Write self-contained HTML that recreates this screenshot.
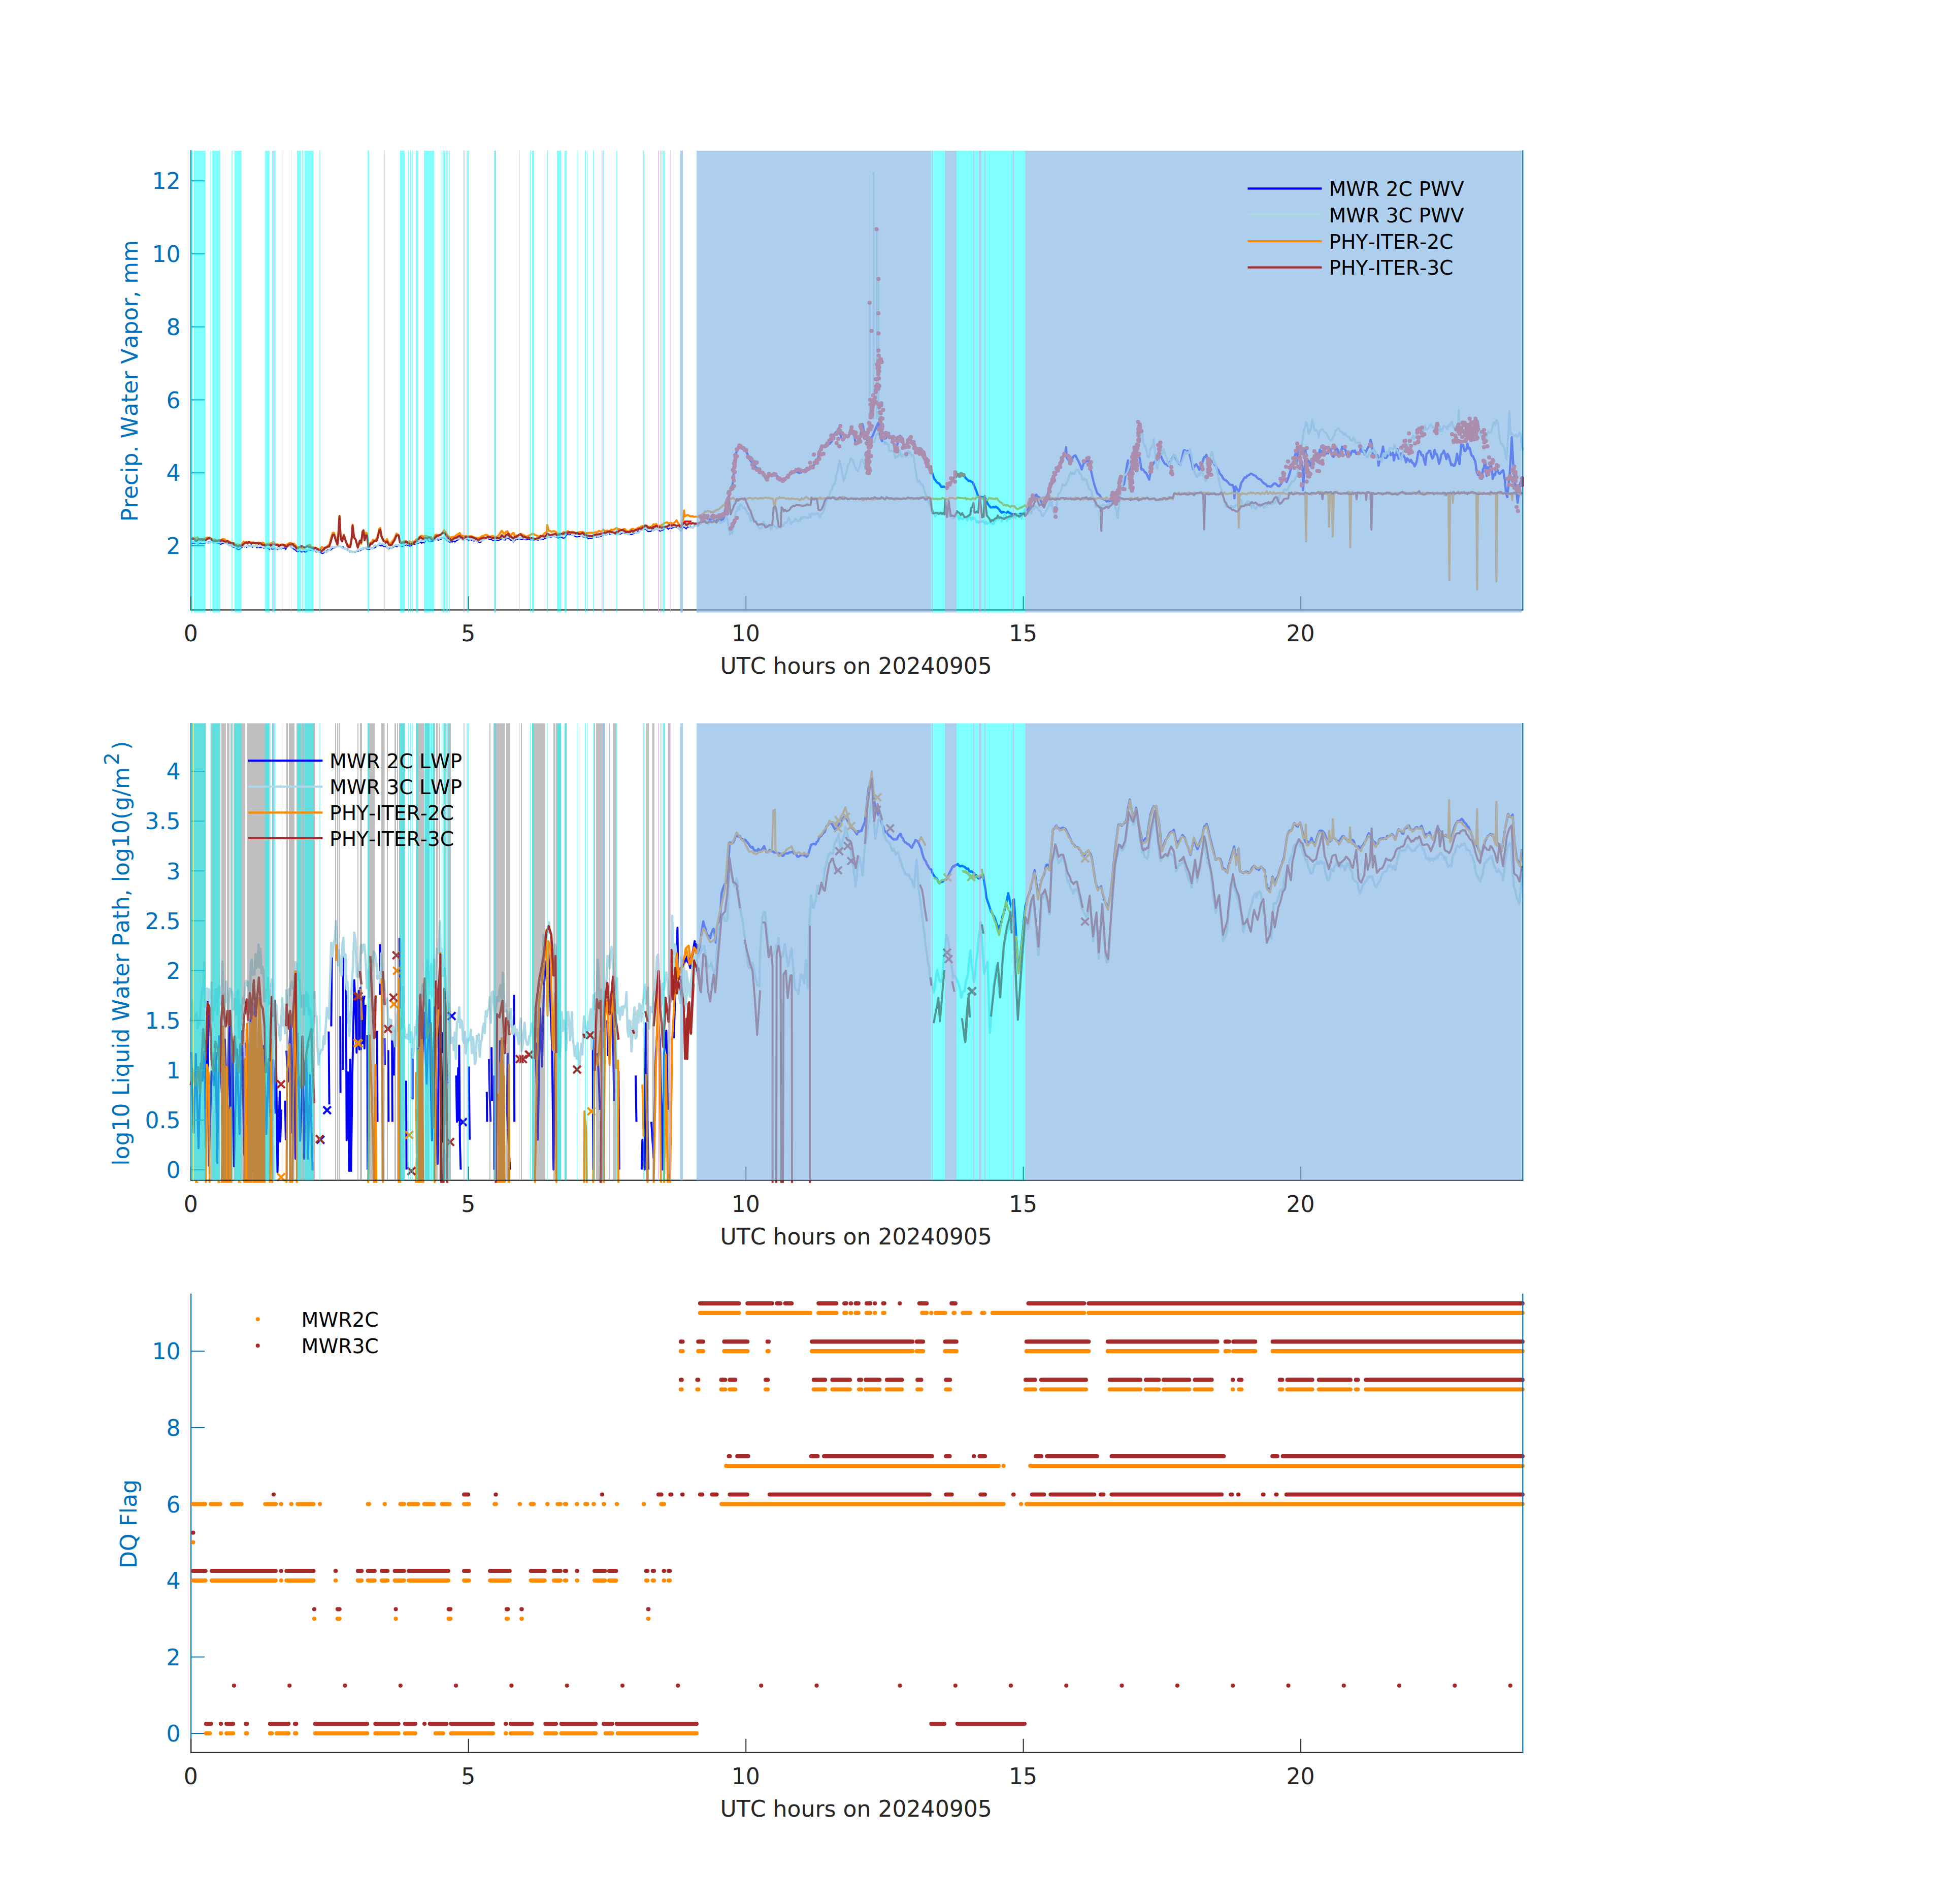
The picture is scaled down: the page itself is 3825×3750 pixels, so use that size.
<!DOCTYPE html>
<html><head><meta charset="utf-8"><title>MWR retrievals 20240905</title>
<style>html,body{margin:0;padding:0;background:#fff}svg{display:block}</style></head>
<body>
<svg width="3825" height="3750" viewBox="0 0 3825 3750" font-family="'DejaVu Sans','Liberation Sans',sans-serif" style="font-kerning:none">
<rect width="3825" height="3750" fill="#fff"/>
<g id="ax1">
<clipPath id="cl0"><rect x="373.2" y="296.7" width="2631.1" height="909.6"/></clipPath>
<g clip-path="url(#cl0)"><path d="M376.7 1069.4L378.9 1071.0L381.2 1068.8L383.4 1070.4L385.6 1069.5L387.9 1069.0L390.1 1071.7L392.3 1070.6L394.5 1069.8L396.8 1070.5L399.0 1071.2L401.2 1070.0L403.5 1070.2L405.7 1068.2L407.9 1068.0L410.2 1067.8L412.4 1066.9L414.6 1066.4L416.9 1066.2L419.1 1068.1L421.3 1069.3L423.6 1069.7L425.8 1070.4L428.1 1069.0L430.4 1070.0L432.7 1071.0L435.0 1072.2L437.3 1070.6L439.6 1070.6L442.3 1069.1L445.0 1070.8L447.7 1069.6L450.3 1070.5L452.6 1074.8L454.9 1072.8L457.2 1076.4L459.5 1077.8L461.8 1078.1L464.1 1079.7L466.4 1080.9L469.1 1082.5L471.8 1081.9L474.4 1079.5L477.1 1077.6L479.3 1076.6L481.6 1077.2L483.8 1076.3L486.0 1078.2L488.3 1075.0L490.5 1074.4L492.7 1074.6L495.0 1073.2L497.2 1077.9L499.4 1074.3L501.7 1075.6L503.9 1075.9L506.2 1079.2L508.5 1076.0L510.8 1078.8L513.1 1077.8L515.4 1078.3L517.7 1078.1L519.9 1079.8L522.6 1078.3L525.3 1079.0L528.0 1080.0L530.7 1082.5L533.0 1078.0L535.3 1081.3L537.5 1082.0L539.8 1080.5L542.1 1080.9L544.4 1080.1L546.7 1082.5L549.0 1081.6L551.3 1080.6L553.6 1080.1L555.9 1079.9L558.2 1079.8L560.5 1078.8L562.8 1082.1L565.5 1076.4L568.1 1070.5L570.8 1074.7L573.5 1077.3L576.2 1079.9L578.9 1081.5L581.5 1083.2L584.2 1085.7L586.5 1086.7L588.8 1085.3L591.1 1084.7L593.4 1087.4L595.7 1086.7L598.0 1084.4L600.3 1087.7L603.0 1086.9L605.6 1084.7L608.3 1082.8L611.0 1083.8L613.3 1083.3L615.6 1083.1L617.9 1082.9L620.2 1084.2L622.5 1087.2L624.8 1086.7L627.1 1085.5L629.3 1087.8L631.5 1088.3L633.7 1089.7L636.0 1090.1L638.2 1088.1L640.4 1086.8L643.1 1085.4L645.8 1082.5L648.5 1082.9L651.2 1083.3L653.8 1081.1L656.5 1079.7L659.2 1078.9L661.9 1077.5L664.5 1075.8L667.2 1074.8L669.9 1075.7L672.6 1077.3L675.3 1076.7L677.9 1079.3L680.2 1081.5L682.4 1081.9L684.6 1081.6L686.9 1084.1L689.1 1087.0L691.3 1086.1L694.0 1086.0L696.7 1086.1L699.4 1087.9L702.0 1085.3L704.7 1086.0L707.4 1084.0L710.1 1084.3L712.7 1082.8L715.4 1081.3L718.1 1079.8L720.8 1080.5L723.5 1081.5L726.1 1082.2L728.8 1081.4L731.5 1079.3L734.2 1079.3L736.8 1079.6L739.5 1077.8L742.2 1075.6L744.9 1074.0L747.6 1074.1L750.2 1075.3L752.9 1074.4L755.6 1076.2L758.3 1076.6L760.9 1077.1L763.6 1080.6L766.3 1080.8L769.0 1078.7L771.6 1078.7L774.3 1078.4L777.0 1076.3L779.7 1075.6L782.4 1076.7L785.0 1074.0L787.7 1075.5L790.4 1076.3L793.1 1076.1L795.7 1073.3L798.4 1074.0L801.1 1073.0L803.8 1074.6L806.5 1075.4L809.1 1075.3L811.8 1073.0L814.5 1071.6L817.2 1072.3L819.8 1069.7L822.5 1069.9L825.2 1069.4L827.9 1067.6L830.6 1069.8L833.2 1067.8L835.9 1069.5L838.6 1064.5L841.3 1061.8L843.9 1065.4L846.6 1066.7L849.3 1066.2L852.0 1066.5L854.2 1063.4L856.4 1063.3L858.7 1062.4L860.9 1062.6L863.1 1063.9L865.4 1062.9L867.7 1062.6L870.1 1060.6L872.4 1059.7L874.7 1059.7L877.4 1061.2L880.1 1065.0L882.8 1064.8L885.4 1068.4L888.0 1066.6L890.7 1067.7L893.4 1065.6L896.1 1067.5L898.4 1065.3L900.8 1063.9L903.1 1063.0L905.4 1060.0L907.7 1060.1L909.9 1059.5L912.1 1064.3L914.8 1062.6L917.5 1061.6L920.2 1061.5L922.8 1065.1L925.5 1062.2L928.2 1063.9L930.9 1064.1L933.6 1065.7L936.2 1063.6L938.9 1064.9L941.6 1067.3L944.3 1068.1L946.9 1068.0L949.6 1064.2L952.3 1063.1L955.0 1062.6L957.7 1060.6L960.3 1059.5L963.0 1061.8L965.7 1062.7L968.4 1062.8L971.0 1064.8L973.7 1063.1L976.4 1064.3L979.1 1064.2L981.8 1064.2L984.0 1063.5L986.2 1062.1L988.4 1060.8L992.5 1063.5L994.7 1063.9L996.9 1060.2L999.2 1059.3L1001.4 1060.9L1003.6 1061.3L1005.9 1064.0L1008.5 1064.0L1011.2 1067.6L1013.9 1064.3L1016.6 1062.3L1019.2 1061.6L1021.9 1062.2L1024.6 1062.3L1027.3 1062.1L1029.9 1061.7L1032.6 1061.0L1035.3 1063.2L1038.0 1063.1L1040.7 1061.3L1043.3 1062.9L1046.0 1063.4L1048.7 1062.5L1051.4 1064.4L1054.0 1062.7L1056.7 1062.6L1059.4 1064.3L1062.1 1062.5L1064.8 1063.2L1067.4 1061.3L1070.1 1062.9L1072.8 1060.4L1075.5 1059.7L1078.1 1056.3L1080.8 1056.7L1083.5 1058.4L1086.2 1058.4L1088.9 1055.1L1091.5 1056.9L1094.2 1057.5L1096.9 1057.2L1099.6 1059.9L1102.2 1058.3L1104.9 1058.1L1107.6 1059.3L1110.3 1059.8L1113.0 1058.9L1115.6 1054.6L1118.3 1051.1L1121.0 1053.4L1123.7 1052.2L1126.3 1053.7L1129.0 1053.0L1131.7 1055.9L1134.4 1057.1L1137.1 1057.5L1139.7 1056.9L1142.4 1056.8L1145.1 1056.3L1147.8 1057.1L1150.4 1057.8L1153.1 1058.6L1155.8 1058.1L1158.5 1061.3L1161.2 1059.8L1163.8 1060.3L1166.5 1060.1L1169.2 1056.9L1171.9 1054.8L1174.5 1057.8L1177.2 1057.1L1179.9 1057.5L1182.6 1056.3L1185.3 1055.8L1187.9 1053.3L1190.6 1053.5L1193.3 1052.9L1196.0 1053.0L1198.6 1049.7L1201.3 1052.4L1204.0 1052.8L1206.7 1050.2L1209.4 1050.2L1212.0 1051.0L1214.7 1052.0L1217.4 1051.4L1220.1 1052.7L1222.7 1051.5L1225.4 1049.6L1228.1 1049.0L1230.8 1051.0L1233.5 1050.2L1236.1 1051.9L1238.8 1053.1L1241.5 1052.6L1244.2 1052.9L1246.8 1051.3L1249.5 1050.6L1252.2 1049.0L1254.9 1047.9L1257.6 1045.7L1260.2 1045.7L1262.9 1044.2L1265.6 1042.3L1268.3 1042.9L1270.9 1042.9L1273.6 1043.7L1276.3 1047.1L1279.0 1047.0L1281.6 1046.8L1284.3 1044.4L1287.0 1041.4L1289.7 1042.2L1292.4 1041.8L1295.0 1043.5L1297.7 1044.3L1300.4 1046.3L1303.1 1044.3L1305.7 1044.4L1308.4 1042.1L1311.1 1039.0L1313.8 1039.8L1316.5 1042.5L1319.1 1039.3L1321.8 1041.1L1324.5 1039.5L1327.2 1038.9L1329.8 1038.9L1332.5 1038.9L1335.2 1039.6L1337.9 1042.4L1340.6 1045.9L1342.8 1043.6L1345.0 1038.8L1347.3 1038.0L1349.5 1039.9L1351.7 1041.7L1353.9 1037.8L1356.6 1038.3L1359.3 1036.1L1362.0 1038.3L1364.5 1038.4L1367.1 1035.7L1369.6 1033.5L1372.2 1034.3" stroke="#0000FF" stroke-width="2.2" fill="none" stroke-linejoin="round" />
<path d="M1372.2 1034.3L1374.4 1034.5L1376.7 1032.0L1379.0 1030.9L1381.3 1026.8L1383.6 1026.7L1385.8 1027.1L1388.1 1026.6L1390.4 1027.6L1392.7 1023.8L1394.9 1021.0L1397.1 1023.3L1399.3 1022.9L1401.5 1023.8L1403.7 1024.7L1405.9 1024.9L1408.1 1026.1L1410.3 1026.4L1412.5 1022.5L1414.8 1022.8L1417.0 1025.6L1419.2 1023.6L1421.4 1024.5L1423.6 1023.5L1425.9 1019.1L1428.2 1017.9L1430.5 1014.7L1432.9 1009.7L1435.9 973.4L1439.0 966.2L1442.1 961.2L1445.2 932.3L1448.3 898.0L1450.6 890.3L1452.9 885.4L1456.0 881.2L1459.1 878.0L1461.7 881.3L1464.3 882.9L1466.8 885.0L1469.2 888.9L1471.5 892.6L1473.8 898.7L1476.1 903.7L1478.4 907.8L1480.7 910.4L1483.1 912.9L1485.4 917.7L1487.8 919.2L1490.3 922.2L1492.8 922.6L1495.3 925.9L1497.7 931.4L1500.2 931.8L1502.7 932.8L1505.1 936.3L1507.6 941.7L1510.1 945.2L1513.2 939.4L1516.3 934.5L1518.7 935.1L1521.2 934.7L1523.7 936.1L1526.2 936.6L1528.6 935.7L1531.1 938.0L1533.6 940.5L1536.0 941.8L1538.5 943.1L1541.0 947.4L1543.3 948.2L1545.6 944.9L1547.9 942.3L1550.3 941.6L1552.6 938.2L1554.9 934.5L1557.2 934.2L1559.5 929.4L1562.0 928.9L1564.5 928.7L1566.9 928.3L1569.4 929.0L1571.9 930.4L1574.4 931.6L1576.8 930.7L1579.3 929.2L1581.8 926.4L1584.2 926.4L1586.7 924.6L1589.2 924.4L1591.7 925.2L1594.1 924.1L1596.6 922.5L1599.1 919.0L1601.5 917.0L1604.0 915.0L1606.5 911.3L1609.0 908.9L1612.0 899.9L1615.1 886.5L1617.6 883.9L1620.1 880.1L1622.6 880.2L1625.0 877.4L1627.5 874.3L1629.8 874.1L1632.1 873.9L1634.4 873.8L1636.8 871.3L1639.1 867.2L1641.4 862.8L1643.7 855.2L1646.0 851.7L1649.1 849.3L1652.2 843.7L1655.3 854.7L1658.4 865.8L1660.9 863.8L1663.3 863.1L1665.8 859.6L1668.3 858.4L1670.7 857.4L1673.1 856.1L1675.4 853.4L1677.7 850.5L1680.0 849.2L1682.3 856.9L1684.7 870.2L1687.2 870.7L1689.8 870.2L1692.4 871.6L1695.5 853.0L1698.6 835.0L1701.6 847.6L1704.7 858.6L1707.8 866.9L1710.9 871.9L1713.2 866.2L1715.5 861.5L1717.9 860.4L1720.2 855.1L1722.9 848.5L1725.6 842.1L1728.3 836.1L1731.0 831.7L1732.5 854.5L1734.9 862.2L1737.2 869.0L1739.7 867.2L1742.3 864.5L1744.9 862.5L1747.6 859.4L1750.3 859.2L1753.0 860.6L1755.7 859.9L1758.3 869.0L1760.9 875.4L1763.4 885.8L1765.8 879.8L1768.1 873.3L1770.4 867.5L1772.7 858.0L1775.0 864.1L1777.3 869.4L1779.7 878.3L1782.0 882.7L1784.3 876.4L1786.6 872.4L1788.9 865.1L1791.2 862.1L1794.3 866.6L1797.4 872.8L1799.7 877.9L1802.1 885.9L1804.4 885.8L1806.7 891.3L1809.3 888.3L1811.8 887.0L1814.4 883.6L1817.0 891.1L1819.6 897.8L1822.1 904.7L1824.5 909.3L1826.8 914.4L1829.1 919.7L1831.4 922.8L1834.3 928.1L1837.2 934.3L1840.2 943.6L1842.5 945.5L1844.8 949.5L1847.1 951.3L1849.4 951.9L1851.8 955.3L1854.1 959.0L1856.4 958.7L1858.7 958.4L1861.8 959.3L1864.9 962.8L1867.2 958.3L1869.5 954.6L1871.8 952.4L1874.1 948.6L1876.5 945.2L1878.8 940.8L1881.1 936.8L1883.4 934.2L1885.7 934.6L1888.1 935.3L1890.4 934.2L1892.7 934.8L1895.0 935.3L1897.3 934.9L1900.0 938.5L1902.7 942.4L1905.4 944.8L1908.1 947.4L1910.7 946.8L1913.3 948.9L1915.9 949.8L1918.2 955.6L1920.5 961.0L1923.6 968.6L1926.7 978.1L1929.8 978.3L1932.9 978.8L1935.4 979.8L1938.0 979.5L1940.6 980.8L1942.9 986.1L1945.2 991.9L1948.3 996.0L1951.4 999.5L1953.9 999.3L1956.3 998.3L1958.8 999.2L1961.3 997.9L1963.7 999.7L1966.1 1001.4L1968.4 1003.9L1970.7 1007.3L1973.0 1009.8L1975.5 1008.1L1978.0 1009.0L1980.4 1010.6L1982.9 1009.7L1985.4 1007.9L1987.8 1010.0L1990.3 1011.1L1992.8 1012.3L1995.3 1012.4L1997.7 1012.6L2000.2 1012.6L2002.7 1014.1L2005.1 1013.5L2007.6 1013.3L2010.1 1011.8L2012.3 1012.9L2014.6 1011.4L2016.8 1011.7L2019.1 1007.9L2022.4 1007.9L2025.5 1000.5L2028.6 992.4L2031.7 988.3L2034.8 982.0L2037.9 978.1L2041.0 974.1L2044.1 978.4L2047.2 979.7L2050.3 987.2L2053.3 993.0L2056.4 997.9L2058.8 990.8L2061.1 982.7L2063.4 975.4L2065.7 966.3L2068.8 959.1L2071.9 948.4L2075.0 942.6L2078.1 934.1L2080.4 928.9L2082.7 925.3L2085.0 920.9L2087.3 914.6L2090.4 907.5L2093.5 901.0L2095.8 898.1L2098.1 894.0L2099.7 880.8L2101.2 901.8L2103.8 905.1L2106.4 909.1L2109.0 912.5L2112.0 903.1L2115.1 898.1L2118.2 896.8L2121.3 903.0L2124.4 909.0L2127.5 915.8L2130.6 924.6L2132.9 916.9L2135.2 910.5L2137.5 910.9L2139.9 907.9L2142.2 908.3L2144.5 904.4L2147.6 921.1L2150.2 933.1L2152.7 944.2L2155.3 954.3L2158.4 963.4L2161.5 971.9L2163.8 973.5L2166.1 975.7L2168.4 980.0L2170.7 982.4L2173.1 982.7L2175.4 983.9L2177.7 985.7L2180.0 987.7L2182.6 986.8L2185.2 986.7L2187.7 987.6L2190.3 987.6L2192.9 982.8L2195.5 980.3L2197.8 973.8L2200.1 972.3L2202.4 966.9L2204.7 963.3L2207.1 960.5L2209.4 958.2L2211.7 955.9L2214.0 953.4L2216.6 937.0L2219.2 919.7L2221.7 906.8L2224.8 936.5L2227.9 920.8L2231.0 907.0L2233.3 895.6L2235.6 884.0L2237.9 888.7L2240.3 895.8L2242.6 898.1L2244.9 902.3L2248.0 924.8L2250.3 923.9L2252.6 926.0L2254.9 930.3L2257.3 931.0L2260.3 937.6L2263.4 944.7L2265.8 930.3L2268.1 918.9L2270.5 915.1L2273.0 911.0L2275.5 908.6L2278.0 906.1L2280.4 902.8L2283.5 880.7L2286.6 898.1L2289.2 904.4L2291.8 909.3L2294.3 913.4L2297.4 914.8L2300.5 917.5L2303.6 910.7L2306.7 906.0L2309.8 901.4L2312.9 895.9L2316.0 902.7L2319.0 909.6L2322.1 913.0L2325.2 916.2L2328.3 901.4L2331.4 887.4L2333.7 886.7L2336.0 890.9L2338.4 888.2L2340.7 888.2L2343.0 895.6L2345.3 903.8L2347.6 912.8L2349.9 924.1L2353.0 917.5L2356.1 914.3L2359.2 919.2L2362.3 925.5L2364.6 917.8L2366.9 915.3L2369.3 907.7L2371.6 900.2L2373.9 900.2L2376.2 895.8L2378.5 903.3L2380.8 910.1L2383.1 908.8L2385.3 907.5L2387.5 908.5L2389.7 911.3L2392.2 915.1L2394.6 918.2L2397.0 923.5L2399.5 925.5L2401.9 931.6L2404.3 934.8L2406.8 937.4L2409.2 942.7L2411.8 945.1L2414.4 946.1L2417.0 948.3L2419.6 951.4L2422.2 954.4L2424.9 955.2L2427.6 955.0L2430.3 962.8L2431.3 981.3L2433.5 958.0L2436.8 963.6L2440.0 967.8L2442.4 961.2L2444.9 950.8L2448.1 946.3L2451.4 940.2L2453.8 940.9L2456.2 937.5L2458.7 936.4L2461.1 935.0L2463.5 932.8L2466.0 933.6L2468.4 935.6L2470.8 936.1L2473.4 937.7L2476.0 940.7L2478.6 943.2L2481.2 943.5L2483.8 945.3L2486.2 948.6L2488.7 950.9L2491.1 953.2L2493.5 953.9L2496.0 957.7L2498.4 957.3L2500.8 958.2L2503.3 958.6L2506.5 955.4L2509.8 952.2L2512.2 952.2L2514.6 954.4L2517.1 957.2L2519.5 958.0L2521.9 954.7L2524.4 950.8L2526.8 946.5L2529.2 944.9L2531.7 945.8L2534.1 949.3L2536.8 942.8L2539.5 934.7L2542.2 925.1L2544.6 916.1L2547.1 911.0L2549.5 901.0L2551.9 893.2L2555.2 881.1L2556.8 916.6L2559.2 910.9L2561.7 904.5L2564.1 916.4L2566.5 930.0L2566.5 965.2L2569.8 918.4L2571.4 885.8L2573.0 918.5L2575.1 914.5L2577.1 907.1L2579.1 909.7L2581.1 917.5L2583.6 912.0L2586.0 905.2L2588.4 897.1L2590.9 898.3L2593.0 895.9L2595.2 898.4L2597.4 901.0L2599.5 885.7L2601.7 894.4L2603.8 888.1L2606.3 887.4L2608.7 883.6L2611.1 894.0L2613.6 891.7L2615.7 892.9L2617.9 888.0L2620.1 884.9L2622.2 891.9L2624.4 898.2L2626.6 899.7L2628.7 895.1L2630.9 881.5L2633.0 883.8L2635.2 886.2L2637.4 899.3L2639.5 897.4L2641.6 888.6L2643.6 879.8L2645.6 883.7L2647.6 882.2L2650.1 886.8L2652.5 896.3L2654.9 894.2L2657.4 894.3L2659.8 896.3L2662.2 889.1L2664.4 887.9L2666.6 890.0L2668.7 887.5L2671.2 894.0L2673.6 893.4L2676.0 892.8L2678.5 891.2L2680.9 878.7L2683.3 889.7L2685.8 887.3L2688.2 895.2L2690.5 889.0L2692.7 884.9L2695.0 880.4L2697.3 878.2L2699.5 865.9L2702.0 875.9L2704.4 901.3L2706.6 900.6L2708.7 896.0L2710.9 896.1L2713.1 896.4L2715.2 917.1L2717.4 906.4L2719.6 899.1L2721.7 892.2L2723.9 879.6L2726.0 891.9L2728.2 901.9L2730.4 901.8L2732.5 898.5L2734.7 893.4L2736.9 889.6L2739.0 896.3L2741.2 895.3L2743.3 891.5L2745.5 906.7L2747.7 895.7L2749.8 896.2L2752.3 884.3L2754.7 903.4L2757.1 895.5L2759.6 893.1L2762.0 899.0L2764.4 897.2L2766.9 901.3L2769.3 910.4L2771.7 902.8L2774.2 905.7L2776.6 909.3L2779.0 905.6L2781.5 911.4L2783.9 912.6L2786.3 918.5L2788.8 913.5L2790.9 906.4L2793.1 891.3L2795.2 888.1L2797.7 889.8L2800.1 897.0L2802.5 896.3L2805.0 907.0L2807.4 915.3L2809.8 893.7L2812.3 892.3L2814.7 887.8L2816.9 888.0L2819.0 896.6L2821.2 903.1L2823.4 899.6L2825.5 885.9L2827.7 894.4L2829.9 894.6L2832.0 901.4L2834.2 913.6L2836.6 907.1L2839.0 894.9L2841.5 892.6L2843.9 887.7L2846.3 894.3L2848.8 904.1L2851.2 894.1L2853.6 898.4L2856.1 908.0L2858.5 916.2L2860.9 914.6L2863.4 917.8L2865.5 916.6L2867.7 907.0L2869.9 893.8L2872.3 906.3L2874.7 914.0L2878.0 875.0L2880.0 878.8L2882.0 876.8L2884.1 887.8L2886.1 888.4L2888.2 884.6L2890.4 873.9L2892.6 883.4L2894.7 882.1L2896.9 892.0L2899.1 897.9L2901.2 897.9L2903.4 904.2L2905.5 907.9L2908.8 930.4L2911.2 935.2L2913.7 933.5L2916.1 942.5L2918.5 943.0L2920.7 924.7L2922.8 921.2L2925.0 907.2L2928.3 937.4L2930.7 920.2L2933.1 929.8L2935.6 915.2L2938.0 920.4L2940.2 943.3L2942.3 934.6L2944.5 935.9L2946.6 927.1L2948.8 923.9L2951.0 929.9L2953.4 933.7L2955.8 931.6L2958.3 927.9L2960.7 926.1L2963.9 944.6L2966.4 971.0L2968.8 979.0L2971.2 954.4L2973.7 933.3L2977.6 861.3L2980.2 910.3L2982.3 932.2L2984.5 954.5L2986.7 965.5L2989.2 990.1L2993.1 955.5L2995.6 948.0L2998.0 953.1" stroke="#0000FF" stroke-width="4.5" fill="none" stroke-linejoin="round" />
<path d="M1720.7 338.8L1720.7 825.8" stroke="#ADD8E6" stroke-width="3.5" fill="none" stroke-linejoin="round" />
<path d="M1726.7 453.9L1726.7 825.8" stroke="#ADD8E6" stroke-width="3.5" fill="none" stroke-linejoin="round" />
<path d="M1730.2 551.6L1730.2 825.8" stroke="#ADD8E6" stroke-width="3.5" fill="none" stroke-linejoin="round" />
<path d="M1712.8 598.9L1712.8 825.8" stroke="#ADD8E6" stroke-width="3.5" fill="none" stroke-linejoin="round" />
<path d="M376.7 1067.2L378.9 1067.7L381.2 1066.8L383.4 1067.4L385.6 1068.5L387.9 1068.3L390.1 1069.7L392.3 1067.1L394.5 1067.2L396.8 1066.2L399.0 1065.6L401.2 1066.0L403.5 1066.7L405.7 1067.3L407.9 1067.6L410.2 1069.9L412.4 1069.5L414.6 1066.3L416.9 1067.4L419.1 1066.9L421.3 1067.1L423.6 1069.7L425.8 1068.8L428.1 1066.2L430.4 1068.1L432.7 1068.2L435.0 1067.2L437.3 1067.1L439.6 1067.5L442.3 1069.1L445.0 1069.7L447.7 1070.9L450.3 1074.2L452.6 1072.7L454.9 1072.5L457.2 1073.6L459.5 1076.4L461.8 1075.7L464.1 1078.7L466.4 1076.9L469.1 1076.7L471.8 1078.3L474.4 1076.3L477.1 1075.0L479.3 1076.1L481.6 1076.8L483.8 1076.1L486.0 1075.1L488.3 1076.6L490.5 1075.9L492.7 1075.0L495.0 1076.5L497.2 1074.5L499.4 1075.0L501.7 1075.9L503.9 1075.5L506.2 1074.9L508.5 1076.0L510.8 1075.4L513.1 1075.3L515.4 1074.8L517.7 1077.9L519.9 1077.0L522.6 1078.8L525.3 1078.7L528.0 1077.8L530.7 1078.8L533.0 1078.7L535.3 1078.5L537.5 1076.5L539.8 1077.5L542.1 1079.1L544.4 1079.3L546.7 1080.1L549.0 1081.0L551.3 1080.0L553.6 1081.5L555.9 1077.6L558.2 1077.4L560.5 1074.3L562.8 1077.3L565.5 1075.7L568.1 1076.0L570.8 1075.6L573.5 1074.0L576.2 1078.4L578.9 1078.1L581.5 1079.0L584.2 1081.9L586.5 1083.3L588.8 1082.5L591.1 1082.9L593.4 1080.4L595.7 1084.0L598.0 1083.1L600.3 1083.0L603.0 1083.4L605.6 1082.9L608.3 1082.6L611.0 1080.9L613.3 1081.7L615.6 1083.1L617.9 1084.8L620.2 1084.3L622.5 1084.7L624.8 1085.4L627.1 1086.3L629.3 1086.4L631.5 1086.0L633.7 1085.7L636.0 1086.9L638.2 1086.1L640.4 1085.0L643.1 1088.0L645.8 1085.2L648.5 1083.1L651.2 1080.5L653.8 1077.1L656.5 1078.5L659.2 1077.3L661.9 1076.7L664.5 1076.6L667.2 1075.8L669.9 1076.4L672.6 1077.1L675.3 1080.2L677.9 1079.9L680.2 1079.2L682.4 1082.2L684.6 1083.7L686.9 1083.9L689.1 1085.1L691.3 1085.3L694.0 1087.8L696.7 1086.7L699.4 1086.4L702.0 1086.2L704.7 1083.2L707.4 1083.2L710.1 1081.5L712.7 1081.9L715.4 1078.9L718.1 1080.0L720.8 1078.1L723.5 1079.0L726.1 1079.0L728.8 1079.1L731.5 1080.6L734.2 1080.6L736.8 1075.9L739.5 1074.1L742.2 1075.0L744.9 1073.6L747.6 1069.8L750.2 1072.1L752.9 1071.4L755.6 1072.0L758.3 1072.5L760.9 1074.7L763.6 1079.6L766.3 1078.6L769.0 1077.3L771.6 1080.0L774.3 1076.6L777.0 1074.9L779.7 1073.6L782.4 1074.3L785.0 1073.6L787.7 1075.6L790.4 1073.8L793.1 1073.8L795.7 1073.1L798.4 1071.1L801.1 1070.4L803.8 1071.4L806.5 1068.9L809.1 1071.0L811.8 1070.9L814.5 1070.4L817.2 1069.3L819.8 1068.9L822.5 1067.2L825.2 1067.2L827.9 1063.6L830.6 1064.8L833.2 1063.1L835.9 1064.0L838.6 1062.9L841.3 1062.3L843.9 1062.0L846.6 1064.9L849.3 1063.2L852.0 1062.4L854.2 1063.1L856.4 1063.2L858.7 1062.5L860.9 1060.5L863.1 1059.7L865.4 1061.0L867.7 1058.6L870.1 1059.4L872.4 1059.5L874.7 1058.4L877.4 1058.2L880.1 1063.2L882.8 1064.1L885.4 1064.6L888.0 1064.5L890.7 1062.9L893.4 1062.9L896.1 1063.2L898.4 1060.8L900.8 1060.3L903.1 1060.7L905.4 1059.2L907.7 1059.7L909.9 1062.2L912.1 1063.9L914.8 1063.4L917.5 1060.5L920.2 1057.4L922.8 1060.5L925.5 1061.3L928.2 1061.4L930.9 1063.0L933.6 1062.7L936.2 1062.6L938.9 1066.1L941.6 1063.5L944.3 1064.3L946.9 1064.3L949.6 1064.7L952.3 1062.4L955.0 1061.9L957.7 1059.7L960.3 1059.9L963.0 1057.0L965.7 1058.3L968.4 1059.7L971.0 1060.5L973.7 1060.6L976.4 1062.8L979.1 1060.3L981.8 1061.5L984.0 1059.9L986.2 1059.1L988.4 1057.9L992.5 1063.2L994.7 1058.6L996.9 1058.8L999.2 1057.9L1001.4 1058.1L1003.6 1058.5L1005.9 1058.9L1008.5 1060.5L1011.2 1066.0L1013.9 1060.5L1016.6 1060.6L1019.2 1058.3L1021.9 1060.9L1024.6 1059.8L1027.3 1056.8L1029.9 1057.7L1032.6 1059.5L1035.3 1060.7L1038.0 1059.2L1040.7 1059.2L1043.3 1058.9L1046.0 1060.8L1048.7 1061.8L1051.4 1062.5L1054.0 1061.6L1056.7 1063.1L1059.4 1062.0L1062.1 1061.3L1064.8 1060.8L1067.4 1060.4L1070.1 1059.9L1072.8 1056.3L1075.5 1058.1L1078.1 1057.2L1080.8 1058.1L1083.5 1056.1L1086.2 1056.5L1088.9 1055.7L1091.5 1054.8L1094.2 1056.5L1096.9 1055.2L1099.6 1056.7L1102.2 1054.8L1104.9 1056.1L1107.6 1055.5L1110.3 1053.9L1113.0 1052.6L1115.6 1049.2L1118.3 1048.4L1121.0 1050.7L1123.7 1048.2L1126.3 1052.3L1129.0 1054.1L1131.7 1052.8L1134.4 1051.5L1137.1 1051.2L1139.7 1051.2L1142.4 1051.9L1145.1 1056.2L1147.8 1053.9L1150.4 1055.8L1153.1 1057.5L1155.8 1055.8L1158.5 1056.2L1161.2 1056.8L1163.8 1055.0L1166.5 1056.4L1169.2 1058.0L1171.9 1056.2L1174.5 1054.5L1177.2 1055.7L1179.9 1056.0L1182.6 1053.8L1185.3 1053.1L1187.9 1052.5L1190.6 1052.8L1193.3 1053.5L1196.0 1051.4L1198.6 1049.1L1201.3 1047.7L1204.0 1051.5L1206.7 1050.1L1209.4 1049.4L1212.0 1052.6L1214.7 1052.1L1217.4 1053.2L1220.1 1050.3L1222.7 1048.3L1225.4 1047.5L1228.1 1048.6L1230.8 1049.1L1233.5 1049.5L1236.1 1052.3L1238.8 1052.5L1241.5 1049.0L1244.2 1049.2L1246.8 1049.4L1249.5 1047.6L1252.2 1050.3L1254.9 1049.2L1257.6 1049.2L1260.2 1046.1L1262.9 1043.0L1265.6 1043.5L1268.3 1041.7L1270.9 1039.8L1273.6 1041.5L1276.3 1043.3L1279.0 1043.0L1281.6 1042.2L1284.3 1042.5L1287.0 1045.1L1289.7 1043.5L1292.4 1040.1L1295.0 1043.2L1297.7 1041.8L1300.4 1040.2L1303.1 1038.9L1305.7 1037.2L1308.4 1040.4L1311.1 1038.6L1313.8 1037.1L1316.5 1037.3L1319.1 1037.7L1321.8 1036.2L1324.5 1036.2L1327.2 1036.7L1329.8 1037.5L1332.5 1035.5L1335.2 1038.9L1337.9 1041.0L1340.6 1044.2L1342.8 1039.8L1345.0 1035.3L1347.3 1034.4L1349.5 1035.3L1351.7 1034.3L1353.9 1034.0L1356.6 1036.0L1359.3 1038.9L1362.0 1038.3L1364.5 1039.8L1367.1 1037.1L1369.6 1035.4L1372.2 1034.4L1392.7 1024.2L1394.7 1032.2L1396.8 1029.7L1398.9 1029.1L1400.9 1027.3L1403.0 1025.9L1405.0 1026.6L1407.1 1024.5L1409.2 1021.5L1411.2 1020.1L1413.3 1018.9L1415.3 1023.7L1417.4 1026.3L1419.5 1031.0L1421.5 1028.5L1423.6 1027.0L1425.9 1027.2L1428.2 1024.3L1430.5 1016.2L1432.9 1023.7L1435.2 1036.2L1437.5 1053.2L1439.8 1045.8L1442.1 1050.6L1444.4 1038.3L1446.8 1025.5L1449.1 1009.6L1451.4 1005.6L1453.7 998.9L1456.0 1002.9L1458.3 993.1L1460.7 994.0L1463.0 1000.8L1465.3 998.0L1467.6 1002.3L1469.9 1005.4L1472.1 1011.8L1474.3 1010.8L1476.5 1017.1L1478.8 1026.4L1481.0 1018.5L1483.2 1020.8L1485.4 1028.6L1487.4 1027.2L1489.5 1025.1L1491.6 1035.5L1493.6 1037.8L1495.7 1039.9L1497.7 1041.4L1499.8 1040.3L1501.9 1034.5L1503.9 1027.2L1506.0 1035.7L1508.0 1032.6L1510.1 1035.8L1512.2 1038.2L1514.2 1033.0L1516.3 1034.9L1518.3 1043.0L1520.4 1041.9L1522.4 1032.9L1524.5 1035.3L1526.6 1036.8L1528.6 1039.4L1530.7 1040.7L1532.7 1038.2L1534.8 1036.8L1536.9 1039.4L1538.9 1031.1L1541.0 1037.2L1543.0 1035.4L1545.1 1031.1L1547.2 1028.7L1549.4 1030.6L1551.6 1024.5L1553.8 1019.1L1556.0 1026.9L1558.2 1032.6L1560.4 1028.0L1562.6 1026.9L1564.8 1025.9L1567.0 1021.6L1569.2 1024.9L1571.4 1026.9L1573.6 1024.1L1575.9 1026.0L1578.1 1019.1L1580.1 1021.2L1582.2 1017.7L1584.2 1017.0L1586.3 1019.1L1588.4 1018.9L1590.4 1020.8L1592.5 1020.2L1594.5 1012.9L1596.6 1019.1L1598.7 1010.1L1600.7 1012.1L1602.8 1013.6L1604.8 1012.1L1606.9 1013.2L1609.0 1011.3L1611.0 1009.9L1613.1 1017.7L1615.1 1018.7L1617.2 1012.0L1619.3 1011.4L1621.3 1008.7L1623.6 1002.4L1625.9 991.8L1628.3 985.9L1630.6 977.5L1632.9 978.2L1635.2 967.6L1637.5 966.6L1639.9 957.6L1642.2 953.9L1644.5 952.2L1646.8 937.1L1649.1 929.6L1651.4 916.4L1653.8 906.7L1656.3 918.4L1658.9 932.2L1661.5 947.2L1663.5 943.1L1665.6 933.3L1667.7 929.0L1670.2 915.3L1672.8 912.7L1675.4 903.2L1678.0 904.0L1680.5 908.3L1683.1 917.2L1685.2 921.0L1687.2 927.0L1689.3 927.8L1691.6 923.5L1693.9 917.1L1696.2 906.8L1698.6 904.7L1700.6 911.0L1702.7 914.5L1704.7 924.4L1706.8 922.4L1708.9 913.5L1710.9 900.1L1713.0 886.1L1715.0 879.6L1717.1 870.3L1719.4 869.7L1721.7 871.0L1724.0 864.8L1726.4 855.9L1728.4 855.8L1730.5 845.4L1732.5 841.2L1734.6 841.6L1736.7 858.8L1738.7 855.7L1740.8 864.7L1742.8 874.9L1744.9 870.9L1747.2 875.4L1749.5 875.0L1751.8 887.8L1754.2 889.0L1756.5 887.7L1758.8 887.7L1761.1 891.0L1763.4 902.0L1765.8 898.2L1768.1 899.6L1770.4 895.1L1772.7 888.1L1775.0 899.9L1777.3 899.3L1779.7 895.4L1782.0 896.1L1784.3 899.6L1786.6 897.3L1788.9 887.6L1791.2 892.7L1793.4 891.3L1795.6 897.8L1797.8 896.0L1800.0 900.1L1802.1 919.8L1804.1 928.7L1806.2 946.0L1808.5 948.8L1810.8 946.4L1813.1 953.7L1815.4 953.7L1817.5 954.7L1819.6 962.0L1821.6 968.3L1823.7 975.7L1825.7 978.1L1827.8 987.2L1829.9 992.5L1831.9 993.1L1834.0 1000.2L1836.0 1011.6L1838.1 1006.7L1840.2 1011.7L1842.2 1017.0L1844.3 1011.5L1846.3 1011.3L1848.4 1008.9L1850.5 1012.9L1852.5 1008.2L1854.6 1013.0L1856.6 1010.1L1858.7 1013.6L1860.9 1007.6L1863.0 1008.2L1865.2 1015.8L1867.4 1017.1L1869.5 1004.7L1871.7 1017.5L1873.8 1013.2L1876.0 1018.2L1878.2 1020.4L1880.3 1017.1L1882.4 1015.5L1884.4 1009.7L1886.5 1016.6L1888.6 1023.8L1890.6 1015.1L1892.7 1021.1L1894.7 1021.8L1896.8 1022.9L1898.9 1016.2L1900.9 1017.8L1903.0 1019.7L1905.0 1025.7L1907.1 1018.8L1909.2 1018.8L1911.2 1018.6L1913.3 1024.9L1915.3 1018.7L1917.4 1022.3L1919.5 1020.1L1921.5 1023.5L1923.6 1029.0L1925.6 1026.0L1927.7 1029.7L1929.8 1026.8L1931.8 1027.6L1933.9 1027.7L1935.9 1025.3L1938.0 1029.4L1940.1 1031.6L1942.1 1027.3L1944.2 1031.5L1946.2 1030.8L1948.3 1028.9L1950.4 1029.3L1952.4 1031.1L1954.5 1030.6L1956.5 1032.4L1958.6 1027.9L1960.7 1025.6L1962.7 1018.8L1964.8 1019.9L1966.8 1023.9L1968.9 1018.8L1971.0 1017.7L1973.0 1026.8L1975.1 1022.5L1977.1 1017.4L1979.2 1011.9L1981.3 1014.5L1983.3 1026.2L1985.4 1021.2L1987.4 1021.8L1989.5 1021.9L1991.6 1017.7L1993.6 1019.1L1995.7 1018.3L1997.7 1016.5L1999.8 1020.5L2001.9 1014.9L2003.9 1013.3L2006.0 1013.0L2008.0 1019.3L2010.1 1014.9L2012.2 1021.5L2014.2 1012.1L2016.3 1010.4L2018.3 1003.1L2020.4 1006.2L2022.4 1010.0L2024.5 1012.6L2026.6 1006.7L2028.6 1005.8L2030.7 1010.7L2032.7 1003.9L2034.8 1002.5L2036.9 1002.6L2038.9 995.5L2041.0 999.7L2043.3 999.6L2045.6 1005.2L2047.9 1005.2L2050.3 1009.4L2052.3 1016.1L2054.4 1016.8L2056.4 1012.0L2058.8 1009.6L2061.1 1004.8L2063.4 1000.3L2065.7 996.4L2067.8 988.4L2069.8 996.5L2071.9 988.3L2073.9 1004.3L2076.0 1010.5L2078.1 1019.6L2080.1 1003.5L2082.2 986.4L2084.2 972.9L2086.3 971.0L2088.4 968.9L2090.4 964.9L2092.7 953.6L2095.1 956.3L2097.4 955.9L2099.7 953.3L2102.0 949.5L2104.3 944.1L2106.6 935.1L2109.0 930.2L2111.3 934.9L2113.6 931.7L2115.9 934.7L2118.2 928.1L2120.3 925.1L2122.3 925.9L2124.4 925.4L2126.7 933.2L2129.0 933.6L2131.4 941.6L2133.7 945.7L2135.7 942.2L2137.8 944.4L2139.9 945.7L2142.2 954.6L2144.5 961.3L2146.8 964.6L2149.1 964.6L2151.4 975.4L2153.8 982.0L2156.1 986.8L2158.4 998.3L2160.7 995.7L2163.0 997.6L2165.3 996.7L2167.7 996.3L2169.7 1000.8L2171.8 994.6L2173.8 995.3L2175.9 995.7L2178.0 998.1L2180.0 994.1L2182.1 997.5L2184.1 992.8L2186.2 991.2L2188.3 990.2L2190.3 990.7L2192.4 989.6L2194.4 992.2L2196.5 998.9L2198.6 1004.2L2201.6 1020.2L2203.7 997.3L2205.8 983.0L2207.8 962.1L2209.9 958.1L2211.9 946.9L2214.0 935.5L2216.3 935.5L2218.6 932.9L2221.0 928.5L2223.3 921.4L2225.6 910.8L2227.9 900.1L2230.2 892.8L2232.5 885.4L2234.9 883.6L2237.2 876.0L2239.5 872.2L2241.8 867.2L2244.4 861.1L2247.0 853.8L2249.5 846.5L2251.8 870.9L2254.2 877.5L2256.2 879.9L2258.3 888.3L2260.3 899.5L2262.7 901.0L2265.0 890.1L2267.6 879.3L2270.1 881.0L2272.7 864.6L2274.8 888.5L2276.8 913.1L2278.9 922.2L2280.9 916.2L2283.0 908.3L2285.1 888.3L2287.4 895.1L2289.7 893.3L2292.0 884.6L2294.3 894.2L2296.6 898.4L2299.0 907.2L2301.3 914.6L2303.6 917.4L2305.9 905.6L2308.2 905.5L2310.6 901.1L2312.9 895.1L2314.9 898.0L2317.0 903.1L2319.0 911.6L2321.1 910.5L2323.2 912.1L2325.2 917.0L2327.5 911.0L2329.9 903.6L2332.2 896.6L2334.5 889.3L2336.8 894.1L2339.1 890.6L2341.4 892.8L2343.8 885.0L2346.1 894.4L2348.4 908.0L2350.7 923.2L2353.0 929.2L2356.1 938.8L2358.4 939.6L2360.8 931.6L2363.1 936.5L2365.4 927.7L2367.7 927.8L2370.0 935.8L2372.3 938.1L2374.7 947.7L2377.0 937.7L2379.4 926.5L2381.8 907.2L2384.1 901.4L2386.5 889.8L2388.7 893.0L2390.8 912.6L2393.0 910.6L2395.1 919.6L2397.3 928.7L2399.5 938.3L2401.6 950.2L2403.8 960.7L2406.0 963.9L2408.1 974.7L2410.3 983.4L2412.4 989.3L2414.9 997.7L2417.3 995.6L2419.7 998.4L2422.2 1001.7L2424.6 996.6L2427.0 997.1L2429.5 999.8L2431.9 997.0L2434.1 994.4L2436.2 993.7L2438.4 997.4L2440.6 997.6L2442.7 986.4L2444.9 984.6L2446.9 992.7L2448.9 994.3L2451.0 994.7L2453.0 995.9L2455.0 989.1L2457.0 986.8L2459.1 992.3L2461.1 988.1L2463.1 992.1L2465.2 1000.5L2467.2 990.0L2469.2 995.4L2471.2 1001.3L2473.3 1002.4L2475.3 997.0L2477.3 994.0L2479.4 996.4L2481.4 992.5L2483.4 996.4L2485.4 995.7L2487.5 995.8L2489.5 999.7L2491.5 998.0L2493.5 995.3L2495.6 994.8L2497.6 993.6L2499.6 992.3L2501.7 990.3L2503.7 993.6L2505.7 989.2L2507.7 992.3L2509.8 990.9L2511.9 989.8L2514.1 986.0L2516.3 977.2L2518.4 986.2L2520.6 977.4L2522.7 970.9L2524.9 973.0L2527.1 972.9L2529.2 964.3L2531.4 963.2L2533.6 965.8L2535.7 965.6L2537.9 959.1L2540.0 954.6L2542.2 953.5L2544.6 947.7L2547.1 948.7L2549.5 946.1L2551.9 940.5L2554.1 936.7L2556.3 927.5L2558.4 906.5L2560.9 892.2L2563.3 881.9L2565.7 864.4L2568.2 846.3L2570.6 839.7L2573.0 832.3L2575.5 841.7L2577.9 854.3L2580.1 849.4L2582.2 843.0L2584.4 827.1L2586.5 834.3L2588.7 846.3L2590.9 848.3L2593.0 846.6L2595.2 850.3L2597.4 861.4L2599.5 849.2L2601.7 847.6L2603.8 845.9L2606.0 846.1L2608.2 850.5L2610.3 851.9L2612.8 853.0L2615.2 859.5L2617.6 863.8L2620.1 867.8L2622.2 866.3L2624.4 863.6L2626.6 859.9L2628.6 856.8L2630.6 847.5L2632.6 847.4L2634.7 843.6L2637.1 843.3L2639.5 848.6L2642.0 850.6L2644.4 852.4L2646.8 856.9L2649.3 853.6L2651.4 858.3L2653.6 858.4L2655.8 861.3L2657.8 861.5L2659.8 866.1L2661.8 867.2L2663.9 867.2L2665.9 861.5L2667.9 864.8L2669.9 871.0L2672.0 871.5L2674.1 872.1L2676.3 872.7L2678.5 871.5L2680.6 879.7L2682.8 879.7L2684.9 888.1L2687.1 890.0L2689.3 895.9L2691.4 899.8L2693.5 900.6L2695.5 894.9L2697.5 892.3L2699.5 889.1L2701.6 889.5L2703.6 886.5L2705.6 889.8L2707.7 885.6L2709.8 892.4L2712.0 901.9L2714.1 905.8L2716.6 904.8L2719.0 903.2L2721.4 909.4L2723.9 895.9L2726.0 892.5L2728.2 898.8L2730.4 890.0L2732.5 890.2L2734.7 894.1L2736.9 882.0L2739.3 882.3L2741.7 883.8L2744.2 884.3L2746.6 876.3L2748.7 883.4L2750.9 885.1L2753.1 891.2L2755.2 893.2L2757.4 900.3L2759.6 906.0L2761.7 898.5L2763.9 885.6L2766.1 874.5L2768.5 875.9L2770.9 877.5L2773.3 875.2L2775.8 868.5L2778.2 867.0L2780.6 863.8L2783.1 857.9L2785.5 864.5L2787.9 858.1L2790.4 855.1L2792.8 854.3L2795.2 849.7L2797.4 850.6L2799.6 849.9L2801.7 848.3L2803.9 848.3L2806.1 838.0L2808.2 845.7L2810.7 846.3L2813.1 843.3L2815.5 841.4L2818.0 835.5L2820.4 838.9L2822.8 842.3L2825.3 842.4L2827.7 841.3L2829.9 840.5L2832.0 846.4L2834.2 849.3L2836.3 840.9L2838.5 849.0L2840.7 847.9L2843.1 839.3L2845.5 839.5L2848.0 840.5L2850.4 845.5L2852.8 837.9L2855.3 839.1L2857.7 832.6L2860.1 830.7L2862.3 841.8L2864.5 842.1L2866.6 849.0L2869.4 849.5L2872.1 848.1L2873.1 806.9L2874.7 847.9L2877.0 855.2L2879.3 849.0L2881.5 852.4L2883.8 848.4L2886.1 851.0L2888.2 849.7L2890.4 844.9L2892.6 844.2L2894.7 853.5L2896.9 844.1L2899.1 849.6L2901.2 851.5L2903.4 857.4L2905.5 857.1L2907.7 859.1L2909.9 854.2L2912.0 852.4L2914.2 852.4L2916.4 856.6L2918.5 860.6L2920.7 864.0L2922.8 858.7L2925.0 865.9L2927.2 861.3L2929.3 856.4L2931.5 848.7L2933.7 852.6L2935.8 852.4L2938.0 847.9L2940.3 837.7L2942.5 830.9L2944.8 838.1L2947.1 826.7L2949.3 828.9L2951.8 846.2L2954.2 865.4L2956.4 873.2L2958.5 873.7L2960.7 878.2L2962.9 881.1L2965.0 893.8L2967.2 905.1L2970.1 862.5L2973.0 810.4L2975.3 856.0L2977.3 852.8L2979.4 857.4L2981.4 857.1L2983.4 859.4L2985.8 856.4L2988.3 860.6L2990.7 857.2L2993.1 851.7L2995.3 855.3L2997.5 878.0L2999.6 886.4" stroke="#ADD8E6" stroke-width="4" fill="none" stroke-linejoin="round" />
<path d="M376.7 1059.0L379.0 1058.8L381.4 1061.1L383.7 1058.8L386.1 1060.6L388.7 1058.4L391.4 1061.4L394.1 1061.6L396.8 1062.9L399.5 1060.9L402.1 1060.9L404.8 1059.8L407.5 1058.7L410.2 1059.1L412.8 1058.6L415.5 1060.0L418.2 1062.3L420.9 1062.6L423.6 1062.3L426.2 1065.6L428.9 1064.5L431.6 1063.4L434.3 1064.0L436.9 1062.4L439.6 1061.3L442.3 1062.1L445.0 1065.7L447.7 1065.4L450.3 1065.9L453.0 1067.4L455.7 1070.3L458.4 1069.5L461.0 1069.6L463.7 1074.2L466.4 1072.3L469.1 1072.3L471.8 1073.8L474.4 1074.7L477.1 1070.2L479.8 1066.7L482.5 1068.5L485.1 1067.6L487.8 1067.4L490.5 1068.3L493.2 1068.3L495.9 1068.6L498.5 1067.9L501.2 1069.7L503.9 1070.9L506.6 1069.6L509.2 1068.4L511.9 1069.3L514.6 1069.4L517.3 1068.8L519.9 1069.8L522.6 1072.8L525.3 1071.7L528.0 1070.8L530.7 1070.7L533.3 1070.2L536.0 1069.7L538.7 1066.9L541.4 1071.5L544.0 1072.3L546.7 1072.0L549.4 1073.3L552.1 1073.0L554.8 1072.3L557.4 1073.1L560.1 1074.8L562.8 1073.3L565.5 1072.2L568.1 1071.3L570.8 1069.0L573.5 1069.1L576.2 1071.3L578.9 1070.6L581.5 1073.1L584.2 1077.0L586.9 1078.1L589.6 1078.3L592.2 1075.7L594.9 1079.1L597.6 1078.4L600.3 1078.1L603.0 1077.7L605.6 1074.7L608.3 1073.7L611.0 1073.4L613.7 1078.2L616.3 1077.6L619.0 1078.6L621.7 1079.2L624.4 1080.7L627.1 1081.6L629.3 1081.8L631.5 1080.3L633.7 1077.5L636.0 1079.0L638.2 1079.2L640.4 1079.9L643.1 1077.3L645.8 1074.5L648.5 1073.5L652.5 1058.1L655.2 1049.8L657.8 1049.2L661.9 1061.9L664.5 1072.8L665.9 1061.8L668.6 1016.1L671.2 1061.2L673.9 1064.8L677.4 1053.1L680.6 1064.8L684.6 1074.2L687.3 1073.8L690.0 1073.1L692.7 1059.6L694.5 1033.2L697.2 1058.9L700.7 1063.9L704.7 1076.8L708.7 1066.9L711.4 1071.0L714.1 1046.0L716.0 1043.9L718.1 1063.2L720.8 1048.9L722.9 1051.2L725.6 1072.0L727.9 1070.8L730.1 1068.5L732.4 1067.5L734.6 1063.1L736.8 1065.3L739.1 1064.4L741.3 1060.9L743.5 1057.7L747.0 1041.6L748.9 1039.9L751.6 1058.0L755.6 1066.1L759.6 1065.9L762.3 1061.6L766.3 1071.2L769.0 1070.5L771.6 1067.7L774.3 1064.1L777.0 1060.0L781.0 1050.8L785.0 1053.5L787.7 1065.1L790.4 1067.9L793.1 1068.7L795.7 1066.0L798.4 1065.6L801.1 1068.7L803.8 1067.0L806.5 1066.2L809.1 1068.9L811.8 1067.6L814.5 1066.4L817.2 1067.1L819.8 1062.1L822.5 1061.6L825.2 1058.5L827.9 1056.2L830.6 1055.1L833.2 1057.0L835.9 1055.9L838.6 1055.0L841.3 1056.2L843.9 1058.7L846.6 1058.8L849.3 1057.9L852.0 1062.6L854.7 1058.0L857.3 1053.4L860.0 1053.0L862.7 1053.6L865.4 1054.2L868.0 1052.8L870.7 1049.7L874.7 1044.2L878.8 1049.8L882.8 1056.7L885.4 1057.5L888.0 1059.4L890.7 1057.5L893.4 1057.3L896.1 1056.6L898.4 1054.5L900.8 1052.8L903.1 1051.5L905.4 1049.8L907.7 1053.5L909.9 1055.3L912.1 1055.3L914.8 1056.1L917.5 1055.8L920.2 1056.7L922.8 1056.1L925.5 1056.2L928.2 1056.0L930.9 1057.2L933.6 1058.5L936.2 1059.0L938.9 1059.0L941.6 1060.3L944.3 1059.0L946.9 1058.1L949.6 1055.7L952.3 1055.4L955.0 1053.9L957.7 1053.3L960.3 1054.1L963.0 1056.6L965.7 1057.0L968.4 1056.1L971.0 1055.7L973.7 1057.2L976.4 1057.5L979.1 1057.0L981.8 1054.6L984.0 1051.7L986.2 1048.2L988.4 1045.3L992.5 1051.1L994.7 1050.4L996.9 1047.2L999.2 1046.3L1001.4 1050.5L1003.6 1052.0L1005.9 1055.6L1008.1 1051.7L1010.4 1049.9L1011.7 1049.7L1013.9 1056.4L1016.6 1054.5L1019.2 1056.7L1021.9 1054.0L1024.6 1052.6L1027.3 1051.9L1029.9 1053.4L1032.6 1054.5L1035.3 1056.7L1038.0 1056.8L1040.7 1055.2L1043.3 1054.4L1046.0 1052.5L1048.7 1051.4L1051.4 1051.6L1054.0 1054.0L1056.7 1054.5L1059.4 1055.8L1062.1 1056.7L1064.8 1054.7L1067.4 1056.1L1070.1 1053.0L1072.3 1050.6L1074.6 1048.9L1076.8 1049.4L1078.1 1033.9L1080.3 1044.9L1083.2 1045.9L1086.2 1047.2L1088.9 1046.4L1091.5 1046.0L1094.2 1047.5L1096.9 1049.6L1099.6 1051.4L1102.2 1051.0L1104.9 1050.9L1107.6 1050.7L1110.3 1047.7L1113.0 1049.1L1115.6 1047.8L1118.3 1046.0L1121.0 1049.4L1123.7 1048.5L1126.3 1047.3L1129.0 1047.7L1131.7 1048.8L1134.4 1049.8L1137.1 1049.4L1139.7 1048.2L1142.4 1047.9L1145.1 1047.7L1147.8 1047.4L1150.4 1048.9L1153.1 1049.2L1155.8 1050.2L1158.5 1049.8L1161.2 1049.0L1163.8 1049.3L1166.5 1049.0L1169.2 1050.5L1171.9 1048.2L1174.5 1048.2L1177.2 1047.6L1179.9 1045.4L1182.6 1046.7L1185.3 1046.4L1187.9 1043.2L1190.6 1045.2L1193.3 1046.4L1196.0 1044.7L1198.6 1047.0L1201.3 1045.6L1204.0 1043.1L1206.7 1043.8L1209.4 1042.7L1212.0 1041.3L1214.7 1039.8L1217.4 1042.2L1220.1 1042.1L1222.7 1043.3L1225.4 1043.4L1228.1 1042.1L1230.8 1042.0L1233.5 1045.1L1236.1 1046.6L1238.8 1046.3L1241.5 1044.0L1244.2 1041.9L1246.8 1041.4L1249.5 1043.3L1252.2 1042.5L1254.9 1041.0L1257.6 1038.9L1260.2 1039.4L1262.9 1037.0L1265.6 1036.2L1268.3 1035.8L1270.9 1035.3L1273.6 1036.8L1276.3 1038.2L1279.0 1037.4L1281.6 1038.4L1284.3 1036.5L1287.0 1032.6L1289.7 1033.7L1292.4 1031.9L1295.0 1037.2L1297.7 1035.5L1300.4 1036.1L1303.1 1033.9L1305.7 1032.9L1308.4 1030.4L1311.1 1029.4L1313.8 1028.6L1316.5 1030.7L1319.1 1030.2L1321.8 1029.5L1324.5 1032.2L1327.2 1030.1L1329.8 1028.4L1332.5 1024.6L1335.2 1029.5L1337.9 1033.6L1341.9 1037.4L1345.4 1022.4L1347.3 1005.3L1349.1 1017.1L1351.3 1015.5L1353.9 1014.3L1356.6 1015.2L1359.3 1016.9L1362.0 1017.0L1364.5 1016.7L1367.1 1018.1L1369.6 1017.4L1372.2 1017.6L1374.5 1017.7L1376.9 1015.4L1379.3 1015.6L1381.7 1013.7L1384.1 1012.2L1386.5 1011.1L1388.8 1007.1L1391.1 1007.7L1393.5 1006.4L1395.8 1006.7L1398.1 1007.2L1400.4 1009.0L1402.7 1008.1L1405.0 1009.6L1407.5 1006.5L1410.0 1005.0L1412.5 1003.9L1414.9 1003.7L1417.4 1001.7L1419.7 999.2L1422.0 997.5L1424.4 994.6L1426.7 995.7L1429.0 989.6L1431.3 982.8L1433.5 982.6L1435.8 981.4L1438.0 981.1L1440.2 982.5L1442.4 981.1L1444.6 980.5L1446.9 983.1L1449.1 984.3L1451.3 983.3L1453.5 983.1L1455.8 982.6L1458.0 983.9L1460.2 982.2L1462.4 982.1L1464.7 982.5L1466.9 983.9L1469.1 982.4L1471.3 982.3L1473.5 981.4L1475.8 980.8L1478.0 980.5L1480.2 981.3L1482.4 982.7L1484.7 981.3L1486.9 980.8L1489.1 980.9L1491.3 981.8L1493.6 982.6L1495.8 980.6L1498.0 981.7L1500.2 980.5L1502.4 982.1L1504.7 980.7L1506.9 980.0L1509.1 980.1L1511.3 980.9L1513.6 980.2L1515.8 981.3L1518.0 981.7L1520.2 981.9L1522.4 982.1L1525.5 997.8L1528.6 981.4L1530.8 981.6L1533.1 981.7L1535.3 979.2L1537.5 981.1L1539.7 980.5L1541.9 980.3L1544.1 980.6L1546.3 981.4L1548.6 982.0L1550.8 982.5L1553.0 981.2L1555.2 982.4L1557.4 982.5L1559.6 981.6L1561.8 981.7L1564.0 982.7L1566.3 982.7L1568.5 983.0L1570.7 982.5L1572.9 983.5L1575.1 985.2L1577.3 983.9L1579.5 980.8L1581.8 983.4L1584.0 981.8L1586.2 980.1L1588.4 978.2L1590.6 980.7L1592.8 982.6L1595.0 983.4L1597.3 982.0L1599.5 983.6L1601.7 982.5L1603.9 981.4L1606.1 981.7L1608.3 982.0L1610.5 981.9L1612.8 982.3L1615.0 979.4L1617.2 982.6L1619.4 981.4L1621.6 982.4L1623.8 981.1L1626.0 981.7L1628.2 981.5L1630.5 979.7L1632.7 981.3L1634.9 982.3L1637.1 980.7L1639.3 978.7L1641.5 979.6L1643.7 979.8L1646.0 981.0L1648.2 981.4L1650.4 983.6L1652.6 983.4L1654.8 982.2L1657.0 982.1L1659.2 978.5L1661.5 979.2L1663.7 979.5L1665.9 980.6L1668.1 981.6L1670.3 982.0L1672.5 983.0L1674.7 981.5L1677.0 982.0L1679.2 981.7L1681.4 981.8L1683.6 982.2L1685.8 981.6L1688.0 981.9L1690.2 981.8L1692.4 983.0L1694.7 982.2L1696.9 982.3L1699.1 985.2L1701.3 984.1L1703.5 983.4L1705.7 983.8L1707.9 981.5L1710.2 982.5L1712.4 983.0L1714.6 982.9L1716.8 983.4L1719.0 983.5L1721.2 984.0L1723.4 982.0L1725.7 982.4L1727.9 981.4L1730.1 983.1L1732.3 982.5L1734.5 980.5L1736.7 981.3L1738.9 980.4L1741.2 982.3L1743.4 981.6L1745.6 979.1L1747.8 980.1L1750.0 982.2L1752.2 982.4L1754.4 981.3L1756.6 982.3L1758.9 982.7L1761.1 984.0L1763.3 983.8L1765.5 983.1L1767.7 981.4L1769.9 982.0L1772.1 982.2L1774.4 982.0L1776.6 982.4L1778.8 980.6L1781.0 981.9L1783.2 981.9L1785.4 982.2L1787.6 981.9L1789.9 981.4L1792.1 981.9L1794.3 982.8L1796.5 981.8L1798.7 982.2L1800.9 981.0L1803.1 981.9L1805.4 981.9L1807.6 980.3L1809.8 982.5L1812.0 981.0L1814.2 981.5L1816.5 980.1L1818.7 979.0L1820.9 981.3L1823.2 979.9L1825.4 978.5L1827.6 980.1L1829.9 979.2L1832.1 980.4L1834.3 983.4L1836.6 982.1L1838.8 982.4L1841.0 982.8L1843.2 982.6L1845.5 982.1L1847.7 983.8L1849.9 982.7L1852.2 982.7L1854.4 982.4L1856.6 980.6L1858.9 981.7L1861.1 981.9L1863.3 982.7L1865.6 983.2L1867.8 984.4L1870.0 980.8L1872.3 980.8L1874.5 980.9L1876.7 980.5L1879.0 981.8L1881.2 981.9L1883.4 982.1L1885.6 980.1L1887.9 980.1L1890.1 981.1L1892.3 981.1L1894.6 980.9L1896.8 981.4L1899.0 981.5L1901.3 980.6L1903.5 983.4L1905.7 981.9L1908.0 982.8L1910.2 983.2L1912.4 983.8L1914.7 982.2L1916.9 981.0L1919.1 982.2L1921.3 982.5L1923.6 979.5L1925.8 977.9L1928.0 979.6L1930.3 980.6L1932.5 981.2L1934.7 982.3L1937.0 981.1L1939.2 984.9L1941.4 984.5L1943.7 984.9L1945.9 983.8L1948.1 980.5L1950.4 981.8L1952.6 981.4L1954.8 982.5L1957.1 982.3L1959.3 983.1L1961.5 981.7L1963.7 981.6L1966.8 985.9L1969.9 989.0L1972.2 989.8L1974.6 991.9L1976.9 994.8L1979.2 994.0L1981.5 995.7L1983.8 994.8L1986.1 995.8L1988.5 997.8L1990.8 998.1L1993.1 996.1L1995.4 997.0L1997.7 996.6L2000.8 1000.3L2003.9 1002.8L2006.2 1002.0L2008.5 1000.3L2010.9 1000.1L2013.2 998.5L2016.1 997.2L2019.1 995.0L2022.4 999.6L2024.8 990.4L2027.1 982.5L2030.2 981.9L2032.4 980.5L2034.6 981.4L2036.8 982.4L2039.0 983.5L2041.2 982.8L2043.4 982.8L2045.6 982.1L2047.8 983.4L2050.0 980.9L2052.2 982.0L2054.4 979.4L2056.6 983.1L2058.8 983.8L2061.0 980.5L2063.2 980.9L2065.4 980.0L2067.6 979.2L2069.8 980.4L2072.0 980.4L2074.2 982.7L2076.4 981.9L2078.6 980.8L2080.8 981.6L2083.0 982.5L2085.2 983.4L2087.4 983.4L2089.6 981.1L2091.8 980.8L2094.0 981.4L2096.2 980.9L2098.4 982.6L2100.6 982.1L2102.8 982.1L2105.0 981.8L2107.2 982.2L2109.4 980.5L2111.6 984.0L2113.8 982.4L2116.0 981.5L2118.2 979.8L2120.4 981.1L2122.6 980.1L2124.8 981.7L2127.0 983.5L2129.2 983.6L2131.4 982.4L2133.6 983.9L2135.9 982.8L2138.1 982.5L2140.3 982.5L2142.5 981.8L2144.7 982.6L2146.9 981.0L2149.1 979.6L2151.3 982.5L2153.5 981.6L2155.7 981.6L2157.9 982.4L2160.1 981.8L2162.3 980.7L2164.5 981.4L2166.7 980.8L2168.9 982.3L2171.1 981.8L2173.3 981.8L2175.5 983.0L2177.7 980.8L2179.9 979.9L2182.1 982.1L2184.3 983.7L2186.5 983.1L2188.7 981.8L2190.9 983.6L2193.1 983.5L2195.3 984.1L2197.5 981.0L2199.7 981.6L2201.9 980.8L2204.1 980.3L2206.3 982.1L2208.5 983.1L2210.7 982.1L2212.9 981.9L2215.1 983.8L2217.3 983.8L2219.5 982.8L2221.7 983.2L2223.9 982.8L2226.1 981.1L2228.3 981.1L2230.5 982.1L2232.7 983.0L2234.9 981.2L2237.1 980.9L2239.3 981.0L2241.5 979.9L2243.7 982.6L2245.9 983.0L2248.1 984.2L2250.3 980.6L2252.5 980.6L2254.7 983.7L2256.9 981.3L2259.1 979.7L2261.3 981.4L2263.5 983.8L2265.7 983.7L2267.9 981.8L2270.1 982.8L2272.4 983.0L2274.6 983.0L2276.8 983.1L2279.0 983.7L2281.2 984.3L2283.4 984.9L2285.6 984.7L2287.8 983.2L2290.0 980.5L2292.2 982.2L2294.4 980.5L2296.6 984.2L2298.8 981.8L2301.0 979.9L2303.2 979.0L2305.4 981.3L2307.6 982.2L2309.8 983.1L2312.9 972.8L2315.1 971.5L2317.3 972.8L2319.5 971.6L2321.7 970.1L2323.9 972.2L2326.1 972.8L2328.3 971.3L2330.5 971.4L2332.7 972.9L2334.9 973.5L2337.1 971.4L2339.3 973.0L2341.5 969.4L2343.7 970.9L2345.9 971.9L2348.1 971.8L2350.3 972.0L2352.5 970.0L2354.7 970.9L2356.9 972.0L2359.1 970.8L2361.3 971.5L2363.5 971.5L2365.7 969.0L2367.9 969.8L2370.1 971.6L2372.3 969.8L2374.5 970.9L2376.7 971.8L2378.9 970.2L2381.1 970.7L2383.3 972.3L2385.5 972.8L2387.7 971.0L2389.9 972.6L2392.1 972.5L2394.3 972.2L2396.6 973.7L2398.8 973.4L2401.0 972.9L2403.2 973.3L2405.4 973.1L2407.6 973.8L2409.8 972.4L2412.0 969.8L2414.2 972.6L2416.4 973.0L2418.6 972.8L2420.8 972.1L2423.0 971.7L2425.2 971.7L2427.4 970.4L2429.6 971.9L2431.8 971.7L2434.0 970.4L2436.2 971.3L2438.4 970.9L2440.0 1039.3L2441.6 971.9L2443.9 974.9L2446.1 971.7L2448.3 972.0L2450.5 972.5L2452.8 972.4L2455.0 973.6L2457.2 971.9L2459.4 971.2L2461.7 971.3L2463.9 969.7L2466.1 972.0L2468.4 970.2L2470.6 971.5L2472.8 972.9L2475.0 971.1L2477.3 971.0L2479.5 971.0L2481.7 973.3L2483.9 972.6L2486.2 969.8L2488.4 972.0L2490.6 972.9L2492.8 969.7L2495.1 967.4L2497.3 972.7L2499.5 972.1L2501.7 969.2L2504.0 971.7L2506.2 973.2L2508.4 969.4L2510.6 972.0L2512.9 972.5L2515.1 971.9L2517.3 970.8L2519.6 971.6L2521.8 970.5L2524.0 971.2L2526.2 971.0L2528.5 970.7L2530.7 971.7L2532.9 972.7L2535.1 973.1L2537.4 972.7L2539.6 974.0L2541.8 971.1L2544.0 971.3L2546.3 971.6L2548.5 972.9L2550.7 969.4L2552.9 970.0L2555.2 970.4L2557.4 971.2L2559.6 974.0L2561.8 972.9L2564.1 971.9L2566.3 972.2L2568.5 972.9L2570.8 971.9L2572.4 1066.1L2574.0 970.9L2576.2 972.7L2578.4 972.8L2580.7 973.2L2582.9 974.1L2585.1 972.3L2587.3 972.3L2589.5 972.1L2591.8 971.0L2594.0 970.3L2596.2 970.0L2598.4 971.8L2600.6 968.8L2602.9 968.7L2605.1 970.3L2607.3 972.5L2609.5 971.8L2611.7 973.1L2614.0 972.1L2616.2 971.1L2617.8 1037.5L2619.4 970.7L2623.3 973.2L2624.9 1056.7L2627.2 970.6L2629.4 971.7L2631.6 969.9L2633.8 969.4L2636.0 971.8L2638.2 972.1L2640.4 972.9L2642.6 972.3L2644.8 971.7L2647.0 971.7L2649.2 971.2L2651.4 972.6L2653.6 970.4L2655.8 968.7L2658.0 969.1L2659.6 1078.5L2661.3 970.8L2663.5 968.4L2665.7 973.5L2667.9 971.2L2670.1 971.1L2672.3 972.0L2674.5 972.1L2676.7 971.5L2678.9 969.6L2681.1 971.2L2683.3 970.1L2685.5 970.6L2687.7 972.0L2689.9 971.2L2692.1 969.1L2694.3 969.7L2696.5 971.3L2698.7 972.2L2700.9 970.2L2703.1 970.9L2705.3 971.5L2707.5 972.7L2709.7 972.5L2712.0 972.1L2714.2 971.3L2716.4 971.9L2718.6 972.6L2720.8 971.7L2723.0 971.2L2725.2 973.4L2727.4 972.3L2729.6 970.8L2731.8 972.0L2734.0 970.2L2736.2 969.5L2738.4 971.7L2740.6 971.5L2742.8 972.4L2745.0 972.8L2747.2 971.1L2749.4 971.9L2751.6 971.2L2753.8 971.6L2756.0 971.8L2758.2 971.5L2760.4 969.9L2762.6 971.1L2764.8 971.3L2767.0 972.0L2769.2 970.4L2771.5 971.2L2773.7 971.1L2775.9 970.7L2778.1 970.8L2780.3 970.8L2782.5 969.5L2784.7 969.9L2786.9 970.2L2789.1 971.4L2791.3 971.2L2793.5 973.0L2795.7 972.8L2797.9 972.4L2800.1 972.1L2802.3 970.0L2804.5 971.2L2806.7 972.8L2808.9 970.8L2811.1 972.7L2813.3 972.7L2815.5 972.3L2817.7 971.3L2819.9 971.4L2822.1 970.5L2824.3 971.0L2826.5 971.3L2828.8 971.4L2831.0 970.0L2833.2 971.9L2835.4 970.8L2837.6 971.6L2839.8 972.2L2842.0 971.5L2844.2 974.4L2846.4 972.9L2848.6 972.6L2850.8 971.6L2853.0 971.9L2854.6 1142.1L2856.2 971.6L2860.5 971.0L2861.8 990.1L2863.0 972.0L2865.3 972.7L2867.5 971.5L2869.8 970.2L2872.0 968.5L2874.2 968.9L2876.5 970.9L2878.7 971.9L2881.0 970.1L2883.2 970.9L2885.4 972.4L2887.7 971.0L2889.9 970.5L2892.1 969.9L2894.4 971.2L2896.6 969.1L2898.9 970.2L2901.1 971.4L2903.3 971.3L2905.6 972.5L2907.8 972.6L2909.4 1161.1L2911.1 970.2L2913.4 969.6L2915.7 971.2L2918.0 971.1L2920.3 971.4L2922.6 970.3L2924.9 972.3L2927.3 972.8L2929.6 972.9L2931.9 970.8L2934.2 974.2L2936.5 973.7L2938.8 971.1L2941.1 972.4L2943.5 971.7L2945.8 970.6L2947.4 1145.3L2949.0 971.4L2951.4 971.8L2953.7 971.8L2956.1 971.3L2958.4 970.2L2960.8 971.1L2963.1 971.0L2965.5 971.0L2967.8 971.9L2970.2 973.6L2972.5 971.7L2974.9 972.7L2977.2 971.1L2978.5 985.2L2979.8 972.6L2982.1 972.0L2984.4 971.9L2986.7 970.7L2988.9 970.7L2991.2 972.2L2993.5 972.7L2995.7 974.6L2998.0 971.7" stroke="#FF8C00" stroke-width="4" fill="none" stroke-linejoin="round" />
<path d="M376.7 1062.9L379.0 1060.8L381.4 1061.3L383.7 1062.8L386.1 1065.4L388.7 1064.4L391.4 1061.8L394.1 1062.9L396.8 1061.5L399.5 1063.4L402.1 1062.2L404.8 1063.9L407.5 1062.3L410.2 1060.3L412.8 1059.9L415.5 1061.6L418.2 1063.8L420.9 1065.6L423.6 1065.6L426.2 1064.5L428.9 1065.6L431.6 1063.9L434.3 1065.7L436.9 1063.9L439.6 1065.3L442.3 1066.5L445.0 1066.8L447.7 1065.6L450.3 1067.5L453.0 1068.8L455.7 1068.9L458.4 1069.4L461.0 1072.9L463.7 1073.2L466.4 1075.1L469.1 1076.8L471.8 1074.2L474.4 1075.3L477.1 1073.9L479.8 1071.5L482.5 1069.8L485.1 1068.3L487.8 1070.4L490.5 1067.0L493.2 1069.6L495.9 1070.0L498.5 1069.3L501.2 1069.2L503.9 1069.4L506.6 1069.6L509.2 1071.1L511.9 1069.7L514.6 1071.3L517.3 1073.1L519.9 1073.1L522.6 1074.7L525.3 1073.1L528.0 1072.9L530.7 1073.0L533.3 1074.6L536.0 1072.7L538.7 1071.4L541.4 1072.5L544.0 1073.3L546.7 1073.2L549.4 1076.0L552.1 1074.1L554.8 1073.1L557.4 1072.4L560.1 1073.6L562.8 1076.7L565.5 1076.5L568.1 1072.9L570.8 1072.4L573.5 1072.3L576.2 1071.6L578.9 1074.8L581.5 1076.2L584.2 1080.4L586.9 1079.1L589.6 1077.9L592.2 1076.5L594.9 1075.6L597.6 1077.9L600.3 1078.4L603.0 1076.9L605.6 1075.6L608.3 1077.2L611.0 1077.0L613.7 1078.8L616.3 1079.9L619.0 1080.1L621.7 1079.0L624.4 1081.1L627.1 1082.3L629.3 1083.1L631.5 1084.5L633.7 1085.4L636.0 1082.8L638.2 1082.3L640.4 1078.2L643.1 1078.5L645.8 1076.8L648.5 1076.3L652.5 1063.5L655.2 1053.4L657.8 1052.9L661.9 1065.7L664.5 1072.3L665.9 1061.8L668.6 1016.8L671.2 1062.1L673.9 1066.3L677.4 1054.3L680.6 1065.0L684.6 1075.5L687.3 1077.9L690.0 1077.0L692.7 1060.5L694.5 1035.1L697.2 1057.4L700.7 1063.2L704.7 1078.6L708.7 1064.7L711.4 1068.7L714.1 1048.0L716.0 1045.1L718.1 1064.3L720.8 1054.4L722.9 1055.0L725.6 1077.2L727.9 1075.3L730.1 1070.3L732.4 1071.1L734.6 1068.6L736.8 1065.9L739.1 1065.1L741.3 1065.4L743.5 1060.9L747.0 1045.1L748.9 1043.2L751.6 1057.0L755.6 1064.8L759.6 1068.8L762.3 1066.3L766.3 1073.4L769.0 1073.2L771.6 1073.1L774.3 1068.1L777.0 1064.2L781.0 1054.6L785.0 1054.4L787.7 1068.2L790.4 1070.0L793.1 1068.0L795.7 1069.1L798.4 1067.5L801.1 1066.5L803.8 1069.6L806.5 1071.3L809.1 1072.1L811.8 1070.8L814.5 1071.1L817.2 1067.1L819.8 1066.4L822.5 1063.2L825.2 1060.8L827.9 1058.0L830.6 1059.9L833.2 1061.0L835.9 1060.0L838.6 1059.4L841.3 1060.8L843.9 1058.6L846.6 1058.2L849.3 1061.9L852.0 1064.4L854.7 1061.1L857.3 1058.3L860.0 1056.2L862.7 1055.4L865.4 1053.9L868.0 1053.1L870.7 1050.6L874.7 1049.4L878.8 1053.9L882.8 1060.0L885.4 1060.7L888.0 1063.7L890.7 1063.3L893.4 1060.8L896.1 1059.2L898.4 1059.3L900.8 1058.0L903.1 1056.2L905.4 1055.3L907.7 1058.6L909.9 1058.6L912.1 1061.3L914.8 1058.8L917.5 1057.6L920.2 1057.3L922.8 1057.7L925.5 1057.7L928.2 1057.4L930.9 1058.5L933.6 1059.2L936.2 1060.3L938.9 1062.3L941.6 1062.9L944.3 1062.7L946.9 1060.9L949.6 1059.8L952.3 1059.0L955.0 1059.0L957.7 1059.3L960.3 1057.4L963.0 1057.6L965.7 1057.9L968.4 1059.5L971.0 1060.0L973.7 1058.7L976.4 1059.3L979.1 1060.1L981.8 1059.7L984.0 1059.6L986.2 1057.6L988.4 1054.1L992.5 1057.7L994.7 1056.9L996.9 1053.6L999.2 1053.0L1001.4 1051.1L1003.6 1057.1L1005.9 1056.6L1008.5 1058.4L1011.2 1060.4L1013.9 1057.5L1016.6 1057.5L1019.2 1055.1L1021.9 1053.7L1024.6 1051.7L1027.3 1054.2L1029.9 1057.0L1032.6 1057.0L1035.3 1058.1L1038.0 1059.6L1040.7 1058.7L1043.3 1059.0L1046.0 1059.8L1048.7 1060.3L1051.4 1060.6L1054.0 1061.4L1056.7 1060.6L1059.4 1060.2L1062.1 1059.1L1064.8 1056.3L1067.4 1056.0L1070.1 1056.3L1072.8 1056.9L1075.5 1054.6L1078.1 1050.8L1080.8 1052.7L1083.5 1054.1L1086.2 1053.5L1088.9 1052.8L1091.5 1052.3L1094.2 1051.4L1096.9 1053.8L1099.6 1052.7L1102.2 1052.8L1104.9 1051.1L1107.6 1051.3L1110.3 1050.9L1113.0 1049.6L1115.6 1049.3L1118.3 1049.5L1121.0 1047.7L1123.7 1049.0L1126.3 1048.8L1129.0 1048.8L1131.7 1049.3L1134.4 1050.7L1137.1 1049.1L1139.7 1052.2L1142.4 1051.7L1145.1 1050.8L1147.8 1049.4L1150.4 1052.5L1153.1 1053.7L1155.8 1054.8L1158.5 1054.7L1161.2 1055.8L1163.8 1055.8L1166.5 1056.2L1169.2 1053.9L1171.9 1054.0L1174.5 1052.6L1177.2 1052.6L1179.9 1052.2L1182.6 1051.5L1185.3 1050.7L1187.9 1049.8L1190.6 1049.3L1193.3 1049.1L1196.0 1048.0L1198.6 1046.9L1201.3 1046.7L1204.0 1047.8L1206.7 1048.3L1209.4 1048.9L1212.0 1050.6L1214.7 1046.9L1217.4 1047.3L1220.1 1044.7L1222.7 1044.4L1225.4 1043.9L1228.1 1044.6L1230.8 1046.8L1233.5 1048.2L1236.1 1047.6L1238.8 1048.2L1241.5 1047.4L1244.2 1044.9L1246.8 1047.1L1249.5 1045.2L1252.2 1043.9L1254.9 1043.5L1257.6 1041.9L1260.2 1041.1L1262.9 1041.6L1265.6 1039.1L1268.3 1037.7L1270.9 1035.0L1273.6 1035.5L1276.3 1039.2L1279.0 1039.9L1281.6 1039.0L1284.3 1041.0L1287.0 1037.8L1289.7 1037.7L1292.4 1035.7L1295.0 1036.9L1297.7 1038.6L1300.4 1037.6L1303.1 1039.6L1305.7 1038.5L1308.4 1037.9L1311.1 1037.2L1313.8 1037.2L1316.5 1035.0L1319.1 1033.9L1321.8 1035.0L1324.5 1034.5L1327.2 1033.9L1329.8 1034.2L1332.5 1035.6L1335.2 1035.3L1337.9 1034.5L1340.6 1038.6L1342.8 1034.3L1345.0 1032.5L1347.3 1029.1L1349.5 1030.7L1351.7 1033.8L1353.9 1033.1L1356.6 1031.1L1359.3 1031.1L1362.0 1031.4L1364.5 1030.0L1367.1 1031.2L1369.6 1031.0L1372.2 1031.4L1374.4 1031.5L1376.7 1030.2L1379.0 1028.8L1381.3 1028.2L1383.6 1028.3L1385.8 1027.4L1388.1 1025.7L1390.4 1029.6L1392.7 1030.1L1395.0 1028.5L1397.3 1027.7L1399.6 1027.6L1402.0 1028.6L1404.3 1028.2L1406.6 1025.9L1408.9 1027.9L1411.2 1029.3L1413.7 1025.4L1416.2 1022.3L1418.6 1021.4L1421.1 1018.5L1423.6 1018.7L1425.9 1012.5L1428.2 1002.8L1430.5 997.3L1432.9 988.6L1435.9 980.1L1439.0 1013.0L1441.3 1006.4L1443.7 1001.3L1446.0 994.5L1448.3 991.3L1451.4 982.9L1453.6 986.1L1455.8 984.4L1458.0 982.5L1460.2 982.2L1462.4 981.7L1464.6 983.6L1466.8 981.3L1469.9 988.6L1473.0 995.8L1475.5 1002.1L1478.0 1005.3L1480.4 1013.4L1482.9 1019.9L1485.4 1026.6L1488.5 1028.0L1491.6 1032.3L1493.9 1033.7L1496.2 1033.0L1498.5 1032.8L1500.8 1032.0L1503.1 1033.0L1505.5 1034.4L1507.8 1038.8L1510.1 1038.1L1512.8 1036.0L1515.5 1034.0L1518.2 1034.4L1520.9 1033.9L1524.0 999.2L1526.3 997.4L1528.6 1001.1L1530.9 1018.7L1533.3 1036.1L1535.6 1037.6L1537.9 1037.3L1539.4 998.9L1541.8 1001.6L1544.1 1007.0L1546.4 1004.0L1548.7 1006.5L1551.0 1006.2L1553.3 1005.3L1555.7 1003.3L1558.0 999.3L1560.3 998.0L1562.6 996.1L1564.8 997.2L1567.0 995.5L1569.2 994.9L1571.4 995.1L1573.6 995.4L1575.9 995.3L1578.1 995.3L1580.4 996.2L1582.7 995.8L1585.0 995.7L1587.3 995.1L1589.6 993.2L1592.0 994.8L1594.3 994.4L1596.6 994.5L1598.1 979.9L1600.8 983.0L1603.5 983.7L1606.3 982.1L1609.0 982.5L1612.0 1004.2L1615.1 1005.2L1618.2 1002.9L1621.3 996.2L1624.4 987.1L1627.5 981.3L1629.7 981.3L1631.9 981.1L1634.2 980.0L1636.4 981.7L1638.6 980.5L1640.8 980.1L1643.1 980.8L1645.3 983.0L1647.5 983.7L1649.7 982.4L1651.9 980.6L1654.2 979.4L1656.4 980.7L1658.6 982.2L1660.8 983.0L1663.1 982.1L1665.3 980.9L1667.5 981.9L1669.7 983.3L1672.0 982.4L1674.2 982.6L1676.4 981.7L1678.6 981.4L1680.8 983.3L1683.1 981.7L1685.3 983.4L1687.5 982.0L1689.7 981.9L1692.0 982.8L1694.2 983.1L1696.4 981.6L1698.6 981.5L1700.9 981.7L1703.1 981.8L1705.3 981.7L1707.5 982.8L1709.7 981.0L1712.0 982.5L1714.2 983.2L1716.4 980.9L1718.6 981.3L1720.9 980.6L1723.1 979.3L1725.3 980.7L1727.5 982.0L1729.8 981.3L1732.0 982.0L1734.2 981.9L1736.4 979.4L1738.6 980.5L1740.9 982.4L1743.1 983.8L1745.3 981.1L1747.5 979.6L1749.8 981.3L1752.0 981.2L1754.2 981.7L1756.4 981.1L1758.6 982.4L1760.9 982.9L1763.1 981.8L1765.3 981.8L1767.5 981.7L1769.8 982.5L1772.0 982.4L1774.2 982.5L1776.4 982.9L1778.7 982.4L1780.9 981.5L1783.1 982.8L1785.3 981.6L1787.5 980.1L1789.8 980.0L1792.0 981.0L1794.2 980.8L1796.4 980.8L1798.7 981.6L1800.9 982.2L1803.1 981.7L1805.3 981.1L1807.6 981.7L1809.8 982.8L1812.0 980.6L1814.2 980.6L1816.5 979.9L1818.7 980.0L1820.9 981.9L1823.1 984.3L1825.3 982.8L1827.6 981.0L1829.8 980.2L1832.0 982.0L1834.5 996.6L1837.1 1010.4L1839.4 1011.0L1841.7 1010.0L1844.0 1009.6L1846.3 1010.7L1848.7 1012.0L1851.0 1011.0L1853.3 1010.1L1855.6 1012.4L1857.9 1010.2L1860.2 1013.0L1861.8 984.6L1864.9 1018.4L1868.6 986.7L1872.6 1016.2L1875.2 1015.4L1877.8 1016.0L1880.3 1017.0L1882.6 1012.3L1885.0 1006.9L1887.5 1009.1L1890.1 1011.0L1892.7 1014.2L1895.2 1010.6L1897.6 1015.2L1900.1 1018.8L1902.6 1018.4L1905.0 1017.3L1908.1 1015.2L1911.2 1013.2L1912.8 1000.4L1915.1 998.5L1917.4 990.6L1918.9 1009.4L1921.5 1009.6L1924.1 1007.4L1926.7 1009.6L1929.8 977.7L1932.1 998.6L1934.4 1019.0L1937.5 1017.4L1939.6 976.5L1943.7 1015.7L1946.2 1018.2L1948.8 1021.7L1951.4 1027.4L1953.7 1024.3L1956.0 1025.6L1958.3 1022.8L1960.7 1020.9L1963.0 1020.7L1965.3 1015.4L1967.9 1019.7L1970.4 1019.3L1973.0 1020.1L1975.5 1021.0L1978.0 1022.1L1980.4 1020.1L1982.9 1019.1L1985.4 1018.2L1987.8 1017.3L1990.3 1017.0L1992.8 1016.3L1995.3 1014.6L1997.7 1013.2L2000.0 1012.0L2002.4 1015.1L2004.7 1015.7L2007.0 1017.4L2009.3 1016.3L2011.6 1014.2L2014.0 1013.0L2016.3 1010.8L2019.1 1016.3L2022.4 1012.2L2025.5 1006.6L2028.6 1003.1L2031.7 998.3L2034.8 997.3L2037.9 988.4L2041.0 980.0L2044.1 987.4L2047.2 995.5L2049.5 993.7L2051.8 994.1L2054.1 996.2L2056.4 999.7L2058.8 991.7L2061.1 988.3L2063.4 984.6L2065.7 980.3L2067.9 984.1L2070.2 983.5L2072.4 983.2L2074.7 982.4L2076.9 983.9L2079.1 984.0L2081.4 982.7L2083.6 981.8L2085.9 982.7L2088.1 982.5L2090.3 981.2L2092.6 981.2L2094.8 981.0L2097.1 983.3L2099.3 980.9L2101.5 982.4L2103.8 982.4L2106.0 982.2L2108.3 981.6L2110.5 983.4L2112.7 982.3L2115.0 983.9L2117.2 983.6L2119.5 983.0L2121.7 981.8L2123.9 982.1L2126.2 982.6L2128.4 983.7L2130.7 981.5L2132.9 981.0L2135.1 980.6L2137.4 980.7L2139.6 979.4L2141.9 982.0L2144.1 983.9L2146.3 981.1L2148.6 983.5L2150.8 982.2L2153.1 982.9L2155.3 984.4L2157.6 988.5L2159.9 994.5L2162.5 996.1L2165.1 998.7L2167.7 1000.3L2169.2 1045.7L2170.7 1001.1L2173.2 1001.9L2175.7 1001.0L2178.2 998.5L2180.6 998.2L2183.1 1000.5L2185.7 996.9L2188.3 995.7L2190.8 992.5L2193.1 988.0L2195.5 984.3L2197.7 985.8L2199.9 982.5L2202.2 981.4L2204.4 980.8L2206.7 980.8L2208.9 981.5L2211.2 981.9L2213.4 983.5L2215.6 983.5L2217.9 982.7L2220.1 982.6L2222.4 982.7L2224.6 983.5L2226.8 985.1L2229.1 983.2L2231.3 983.9L2233.6 983.3L2235.8 982.4L2238.1 982.9L2240.3 981.7L2242.5 985.6L2244.8 984.7L2247.0 982.9L2249.3 982.7L2251.5 981.9L2253.7 981.8L2256.0 981.7L2258.2 981.1L2260.5 980.5L2262.7 983.1L2264.9 982.6L2267.2 983.3L2269.4 982.3L2271.7 981.7L2273.9 981.5L2276.2 985.1L2278.4 985.0L2280.6 984.7L2282.9 983.6L2285.1 982.6L2287.4 983.2L2289.6 984.0L2291.8 981.5L2294.1 980.8L2296.3 982.7L2298.6 982.7L2300.8 982.2L2303.1 980.9L2305.3 979.8L2307.5 980.0L2309.8 980.4L2312.9 971.3L2315.2 972.5L2317.4 972.8L2319.7 973.5L2322.0 972.3L2324.3 974.3L2326.6 973.5L2328.9 973.3L2331.2 973.1L2333.4 971.3L2335.7 973.5L2338.0 974.2L2340.3 974.2L2342.6 973.4L2344.9 971.5L2347.2 972.7L2349.4 972.6L2351.7 975.1L2354.0 972.6L2356.3 971.8L2358.6 971.2L2360.9 970.9L2363.2 970.1L2365.5 970.6L2367.7 971.5L2370.0 974.3L2371.6 1042.8L2373.4 975.2L2375.7 972.2L2378.0 972.8L2380.3 973.5L2382.5 973.5L2384.8 971.8L2387.1 973.3L2389.4 972.2L2391.6 971.4L2393.9 973.9L2396.2 973.8L2398.5 973.1L2400.7 974.0L2403.0 972.3L2405.3 969.7L2407.6 972.4L2410.0 980.0L2412.4 988.0L2414.9 990.8L2417.3 996.6L2419.7 998.6L2422.2 1000.5L2424.6 1001.2L2427.0 1004.8L2429.7 1004.1L2432.4 1005.9L2435.2 1007.5L2437.6 1007.4L2440.0 1004.9L2442.4 1000.8L2444.9 996.7L2447.5 997.3L2450.1 997.3L2452.7 993.6L2455.3 995.1L2457.9 993.2L2460.5 994.6L2463.0 991.1L2465.6 988.9L2468.2 990.8L2470.8 991.1L2473.4 989.8L2476.0 992.7L2478.6 994.5L2481.2 995.3L2483.8 995.3L2486.2 993.9L2488.7 992.5L2491.1 991.6L2493.5 990.6L2496.1 991.8L2498.7 988.7L2501.3 991.5L2503.9 988.7L2506.5 988.6L2509.8 981.8L2513.0 978.5L2515.7 981.1L2518.4 989.1L2521.1 992.5L2523.8 990.4L2526.5 987.1L2529.2 982.8L2531.9 981.9L2534.6 982.1L2537.3 981.6L2539.0 970.4L2541.2 972.1L2543.4 970.2L2545.6 973.3L2547.9 973.5L2550.1 972.5L2552.3 972.1L2554.5 971.5L2556.8 971.4L2559.0 972.2L2561.2 972.0L2563.4 972.6L2565.7 971.8L2567.9 973.3L2570.1 970.0L2572.4 970.8L2574.6 971.7L2576.8 971.9L2579.0 973.3L2581.3 971.9L2583.5 970.6L2585.7 971.1L2587.9 970.8L2590.2 972.3L2592.4 972.0L2594.6 970.4L2596.8 969.0L2599.1 972.8L2601.3 971.2L2603.5 972.9L2604.8 983.1L2606.1 971.2L2608.3 971.5L2610.6 969.0L2612.8 969.2L2615.0 970.7L2617.2 969.8L2619.5 969.4L2621.7 968.9L2623.9 972.2L2626.2 971.7L2628.4 969.0L2630.6 968.7L2632.8 970.2L2635.1 970.9L2637.3 972.1L2639.5 971.5L2641.7 972.5L2644.0 971.9L2646.2 971.7L2648.4 971.6L2650.6 971.9L2652.9 970.5L2655.1 972.5L2657.3 973.1L2659.5 972.5L2661.8 973.0L2664.0 971.2L2666.2 971.9L2668.4 971.6L2670.7 970.7L2672.0 982.9L2673.3 970.2L2675.6 969.9L2677.9 971.2L2680.2 972.1L2682.5 971.3L2684.9 970.5L2687.2 971.5L2689.5 971.6L2690.8 984.7L2692.1 970.6L2694.6 969.0L2697.1 969.8L2699.5 971.9L2701.2 1043.1L2702.8 971.2L2705.0 971.0L2707.2 973.2L2709.4 972.2L2711.6 972.7L2713.8 971.0L2716.0 971.1L2718.2 971.5L2720.4 971.8L2722.6 973.8L2724.8 972.2L2727.0 971.8L2729.2 972.2L2731.4 970.3L2733.6 970.7L2735.8 972.2L2738.0 971.3L2740.2 972.9L2742.4 973.8L2744.6 973.0L2746.9 972.9L2749.1 972.5L2751.3 974.3L2753.5 973.9L2755.7 972.2L2757.9 970.5L2760.1 969.6L2762.3 968.5L2764.5 970.7L2766.7 970.3L2768.9 972.7L2771.1 972.3L2773.3 972.4L2775.5 972.3L2777.7 972.4L2779.9 972.7L2782.1 971.8L2784.3 971.5L2786.5 971.3L2788.7 972.7L2790.9 970.5L2793.1 969.2L2795.3 967.3L2797.5 971.6L2799.7 971.9L2801.9 973.7L2804.1 974.4L2806.3 973.8L2808.5 972.5L2810.7 970.6L2812.9 970.6L2815.1 971.2L2817.4 970.9L2819.6 971.3L2821.8 971.2L2824.0 973.4L2826.2 971.7L2828.4 971.9L2830.6 971.7L2832.8 971.9L2835.0 972.0L2837.2 972.1L2839.4 972.4L2841.6 970.5L2843.8 970.8L2846.0 971.1L2848.2 974.8L2850.4 971.7L2852.6 970.7L2854.8 971.9L2857.0 970.2L2859.2 972.4L2861.4 970.2L2863.6 969.3L2865.8 972.4L2868.0 971.7L2870.2 971.3L2872.4 970.5L2874.6 972.6L2876.8 971.3L2879.0 969.6L2881.2 970.9L2883.4 969.2L2885.6 971.2L2887.9 970.8L2890.1 973.2L2892.3 970.8L2894.5 971.5L2896.7 970.6L2898.9 969.1L2901.1 968.9L2903.3 970.8L2905.5 970.4L2907.7 972.4L2909.9 972.3L2912.1 973.1L2914.3 972.9L2916.5 972.5L2918.7 972.3L2920.9 973.0L2923.1 971.0L2925.3 972.6L2927.5 972.5L2929.7 971.6L2931.9 972.7L2934.1 972.1L2936.3 969.1L2938.5 970.6L2940.7 971.1L2942.9 971.8L2945.1 971.3L2947.3 972.2L2949.5 970.3L2951.7 969.4L2953.9 969.7L2956.1 968.7L2958.3 971.5L2960.6 972.4L2962.8 971.6L2965.0 971.6L2967.2 972.7L2969.4 970.9L2971.6 972.3L2973.8 972.8L2976.0 971.6L2978.2 972.4L2980.4 971.4L2982.6 970.0L2984.8 972.2L2987.0 970.6L2989.2 968.7L2991.4 969.4L2993.6 969.8L2995.8 971.0L2998.0 970.4" stroke="#A52A2A" stroke-width="4" fill="none" stroke-linejoin="round" />
<path d="M1379.6 1017.6h0M1382.8 1023.8h0M1387.1 1020.2h0M1387.7 1016.2h0M1393.8 1019.6h0M1393.7 1016.4h0M1403.0 1017.4h0M1404.4 1020.2h0M1404.3 1015.6h0M1410.8 1017.7h0M1415.8 1017.7h0M1416.5 1014.8h0M1420.7 1014.6h0M1424.1 1015.2h0M1424.8 1012.1h0M1432.0 1011.3h0M1432.4 1005.1h0M1430.8 997.2h0M1432.6 1000.5h0M1434.0 997.6h0M1432.0 991.8h0M1431.0 990.3h0M1433.1 984.9h0M1434.7 981.7h0M1436.8 972.8h0M1435.4 969.0h0M1435.0 971.5h0M1435.9 969.5h0M1440.2 963.2h0M1442.4 962.4h0M1442.1 959.2h0M1440.3 961.8h0M1445.9 957.4h0M1445.1 946.7h0M1445.2 946.5h0M1444.0 940.9h0M1444.4 939.7h0M1446.5 930.3h0M1447.1 929.7h0M1445.1 927.9h0M1443.6 925.4h0M1446.1 920.9h0M1447.0 918.2h0M1447.3 914.1h0M1445.9 913.2h0M1447.9 907.0h0M1447.5 909.0h0M1448.7 901.9h0M1451.5 898.8h0M1449.6 897.7h0M1448.0 896.6h0M1451.4 885.0h0M1451.9 885.5h0M1455.3 881.3h0M1456.3 877.7h0M1458.9 878.9h0M1462.3 882.4h0M1464.5 882.5h0M1467.2 886.2h0M1469.8 886.3h0M1469.6 887.5h0M1474.0 900.2h0M1473.2 899.7h0M1474.1 901.1h0M1478.1 902.2h0M1480.5 904.6h0M1481.6 915.3h0M1485.3 909.5h0M1484.1 921.4h0M1488.4 912.3h0M1490.5 911.1h0M1490.6 925.2h0M1495.6 924.3h0M1496.4 930.1h0M1501.1 930.8h0M1502.6 931.8h0M1504.8 935.4h0M1509.3 941.9h0M1510.8 944.5h0M1512.2 939.1h0M1515.7 935.5h0M1514.5 933.3h0M1520.6 936.0h0M1524.2 933.5h0M1527.1 934.2h0M1531.6 941.7h0M1535.3 942.4h0M1536.1 944.5h0M1541.5 946.9h0M1543.9 944.1h0M1545.4 944.1h0M1550.5 940.3h0M1552.6 936.8h0M1551.9 939.7h0M1557.5 932.0h0M1559.9 930.2h0M1563.7 929.5h0M1568.3 925.6h0M1573.1 924.6h0M1574.4 925.5h0M1578.3 927.1h0M1585.7 928.5h0M1588.6 925.8h0M1590.2 923.2h0M1591.9 924.0h0M1596.7 920.2h0M1598.2 920.3h0M1595.8 911.4h0M1601.0 920.3h0M1604.8 911.3h0M1608.3 906.5h0M1603.2 895.4h0M1609.3 911.6h0M1609.5 907.5h0M1613.7 903.8h0M1613.8 890.9h0M1613.1 894.7h0M1617.4 895.3h0M1618.8 880.0h0M1617.0 884.8h0M1621.8 893.8h0M1619.2 879.2h0M1625.1 878.9h0M1629.8 873.3h0M1629.2 876.3h0M1633.6 867.4h0M1641.6 863.0h0M1637.5 857.7h0M1637.7 862.1h0M1647.1 854.7h0M1639.2 864.8h0M1640.6 858.4h0M1649.7 852.5h0M1651.9 846.4h0M1655.1 839.2h0M1654.5 848.6h0M1651.1 864.2h0M1653.9 848.3h0M1658.8 853.6h0M1660.2 865.4h0M1663.9 857.8h0M1664.3 858.8h0M1670.0 859.5h0M1674.8 852.2h0M1675.8 848.1h0M1677.2 848.8h0M1677.2 841.7h0M1679.2 849.8h0M1681.3 850.3h0M1685.6 851.9h0M1681.3 853.9h0M1685.1 860.8h0M1684.8 857.5h0M1685.6 873.6h0M1691.5 865.2h0M1688.8 872.2h0M1693.5 868.6h0M1691.7 860.1h0M1693.9 859.6h0M1697.2 850.8h0M1694.3 869.2h0M1699.3 854.9h0M1698.2 851.1h0M1694.5 839.3h0M1695.9 843.0h0M1695.7 837.4h0M1697.7 845.9h0M1698.5 846.5h0M1704.6 852.8h0M1702.5 860.9h0M1709.1 852.0h0M1704.3 863.1h0M1706.7 856.7h0M1708.1 862.2h0M1712.3 865.4h0M1710.4 862.6h0M1712.6 868.3h0M1712.4 878.3h0M1710.6 863.7h0M1711.1 889.1h0M1711.0 881.4h0M1710.9 898.6h0M1712.3 895.8h0M1707.7 892.2h0M1713.3 897.0h0M1708.7 904.2h0M1710.5 903.9h0M1712.6 909.3h0M1710.6 908.1h0M1708.7 915.8h0M1708.6 931.3h0M1710.5 919.9h0M1712.6 923.3h0M1711.3 932.3h0M1711.1 930.7h0M1709.9 921.9h0M1713.5 926.9h0M1710.9 927.0h0M1707.5 911.8h0M1709.5 921.7h0M1709.4 924.3h0M1706.6 919.9h0M1710.7 912.6h0M1706.2 895.1h0M1706.7 906.4h0M1710.0 894.3h0M1711.3 897.7h0M1710.5 890.1h0M1707.7 899.0h0M1715.9 898.3h0M1713.8 876.4h0M1713.7 880.9h0M1707.2 872.9h0M1708.3 874.0h0M1715.7 878.0h0M1715.8 870.8h0M1715.0 867.2h0M1714.5 865.9h0M1715.7 865.9h0M1708.3 854.9h0M1714.7 845.2h0M1710.5 845.9h0M1713.7 840.9h0M1711.4 847.1h0M1715.3 840.6h0M1711.6 833.0h0M1712.6 834.6h0M1717.0 839.4h0M1714.7 822.0h0M1717.1 820.0h0M1714.6 817.0h0M1718.1 815.2h0M1716.5 814.9h0M1716.6 810.1h0M1717.9 796.9h0M1717.4 807.8h0M1720.0 797.7h0M1723.1 790.4h0M1717.0 796.3h0M1718.0 792.5h0M1719.9 778.6h0M1723.3 783.3h0M1721.5 786.6h0M1725.8 760.6h0M1725.0 771.9h0M1725.5 767.2h0M1725.2 768.9h0M1729.9 765.9h0M1729.5 758.6h0M1732.2 760.1h0M1728.0 757.6h0M1730.1 762.9h0M1731.2 745.0h0M1724.6 746.8h0M1727.4 746.8h0M1729.8 731.0h0M1731.9 731.1h0M1731.8 723.3h0M1729.9 737.1h0M1728.2 724.9h0M1730.4 728.1h0M1730.7 719.0h0M1736.7 713.2h0M1727.2 717.4h0M1730.2 711.3h0M1735.1 707.6h0M1731.3 709.8h0M1730.9 700.7h0M1730.2 796.5h0M1736.0 794.3h0M1735.7 798.1h0M1735.0 796.8h0M1739.5 807.3h0M1732.2 802.1h0M1733.4 812.3h0M1734.6 813.9h0M1737.9 824.4h0M1733.7 826.5h0M1734.1 831.0h0M1735.4 823.4h0M1737.3 836.5h0M1731.6 843.9h0M1738.0 840.0h0M1731.1 845.7h0M1737.6 853.3h0M1731.1 844.2h0M1737.3 844.6h0M1736.1 851.0h0M1736.6 853.4h0M1735.2 859.2h0M1739.6 861.8h0M1735.4 861.4h0M1740.4 861.9h0M1745.3 858.3h0M1744.5 852.8h0M1749.6 854.0h0M1752.6 861.1h0M1759.3 860.5h0M1760.0 868.0h0M1758.1 870.1h0M1762.5 877.1h0M1763.6 887.7h0M1763.2 882.4h0M1764.7 885.3h0M1767.2 885.8h0M1765.5 884.3h0M1764.9 881.4h0M1766.8 889.2h0M1766.3 880.8h0M1767.0 863.1h0M1767.5 868.5h0M1770.6 861.3h0M1774.0 861.4h0M1777.1 864.8h0M1777.9 870.1h0M1774.8 868.1h0M1776.5 867.2h0M1778.0 882.2h0M1784.0 880.6h0M1785.1 894.1h0M1780.1 876.9h0M1784.9 878.3h0M1787.3 877.3h0M1789.9 880.1h0M1787.7 872.4h0M1788.0 867.3h0M1792.1 864.2h0M1794.1 860.8h0M1795.6 871.3h0M1799.4 870.8h0M1798.0 873.7h0M1800.6 876.0h0M1800.6 882.6h0M1804.8 883.5h0M1804.9 885.4h0M1805.6 887.9h0M1807.2 890.4h0M1808.5 891.0h0M1810.8 884.4h0M1814.9 887.1h0M1812.8 888.8h0M1815.1 892.1h0M1819.0 891.0h0M1820.3 895.7h0M1820.8 899.6h0M1822.3 904.8h0M1824.2 905.7h0M1824.1 910.5h0M1826.6 914.5h0M1826.9 917.4h0M1827.9 918.7h0M1832.6 920.2h0M1832.2 925.1h0M1833.7 930.2h0M1438.8 1041.6h0M1439.6 1040.2h0M1442.7 1035.8h0M1442.7 1032.6h0M1445.0 1030.3h0M1446.9 1025.4h0M1446.9 1026.5h0M1451.4 1019.9h0M1648.0 872.7h0M1653.1 879.1h0M1717.4 816.6h0M1717.7 809.1h0M1716.8 803.9h0M1718.5 803.5h0M1717.2 807.1h0M1714.3 797.1h0M1713.8 787.6h0M1726.3 793.2h0M1718.3 795.8h0M1801.6 880.3h0M1803.5 883.5h0M1804.8 885.3h0M1803.7 891.1h0M1804.6 890.6h0M1811.5 893.9h0M1811.6 891.1h0M1817.2 890.7h0M1816.4 891.5h0M1818.1 895.1h0M1819.3 898.9h0M1820.3 901.0h0M1824.0 903.8h0M1825.3 905.2h0M1827.1 914.4h0M1827.7 907.4h0M1826.3 918.0h0M1825.6 913.8h0M1831.4 921.3h0M1833.4 925.7h0M1833.1 927.3h0M1865.3 960.0h0M1866.3 953.4h0M1870.6 954.2h0M1871.2 951.5h0M1873.2 942.0h0M1876.2 945.4h0M1880.8 948.7h0M1881.7 938.3h0M1881.7 934.5h0M1881.5 930.4h0M1885.7 935.3h0M1890.1 937.3h0M1893.0 933.5h0M1897.9 935.9h0M2029.2 994.2h0M2027.9 992.1h0M2029.6 989.4h0M2030.7 983.9h0M2034.2 980.2h0M2034.2 975.9h0M2037.2 983.4h0M2041.3 982.3h0M2078.7 1001.7h0M2080.2 1002.3h0M2079.7 1004.4h0M2078.8 1001.2h0M2078.4 1006.4h0M2079.0 1018.0h0M2079.1 1017.9h0M2055.8 989.1h0M2058.4 984.7h0M2060.4 981.2h0M2061.2 980.5h0M2061.7 981.3h0M2063.1 978.0h0M2064.3 975.4h0M2066.5 963.0h0M2066.6 963.7h0M2067.7 968.0h0M2068.4 958.2h0M2069.3 954.2h0M2070.9 952.0h0M2072.4 948.1h0M2076.3 946.1h0M2074.2 948.6h0M2072.9 944.4h0M2075.1 939.3h0M2078.4 934.1h0M2076.4 931.1h0M2083.9 926.8h0M2081.0 922.5h0M2085.2 919.9h0M2088.0 919.9h0M2088.2 913.5h0M2088.3 912.3h0M2091.1 908.5h0M2091.6 908.6h0M2092.2 906.1h0M2091.6 902.0h0M2096.1 897.1h0M2096.2 893.9h0M2103.7 897.9h0M2106.6 900.7h0M2107.5 905.4h0M2110.2 906.9h0M2107.6 908.1h0M2108.0 912.5h0M2134.5 908.4h0M2141.5 902.8h0M2144.0 901.8h0M2148.4 910.2h0M2147.3 915.1h0M2143.8 915.2h0M2147.1 923.0h0M2148.4 920.8h0M2188.8 982.6h0M2190.1 975.9h0M2191.5 970.6h0M2199.2 970.4h0M2195.9 973.4h0M2195.3 975.3h0M2195.9 982.6h0M2199.1 985.4h0M2197.2 990.4h0M2198.4 992.3h0M2202.0 985.8h0M2199.7 980.2h0M2202.8 980.4h0M2199.9 976.1h0M2204.1 970.8h0M2204.3 967.9h0M2202.2 965.3h0M2204.6 961.1h0M2204.7 958.2h0M2204.4 951.4h0M2205.4 947.8h0M2206.4 946.8h0M2206.2 943.3h0M2207.6 939.2h0M2212.2 963.1h0M2214.6 963.4h0M2226.3 934.2h0M2223.9 934.1h0M2224.4 935.2h0M2227.8 937.4h0M2224.8 942.3h0M2226.4 948.5h0M2227.7 954.5h0M2227.9 951.7h0M2226.6 960.2h0M2227.9 961.6h0M2230.1 964.2h0M2229.3 966.4h0M2227.2 956.9h0M2230.9 960.7h0M2226.4 953.6h0M2230.1 950.8h0M2229.4 946.7h0M2228.8 939.2h0M2228.9 939.4h0M2230.3 932.5h0M2230.8 933.0h0M2228.8 928.3h0M2229.2 927.1h0M2230.1 921.0h0M2231.3 918.3h0M2230.8 916.2h0M2230.9 917.7h0M2230.8 911.3h0M2229.2 909.9h0M2230.4 899.7h0M2230.2 899.9h0M2232.1 899.0h0M2233.0 896.2h0M2235.8 887.3h0M2235.7 884.5h0M2234.4 881.6h0M2236.6 883.9h0M2235.3 888.5h0M2239.1 892.2h0M2236.1 897.2h0M2237.3 897.8h0M2237.3 902.8h0M2236.5 903.9h0M2239.2 918.0h0M2238.4 909.4h0M2237.5 914.0h0M2237.6 914.4h0M2236.8 923.7h0M2238.5 926.2h0M2238.9 923.6h0M2238.2 917.0h0M2239.3 912.1h0M2238.7 911.5h0M2238.3 908.1h0M2236.9 901.3h0M2239.2 897.8h0M2239.3 897.5h0M2241.6 897.6h0M2240.4 893.0h0M2243.9 894.1h0M2240.3 883.5h0M2240.1 884.0h0M2239.2 879.2h0M2241.6 876.9h0M2241.1 876.0h0M2243.9 865.1h0M2243.8 868.4h0M2241.8 866.7h0M2242.2 857.7h0M2241.8 852.8h0M2242.3 855.6h0M2244.9 849.9h0M2243.4 848.2h0M2242.0 845.1h0M2244.4 839.6h0M2245.0 836.0h0M2241.5 831.0h0M2244.2 838.7h0M2245.5 841.7h0M2248.1 849.1h0M2231.9 894.2h0M2232.3 898.5h0M2233.3 898.5h0M2232.9 904.7h0M2231.9 902.0h0M2233.8 910.4h0M2234.9 907.5h0M2231.2 914.8h0M2233.4 917.4h0M2234.5 921.1h0M2235.9 922.3h0M2236.7 912.6h0M2235.8 909.9h0M2234.2 911.7h0M2236.2 906.2h0M2237.0 903.2h0M2237.3 900.5h0M2237.8 896.4h0M2239.3 891.7h0M2238.0 893.6h0M2238.3 884.4h0M2239.6 875.4h0M2267.6 913.0h0M2267.5 913.6h0M2267.5 917.4h0M2265.7 920.8h0M2268.2 923.0h0M2267.2 929.1h0M2265.8 929.0h0M2279.9 902.4h0M2281.5 900.5h0M2280.5 897.7h0M2282.3 894.5h0M2282.8 893.5h0M2284.0 885.9h0M2282.7 884.5h0M2285.4 879.5h0M2281.2 876.4h0M2285.5 871.6h0M2307.0 919.9h0M2307.4 928.2h0M2306.6 931.5h0M2308.1 933.1h0M2309.0 934.1h0M2365.6 912.6h0M2367.4 918.8h0M2368.8 924.3h0M2376.4 939.0h0M2377.1 939.8h0M2379.8 928.7h0M2380.4 930.4h0M2380.7 925.7h0M2380.1 923.9h0M2380.3 917.0h0M2381.4 911.8h0M2382.6 914.5h0M2381.4 908.7h0M2383.3 909.4h0M2382.3 906.2h0M2378.9 903.6h0M2380.6 907.3h0M2380.2 908.7h0M2380.8 913.8h0M2379.8 912.3h0M2381.1 918.1h0M2383.4 925.0h0M2382.6 922.7h0M2381.8 927.7h0M2382.1 934.3h0M2385.7 935.0h0M2522.3 943.0h0M2524.9 945.2h0M2524.1 948.9h0M2528.2 936.8h0M2531.2 943.9h0M2529.0 932.9h0M2527.4 931.7h0M2532.9 919.4h0M2540.1 921.1h0M2536.9 908.9h0M2543.0 917.2h0M2549.5 921.6h0M2545.6 915.2h0M2550.0 910.3h0M2548.2 910.8h0M2547.2 902.5h0M2552.1 912.1h0M2551.0 901.9h0M2550.2 905.9h0M2552.3 888.1h0M2554.9 873.5h0M2555.7 881.6h0M2561.2 879.9h0M2561.3 883.1h0M2560.6 901.6h0M2561.6 893.5h0M2558.6 902.4h0M2561.4 888.4h0M2561.6 908.2h0M2562.9 911.2h0M2563.2 911.2h0M2561.2 922.2h0M2557.1 919.1h0M2561.0 919.8h0M2560.2 933.4h0M2559.2 937.3h0M2559.4 933.0h0M2562.1 936.5h0M2564.2 953.5h0M2563.7 956.1h0M2574.0 882.6h0M2566.6 884.4h0M2564.8 888.3h0M2570.5 899.5h0M2568.5 894.2h0M2569.9 900.6h0M2572.6 897.0h0M2573.2 905.0h0M2574.9 918.0h0M2574.8 914.1h0M2571.9 912.0h0M2573.3 923.2h0M2572.9 915.8h0M2575.4 925.8h0M2576.2 937.9h0M2573.7 948.6h0M2578.5 938.6h0M2580.8 933.7h0M2578.5 931.7h0M2572.5 929.0h0M2575.9 932.1h0M2575.5 916.2h0M2584.9 920.4h0M2584.4 905.5h0M2586.2 907.6h0M2586.2 914.1h0M2589.7 898.7h0M2589.3 905.9h0M2588.6 888.7h0M2592.6 895.0h0M2594.2 894.4h0M2595.7 908.3h0M2595.6 903.8h0M2604.4 907.5h0M2605.1 913.4h0M2599.7 910.8h0M2598.2 899.6h0M2602.1 895.5h0M2605.6 879.1h0M2607.6 895.7h0M2603.7 880.4h0M2608.6 890.2h0M2607.6 888.5h0M2611.0 881.9h0M2616.1 882.2h0M2617.1 889.0h0M2594.8 927.5h0M2598.1 928.0h0M2625.6 881.8h0M2626.8 877.5h0M2628.9 880.8h0M2624.0 893.4h0M2630.6 894.5h0M2630.3 891.1h0M2637.2 897.6h0M2642.4 890.5h0M2644.9 896.3h0M2649.2 880.3h0M2655.2 890.8h0M2655.8 895.6h0M2655.7 898.5h0M2676.2 892.4h0M2678.7 879.1h0M2700.2 878.2h0M2698.4 874.6h0M2702.5 898.3h0M2705.5 899.4h0M2759.8 881.9h0M2764.6 877.9h0M2768.9 887.9h0M2770.8 882.6h0M2771.9 887.8h0M2775.7 892.7h0M2774.9 886.4h0M2778.4 886.6h0M2780.9 890.6h0M2766.4 868.7h0M2768.1 867.9h0M2767.0 878.5h0M2775.2 853.5h0M2776.9 868.3h0M2767.8 877.1h0M2771.8 883.0h0M2779.1 878.4h0M2793.0 870.6h0M2793.6 869.2h0M2792.6 871.0h0M2787.0 873.4h0M2794.4 861.4h0M2792.3 861.5h0M2791.6 847.5h0M2791.6 851.7h0M2797.0 844.5h0M2800.7 842.2h0M2795.3 844.0h0M2797.7 844.8h0M2799.8 852.3h0M2805.3 855.3h0M2801.7 857.7h0M2804.6 855.3h0M2830.8 834.9h0M2831.2 836.9h0M2829.5 846.7h0M2830.0 838.2h0M2828.9 844.4h0M2826.2 849.1h0M2829.5 853.3h0M2859.9 855.2h0M2862.8 867.5h0M2863.1 870.5h0M2866.3 867.6h0M2866.6 857.8h0M2868.2 845.5h0M2871.6 846.3h0M2871.2 839.8h0M2878.1 842.3h0M2875.3 844.0h0M2872.7 836.3h0M2871.9 839.6h0M2877.3 844.1h0M2872.8 850.0h0M2874.4 846.7h0M2875.1 854.4h0M2872.2 868.3h0M2868.0 862.9h0M2876.6 870.0h0M2869.8 870.1h0M2882.8 837.2h0M2880.4 832.4h0M2883.8 850.0h0M2879.8 848.2h0M2886.0 852.3h0M2880.1 848.3h0M2880.0 860.8h0M2882.5 850.0h0M2886.1 867.1h0M2879.1 870.6h0M2884.8 834.5h0M2885.0 832.6h0M2881.8 834.8h0M2888.0 847.9h0M2882.0 849.2h0M2885.0 851.1h0M2886.6 855.2h0M2888.1 849.3h0M2885.4 855.8h0M2886.6 868.8h0M2887.8 866.1h0M2891.7 843.2h0M2892.3 837.4h0M2894.7 839.7h0M2891.3 836.9h0M2887.4 854.9h0M2891.7 848.4h0M2888.5 842.3h0M2889.8 859.2h0M2890.1 852.2h0M2894.3 862.8h0M2887.5 857.7h0M2894.8 824.6h0M2897.5 834.3h0M2896.7 843.1h0M2897.1 834.5h0M2899.7 851.8h0M2892.6 843.3h0M2895.0 855.0h0M2899.7 858.3h0M2895.4 853.1h0M2893.2 858.4h0M2897.6 866.7h0M2897.7 832.1h0M2897.9 843.4h0M2896.5 835.2h0M2904.0 845.8h0M2901.9 846.7h0M2903.7 839.9h0M2906.8 853.2h0M2898.4 857.1h0M2898.9 850.7h0M2900.5 863.0h0M2901.9 851.8h0M2902.0 831.6h0M2906.8 828.3h0M2904.4 834.2h0M2908.7 833.6h0M2910.0 847.2h0M2906.5 837.2h0M2909.6 845.1h0M2907.7 858.0h0M2906.2 854.0h0M2903.7 865.1h0M2910.1 862.3h0M2906.1 824.7h0M2909.2 831.0h0M2909.5 834.6h0M2908.0 839.3h0M2910.0 836.2h0M2908.4 835.5h0M2910.4 840.4h0M2911.1 845.7h0M2906.7 857.3h0M2908.8 864.1h0M2922.9 847.0h0M2925.0 855.1h0M2922.7 865.3h0M2921.7 859.6h0M2919.0 850.6h0M2921.4 862.9h0M2923.6 871.4h0M2922.9 880.8h0M2929.5 879.2h0M2926.6 868.5h0M2915.7 933.0h0M2912.0 930.4h0M2916.1 940.8h0M2919.4 938.8h0M2921.9 907.7h0M2923.7 909.9h0M2926.9 927.7h0M2931.3 933.7h0M2937.1 923.4h0M2934.6 926.5h0M2936.9 911.7h0M2934.4 913.0h0M2933.0 900.8h0M2939.3 911.9h0M2939.8 906.0h0M2938.2 912.6h0M2940.9 907.5h0M2950.4 918.2h0M2946.1 924.5h0M2945.1 923.4h0M2948.0 916.2h0M2969.0 943.3h0M2970.5 942.7h0M2979.4 955.8h0M2972.2 954.8h0M2979.5 941.5h0M2978.8 942.8h0M2977.0 942.4h0M2974.0 937.9h0M2980.4 925.9h0M2981.6 931.7h0M2984.9 932.9h0M2981.1 923.5h0M2978.3 926.7h0M2984.9 929.8h0M2982.6 918.8h0M2985.2 942.0h0M2981.9 942.9h0M2979.6 947.0h0M2982.4 943.8h0M2983.0 961.0h0M2986.8 940.0h0M2985.1 947.8h0M2986.9 963.6h0M2988.9 957.7h0M2991.8 962.3h0M2992.8 966.2h0M2989.7 1006.6h0M2987.1 998.5h0M2998.0 942.2h0M2998.0 945.5h0M2998.0 948.7h0M2998.0 951.9h0M2998.0 955.2h0M1726.7 451.4h0M1730.2 549.4h0M1712.8 596.3h0M1730.2 617.1h0M1716.6 651.8h0M1730.2 656.5h0M1730.2 690.3h0" stroke="#F52828" stroke-width="8.2" stroke-linecap="round" fill="none"/>
<path d="M1347.3 1026.9L1362.0 1026.9" stroke="#FF0000" stroke-width="3.5" fill="none" stroke-linejoin="round" /></g>
<path d="M376.2 296.2V1202.3" stroke="#0072BD" stroke-width="2.2" fill="none"/>
<path d="M375.2 1201.3H3000.3" stroke="#262626" stroke-width="2.2" fill="none"/>
<path d="M376.2 1074.9h27M376.2 931.2h27M376.2 787.4h27M376.2 643.7h27M376.2 499.9h27M376.2 356.2h27" stroke="#0072BD" stroke-width="2" fill="none"/>
<path d="M376.2 1201.3v-27M922.7 1201.3v-27M1469.2 1201.3v-27M2015.6 1201.3v-27M2562.1 1201.3v-27" stroke="#262626" stroke-width="2" fill="none"/>
<path d="M376.0 296.7H379.7V1206.6H376.0ZM381.2 296.7H404.8V1206.6H381.2ZM414.2 296.7H415.8V1206.6H414.2ZM417.9 296.7H433.8V1206.6H417.9ZM456.1 296.7H457.8V1206.6H456.1ZM461.9 296.7H475.8V1206.6H461.9ZM522.1 296.7H530.8V1206.6H522.1ZM536.0 296.7H538.0V1206.6H536.0ZM540.0 296.7H542.6V1206.6H540.0ZM553.1 296.7H553.9V1206.6H553.1ZM573.1 296.7H573.9V1206.6H573.1ZM585.0 296.7H592.7V1206.6H585.0ZM595.1 296.7H597.4V1206.6H595.1ZM600.0 296.7H617.8V1206.6H600.0ZM629.1 296.7H630.8V1206.6H629.1ZM724.0 296.7H726.8V1206.6H724.0ZM757.1 296.7H758.0V1206.6H757.1ZM787.9 296.7H797.0V1206.6H787.9ZM804.0 296.7H806.0V1206.6H804.0ZM808.0 296.7H809.0V1206.6H808.0ZM811.0 296.7H813.0V1206.6H811.0ZM819.0 296.7H824.0V1206.6H819.0ZM835.0 296.7H855.0V1206.6H835.0ZM870.0 296.7H871.0V1206.6H870.0ZM873.0 296.7H877.0V1206.6H873.0ZM879.0 296.7H881.8V1206.6H879.0ZM883.8 296.7H885.8V1206.6H883.8ZM919.0 296.7H920.6V1206.6H919.0ZM921.6 296.7H923.8V1206.6H921.6ZM973.0 296.7H975.0V1206.6H973.0ZM1023.0 296.7H1023.9V1206.6H1023.0ZM1044.0 296.7H1045.8V1206.6H1044.0ZM1048.0 296.7H1052.0V1206.6H1048.0ZM1077.0 296.7H1078.8V1206.6H1077.0ZM1097.0 296.7H1105.0V1206.6H1097.0ZM1112.0 296.7H1116.0V1206.6H1112.0ZM1136.0 296.7H1136.9V1206.6H1136.0ZM1152.0 296.7H1154.0V1206.6H1152.0ZM1156.0 296.7H1157.0V1206.6H1156.0ZM1168.0 296.7H1169.8V1206.6H1168.0ZM1188.0 296.7H1190.0V1206.6H1188.0ZM1214.0 296.7H1216.0V1206.6H1214.0ZM1267.0 296.7H1269.0V1206.6H1267.0ZM1305.0 296.7H1309.0V1206.6H1305.0ZM1833.0 296.7H1834.9V1206.6H1833.0ZM1837.0 296.7H1861.0V1206.6H1837.0ZM1884.0 296.7H1917.0V1206.6H1884.0ZM1918.8 296.7H1928.0V1206.6H1918.8ZM1932.9 296.7H1939.0V1206.6H1932.9ZM1940.8 296.7H1994.9V1206.6H1940.8ZM1997.0 296.7H2019.1V1206.6H1997.0Z" fill="#00FFFF" fill-opacity="0.5"/>
<path d="M538.0 296.7H540.0V1206.6H538.0ZM920.6 296.7H921.6V1206.6H920.6ZM1185.0 296.7H1187.0V1206.6H1185.0ZM1296.0 296.7H1298.0V1206.6H1296.0ZM1320.0 296.7H1321.0V1206.6H1320.0Z" fill="#E2ACE2" fill-opacity="0.66"/>
<path d="M913.0 296.7H914.8V1206.6H913.0ZM975.0 296.7H977.0V1206.6H975.0ZM1301.0 296.7H1302.8V1206.6H1301.0ZM1340.0 296.7H1345.0V1206.6H1340.0ZM1372.0 296.7H1833.0V1206.6H1372.0ZM1834.9 296.7H1837.0V1206.6H1834.9ZM1861.0 296.7H1884.0V1206.6H1861.0ZM1917.0 296.7H1918.8V1206.6H1917.0ZM1928.0 296.7H1932.9V1206.6H1928.0ZM1939.0 296.7H1940.8V1206.6H1939.0ZM1994.9 296.7H1997.0V1206.6H1994.9ZM2019.1 296.7H2997.2V1206.6H2019.1Z" fill="#8BB9E5" fill-opacity="0.7"/>
<path d="M1834.9 296.7H1837.0V1206.6H1834.9ZM1917.0 296.7H1918.8V1206.6H1917.0ZM1939.0 296.7H1940.8V1206.6H1939.0ZM1994.9 296.7H1997.0V1206.6H1994.9Z" fill="#E2ACE2" fill-opacity="0.18"/>

<path d="M2999.3 296.2V1202.3" stroke="#0072BD" stroke-width="2.2" fill="none"/>
<g font-size="44.1" fill="#0072BD" text-anchor="end">
<text x="355.5" y="1091.1">2</text>
<text x="355.5" y="947.4">4</text>
<text x="355.5" y="803.6">6</text>
<text x="355.5" y="659.9">8</text>
<text x="355.5" y="516.1">10</text>
<text x="355.5" y="372.4">12</text>
</g>
<g font-size="44.1" fill="#262626" text-anchor="middle">
<text x="375.7" y="1263.1">0</text>
<text x="922.2" y="1263.1">5</text>
<text x="1468.7" y="1263.1">10</text>
<text x="2015.1" y="1263.1">15</text>
<text x="2561.6" y="1263.1">20</text>
<text x="1686.2" y="1327.1">UTC hours on 20240905</text>
</g>
<text transform="translate(271.3 750.3) rotate(-90)" font-size="44.0" fill="#0072BD" text-anchor="middle">Precip. Water Vapor, mm</text>
<path d="M2457.5 371.3H2603.5" stroke="#0000FF" stroke-width="4.2" fill="none"/>
<path d="M2457.5 422.9H2603.5" stroke="#ADD8E6" stroke-width="4.2" fill="none"/>
<path d="M2457.5 475.0H2603.5" stroke="#FF8C00" stroke-width="4.2" fill="none"/>
<path d="M2457.5 526.6H2603.5" stroke="#A52A2A" stroke-width="4.2" fill="none"/>
<g font-size="39.2" fill="#000">
<text x="2617.4" y="386.1">MWR 2C PWV</text>
<text x="2617.4" y="437.7">MWR 3C PWV</text>
<text x="2617.4" y="489.8">PHY-ITER-2C</text>
<text x="2617.4" y="541.4">PHY-ITER-3C</text>
</g>
</g>
<g id="ax2">
<clipPath id="cl1"><rect x="373.2" y="1424.5" width="2631.1" height="905.2"/></clipPath>
<g clip-path="url(#cl1)"><path d="M376.6 2072.5L381.5 2231.3L385.7 2075.9L391.0 2261.4L395.3 2094.8L398.7 2128.6L402.6 2070.6L405.4 2261.1L408.7 1968.0L411.4 2295.9L416.6 2110.2L421.2 2137.0L424.9 2073.9L427.9 2290.7L431.7 2040.8L437.1 2154.4L442.9 2047.6L447.3 2192.0L451.6 2022.5L454.3 2279.6L457.6 2062.6L460.9 2297.2L466.6 2066.3L471.8 2233.5L476.8 2031.0L481.0 2275.2L484.3 2055.0L489.9 2206.4L493.7 2003.1L497.6 2304.4L501.5 1975.2L504.4 2258.9L510.4 2006.0L514.7 2231.7L519.8 2060.2L524.5 2233.5L529.2 2085.9L532.3 2199.4L538.1 2087.8L542.7 2193.3M544.0 2107.1L546.5 2308.8L551.0 2150.0L552.0 2248.3L554.1 2185.3M561.6 2167.6L562.9 2245.8M647.4 2031.5L648.6 2175.2M653.7 1875.1L652.4 2021.4M670.1 2001.2L670.6 2152.5M676.4 1867.6L675.1 2107.1M681.4 1892.8L682.7 2245.8L685.2 2112.1L687.7 2306.3L689.7 2086.9L691.5 2306.3L694.0 2114.7L697.8 1930.6L702.8 2036.5L707.9 2066.8L712.9 1986.1L718.0 1960.9M564.2 2069.3L567.0 2130.3L572.7 1998.8L575.5 2231.0L579.0 2023.8L582.2 2282.2L585.6 2034.9L591.1 2246.8L596.5 2110.0L599.0 2281.9L603.4 2082.9L606.4 2282.1L610.7 2117.5L615.6 2305.3M700.0 1977.3L702.4 2073.3L703.6 1965.6L705.2 2060.5L706.5 1951.5L708.2 2049.6L709.9 1945.6L711.0 2066.8L712.7 1962.8L714.8 2054.4L715.9 1972.3L717.8 2065.0L719.8 1979.0M723.5 2038.8L724.1 2303.5M742.6 2030.0L743.5 2209.4M748.5 1859.4L748.5 1959.4M757.4 2044.7L757.9 2097.6M764.7 2068.2L765.3 2209.4M772.1 2044.7L772.9 2209.4M777.1 2030.0L775.9 2118.2M786.8 1847.6L787.4 1985.9M800.0 2128.5L800.6 2303.5M812.6 2062.4L812.6 2165.3M863.2 1985.9L863.8 2047.6M871.2 2032.9L872.1 2074.1M898.5 2118.2L900.0 2209.4L902.4 2103.5L903.8 2206.5L904.4 2059.4L905.9 2250.6L907.4 2303.5M923.5 2100.6L925.0 2244.7M958.8 2150.6L959.4 2209.4M963.2 2085.9L964.7 2162.4L966.2 2209.4M968.2 2062.4L969.1 2168.2M973.5 2118.2L973.5 2303.5M984.7 2049.1L983.8 2191.8M1000.0 2074.1L998.5 2185.9L1004.4 2303.5M1012.4 1959.4L1013.2 2209.4M823.5 2063.4L829.1 2150.5L835.3 1994.2L840.3 2134.4L845.6 1969.7L850.8 2246.1L856.1 1983.9L861.8 2292.6L864.9 1999.3L870.9 2248.7L875.1 1990.8L881.2 2133.3M1055.0 2053.5L1059.4 2244.7L1063.8 1985.9L1067.6 2100.6L1071.2 1944.7L1074.1 1909.4L1080.0 1868.2L1087.4 2062.4L1090.3 2303.5L1093.2 2074.1M1167.6 2044.7L1168.2 2303.5M1177.1 2074.1L1180.0 2138.8L1181.5 2185.9M1196.2 2009.4L1197.6 2080.0M1206.5 1956.5L1209.4 2168.2M1218.2 2109.4L1219.7 2303.5M1252.1 2118.2L1253.5 2209.4M1263.8 2303.5L1265.3 2244.7L1269.7 2303.5L1271.8 2015.3L1274.1 2147.6L1277.1 2303.5M1282.9 2209.4L1287.4 2280.0L1291.8 2074.1L1296.2 2003.5L1300.6 2074.1L1305.0 2303.5L1307.9 2074.1L1312.4 2030.0L1315.3 2185.9M1327.1 2044.7L1330.0 1956.5L1334.4 1827.1L1335.9 1956.5L1341.8 1903.5L1347.6 1897.6L1353.5 1882.9L1359.4 1906.5L1368.2 1853.5L1371.2 1859.4L1380.0 1868.2" stroke="#0000FF" stroke-width="4" fill="none" stroke-linejoin="round"/>
<path d="M375.5 2012.0L377.5 2001.6L379.4 1971.3L381.3 2012.2L383.2 2002.6L385.1 2000.8L387.1 1994.8L389.2 2024.9L391.2 2012.6L393.2 2016.2L395.2 1979.7L397.0 1965.2L398.8 1945.2L400.6 1955.7L402.4 1894.9L404.2 1983.0L406.0 1956.7L407.8 1946.9L409.6 1969.7L411.4 1948.2L413.2 1963.9L415.0 1983.0L416.8 1935.0L418.6 2009.8L420.4 1987.8L422.4 1990.5L424.3 1948.2L426.3 1947.9L428.2 1998.7L430.2 1950.0L432.2 1941.9L434.1 1957.9L436.1 1979.0L438.0 1893.7L439.9 1974.8L441.8 1960.1L443.7 1974.4L445.6 1932.9L447.5 1959.7L449.4 1996.3L451.3 1963.0L453.2 1947.1L455.2 1952.3L457.1 1953.8L459.1 1988.2L461.1 1982.0L463.0 1967.6L465.0 1998.7L466.9 1961.6L468.9 1950.8L470.9 2044.3L472.8 1979.2L474.8 2018.5L476.7 1979.3L478.7 1965.7L480.7 1976.8L482.6 1941.2L484.6 1931.7L486.5 1940.7L488.5 1933.3L490.3 1951.7L492.1 1977.1L493.9 1900.5L495.7 1889.7L497.5 1920.3L499.3 1912.7L501.1 1919.5L503.1 1879.5L505.1 1907.0L507.2 1897.4L509.2 1860.4L511.2 1905.8L513.1 1868.9L515.0 1917.1L516.9 1904.5L518.8 1912.4L520.7 1972.9L522.5 1971.1L524.4 1948.5L526.3 1948.1L528.2 1926.6L530.0 1977.1L531.8 1975.7L533.7 1946.1L535.5 1928.5L537.3 1971.1L539.2 1979.2L541.0 2011.0L542.8 1976.7L544.7 1980.8L546.5 2018.2L548.4 2017.4L550.3 2039.9L552.2 2049.5L554.1 2005.1L556.0 1965.8L557.8 2019.6L559.7 2011.1L561.6 2035.0L563.5 1950.6L565.4 1984.7L567.3 1979.5L569.2 1948.3L571.0 1960.2L572.8 1942.4L574.6 1933.0L576.4 1947.1L578.2 1939.3L580.0 1926.1L581.8 1894.8L583.7 1899.5L585.6 1921.5L587.5 1930.1L589.4 1917.8L591.3 1953.9L593.1 1983.0L595.0 1967.2L596.9 1959.9L598.8 1998.1L600.7 1973.7L602.6 1954.0L604.5 1981.9L606.4 1958.8L608.3 1999.2L610.2 1986.7L612.1 2000.3L613.9 2028.9L615.8 2034.1L617.7 2007.5L619.6 1953.9L621.5 2000.3L623.4 2001.6L625.3 2061.3L627.2 2096.7L629.2 2077.7L631.2 2071.9L633.2 2067.2L635.3 2067.8L637.3 2041.3L639.5 2056.2L641.7 2020.4L643.9 1985.2L646.1 1998.9L648.0 2006.4L649.9 1937.5L652.4 1856.9L654.9 1883.7L657.2 1857.2L659.5 1849.8L661.7 1814.0L663.7 1852.3L665.6 1901.2L667.5 1871.5L670.1 1910.9L672.6 1921.7L674.5 1859.5L676.4 1847.0L678.5 1885.8L680.6 1879.9L682.7 1948.7L684.5 1934.0L686.4 2013.3L688.2 2040.4L690.6 1998.2L692.9 1939.4L695.3 1902.7L697.8 1836.7L700.3 1851.8L702.9 1923.4L705.0 1924.7L707.1 1922.6L709.1 1889.5L711.2 1860.9L713.2 1876.6L715.6 1860.7L718.0 1860.6L720.6 1900.1L722.5 1946.1L724.5 1910.2L726.5 1964.3L728.4 1904.2L730.4 1902.1L732.4 1913.2L734.2 1895.5L736.0 1874.0L737.9 1877.4L739.7 1884.4L741.5 1898.4L743.4 1928.2L745.2 1924.4L747.1 1914.7L749.0 1935.7L751.0 1877.6L752.9 1914.9L754.9 1931.1L756.9 1931.4L758.8 1976.3L760.8 1967.4L762.7 1966.4L764.7 2023.9L766.7 2007.1L768.6 2024.9L770.6 2008.8L772.5 2047.5L774.5 2021.4L776.5 2038.7L778.4 2061.3L780.4 2028.6L782.4 1999.4L784.3 1985.0L786.3 2040.0L788.2 2004.8L790.2 2025.1L792.2 2024.0L794.1 1944.0L796.1 2019.6L798.0 2036.2L800.0 2044.7L802.0 2037.8L803.9 2046.1L805.9 2018.6L807.8 2053.0L809.8 2032.5L811.8 2045.8L813.7 2083.3L815.7 2055.8L817.6 2023.0L819.9 2036.0L822.1 1982.9L824.3 2000.4L826.5 2019.5L828.4 1957.9L830.4 1962.5L832.4 1938.7L834.3 1952.2L836.3 1950.4L838.2 1939.0L840.1 1929.5L841.9 1891.2L843.8 1910.2L845.6 1925.1L847.4 1958.0L849.3 1898.2L851.1 1962.9L852.9 1930.7L854.8 1889.7L856.7 1944.7L858.6 1914.8L860.5 1868.2L862.4 1877.2L864.3 1874.2L866.2 1814.1L868.2 1890.7L870.3 1869.3L872.4 1922.1L874.4 1914.8L876.5 1906.9L878.4 1943.3L880.4 1965.6L882.4 1998.9L884.3 1977.0L886.3 2004.3L888.2 2054.1L890.1 2045.8L891.9 2043.6L893.8 2068.3L895.6 2033.4L897.8 2086.0L900.0 2013.7L902.2 2012.5L904.4 1983.7L906.2 2023.8L908.1 2009.0L909.9 2011.3L911.8 2048.1L913.7 2053.9L915.7 2032.2L917.6 2074.9L919.6 2046.3L921.6 2051.4L923.5 2045.0L925.5 2048.0L927.5 2027.7L929.4 2074.2L931.4 2042.3L933.3 2056.9L935.3 2095.7L937.3 2088.6L939.2 2039.9L941.2 2049.7L943.1 2036.7L945.1 2081.3L947.1 2052.2L949.0 2047.9L951.0 2023.4L952.9 2016.3L954.9 2035.0L956.9 1991.5L958.8 2002.1L960.8 1989.3L962.7 1987.9L964.7 1964.0L966.7 2014.3L968.6 1955.2L970.6 1952.8L972.8 1975.9L975.0 1994.4L977.2 1981.9L979.4 1963.6L981.6 1972.0L983.8 1948.7L986.0 1940.1L988.2 1978.9L990.4 1915.7L992.6 1964.4L994.9 1992.1L997.1 1989.3L999.3 1995.6L1001.5 2035.6L1003.7 2018.4L1005.9 1987.0L1007.8 2014.3L1009.8 2037.2L1011.8 2024.9L1013.7 2020.4L1015.7 2038.7L1017.6 2027.6L1019.6 2041.4L1021.6 2056.5L1023.5 2030.5L1025.5 2006.0L1027.5 2069.9L1029.4 2059.2L1031.4 2031.9L1033.3 2014.3L1035.3 2045.3L1035.9 2048.5L1038.1 2057.8L1040.3 2057.6L1042.5 2040.4L1044.7 2039.8L1047.4 2015.5L1050.0 2031.0L1050.6 2047.9L1052.5 2064.9L1054.5 1996.2L1056.5 2042.0L1058.4 2010.1L1060.4 1956.3L1062.4 1929.7L1064.3 1931.7L1066.3 1922.5L1068.2 1915.2L1070.4 1841.4L1072.6 1845.8L1074.9 1849.6L1077.1 1843.0L1079.3 1832.4L1081.5 1816.6L1083.3 1838.7L1085.1 1835.8L1087.0 1899.5L1088.8 1903.3L1090.8 1887.0L1092.7 1860.0L1094.7 1865.4L1096.9 1964.5L1099.1 2047.9L1101.0 2074.9L1102.8 2082.6L1104.6 2052.9L1106.5 1993.5L1108.7 2030.1L1110.9 2010.0L1113.1 2020.6L1115.3 2068.6L1117.1 1994.0L1119.0 1993.3L1120.8 2012.0L1122.6 2049.1L1124.5 2030.0L1126.3 1993.7L1128.2 2044.0L1130.0 2059.9L1131.9 2079.8L1133.8 2061.0L1135.7 2085.0L1137.6 2053.9L1139.5 2086.6L1141.3 2102.5L1143.2 2075.4L1145.1 2055.2L1146.9 2077.1L1148.8 2024.7L1150.6 2002.0L1152.4 2020.9L1154.3 2034.8L1156.1 2043.7L1157.9 2012.4L1159.8 2029.5L1161.6 1999.4L1163.5 1987.8L1165.3 2066.7L1167.3 1996.8L1169.2 1960.1L1171.2 1988.0L1173.1 1955.8L1175.1 1972.6L1177.1 1889.9L1179.0 1916.9L1181.0 1975.2L1182.9 1971.6L1184.9 1949.0L1186.9 2005.4L1188.8 2008.5L1190.8 1953.1L1192.7 1958.5L1194.7 1927.5L1196.7 1882.7L1198.6 1886.1L1200.6 1907.4L1202.5 1881.3L1204.5 1864.9L1206.5 1886.1L1208.7 1937.6L1210.9 1949.5L1213.1 1942.8L1215.3 1926.2L1217.1 1995.6L1219.0 1984.5L1220.8 2008.2L1222.6 1992.7L1224.5 1982.6L1226.3 1998.8L1228.2 1981.4L1230.0 1984.7L1232.0 1980.1L1233.9 1953.9L1235.9 2026.6L1237.8 2041.7L1239.8 2009.8L1241.8 2012.0L1243.7 2070.8L1245.7 2038.1L1247.6 2009.1L1249.6 1984.0L1251.6 2045.3L1253.5 2042.9L1255.5 1990.6L1257.5 2014.0L1259.4 1977.0L1261.4 1982.3L1263.3 2011.8L1265.3 1982.1L1267.5 1963.4L1269.7 1938.8L1271.9 1977.2L1274.1 1960.8L1276.3 1945.3L1278.5 2025.7L1280.7 1983.4L1282.9 1988.7L1284.8 1993.5L1286.7 1965.0L1288.6 1954.5L1290.5 1947.9L1292.4 1912.7L1294.3 1883.7L1296.2 1880.2L1298.0 1931.5L1299.9 1932.4L1301.7 1984.2L1303.5 1974.8L1305.7 1937.3L1307.9 1949.1L1310.1 1932.7L1312.4 1914.7L1314.6 1928.9L1316.8 1964.6L1319.0 1975.5L1321.2 1973.1L1324.1 1803.8L1327.1 1912.9L1330.0 1860.1L1332.0 1881.8L1333.9 1884.4L1335.9 1952.1L1337.8 1963.9L1339.8 1975.4L1341.8 1885.6L1343.7 1957.9L1345.7 1965.9L1347.6 1906.6L1349.9 1980.0L1352.1 1913.3L1354.3 1930.8L1356.5 1943.1L1358.7 1962.9L1360.9 1932.0L1363.1 1915.8L1365.3 1884.0L1367.1 1901.6L1369.0 1912.4L1370.8 1857.9L1372.6 1904.6" stroke="#ADD8E6" stroke-width="4.5" fill="none" stroke-linejoin="round"/>
<path d="M385.1 2339.1L386.4 2326.5L395.2 2339.1L405.3 2339.1L407.8 2097.0L411.6 2117.2L412.9 2339.1M429.3 2339.1L430.5 2326.5L436.8 2339.1L439.3 2021.4L443.1 2112.1L445.6 2107.1L448.2 2175.2L453.2 2197.9L455.7 2339.1M469.6 2339.1L470.9 2326.5L480.9 2339.1L483.5 2137.4L486.5 2016.3L489.8 2112.1L492.3 2339.1L494.8 2117.2L498.6 2112.1L499.9 2339.1L501.1 2001.2L503.6 2112.1L506.2 2339.1L509.9 1965.9L513.7 2036.5L516.2 2061.7L520.0 2112.1L521.3 2339.1M531.4 2339.1L533.9 2046.6L536.4 2339.1M564.2 2339.1L565.4 2112.1L570.5 2056.7L571.7 2339.1L575.5 2339.1L580.5 1986.1L582.3 1913.0L583.8 2112.1L584.8 2339.1L586.8 2339.1M662.5 1860.0L662.5 1892.8M710.4 1948.3L712.9 2008.8M710.3 1947.6L712.4 2006.5M725.0 2338.8L727.9 2038.8L732.4 2162.4L736.8 2338.8L739.7 2097.6L741.2 2338.8M751.5 1927.1L754.4 2338.8L757.4 2338.8M785.3 2338.8L785.9 1927.1L788.2 2338.8M819.1 2338.8L826.5 2074.1L830.9 2030.0L833.8 2338.8L841.2 2338.8L855.9 2338.8L858.8 2074.1L864.7 1968.2L867.6 1877.1L869.1 2338.8M980.9 2338.8L983.8 2168.2L988.2 2044.7L992.6 2147.6L994.1 2338.8L1001.5 2338.8L1002.4 2097.6L1002.9 2338.8M1053.5 2338.8L1057.9 2088.8L1062.4 1968.2L1071.2 1903.5L1075.6 1832.9L1078.5 2000.6L1080.0 1853.5L1084.4 1868.2L1088.8 2068.2L1093.2 1956.5L1096.2 2338.8L1100.6 2338.8M1150.6 2338.8L1151.2 2188.8L1155.0 2232.9L1155.9 2338.8M1168.2 2338.8L1171.2 2068.2L1177.1 2097.6L1182.9 2030.0L1188.8 2338.8L1191.8 2003.5L1196.2 1971.2L1200.6 2097.6L1206.5 1944.7L1213.8 2103.5L1217.4 2088.8L1218.2 2338.8M1265.3 2135.9L1267.6 2238.8M1272.6 2115.3L1275.6 2338.8M1287.4 2338.8L1291.8 2103.5L1296.2 1953.5L1299.1 2103.5L1302.1 2338.8M1307.9 2338.8L1311.5 2077.1L1315.3 2338.8M1319.7 2338.8L1324.1 2044.7L1328.5 1968.2L1332.9 1877.1L1335.9 1927.1L1338.8 1906.5L1346.2 1903.5L1350.6 1868.2L1356.5 1862.4L1360.9 1897.6L1368.2 1865.3L1371.2 1877.1L1380.0 1877.1M436.1 2033.6L437.9 2339.1L439.6 2065.1L441.5 2339.1L443.3 2101.5L445.5 2339.1L447.0 2100.6L449.2 2339.1L450.3 2187.7L452.7 2339.1L454.6 2181.3L455.7 2339.1M482.2 2084.4L484.2 2339.1L485.5 2026.8L487.0 2339.1L489.2 2082.7L491.2 2339.1L493.1 2014.7L494.8 2339.1L497.2 1992.6L499.4 2339.1L501.4 2007.1L503.0 2339.1L504.1 1975.8L506.5 2339.1L507.7 2064.8L510.1 2339.1L511.7 1979.6L513.2 2339.1L514.5 2064.2L515.6 2339.1L517.8 2067.7L519.5 2339.1L521.2 2099.9M819.1 2111.7L821.5 2338.8L824.1 2067.7L825.7 2338.8L827.3 2091.9L828.8 2338.8L830.4 2030.4L832.3 2338.8M980.9 2153.9L982.9 2338.8L985.3 2092.6L986.7 2338.8L988.7 2056.4L990.8 2338.8L992.9 2118.8" stroke="#FF8C00" stroke-width="4" fill="none" stroke-linejoin="round"/>
<path d="M375.5 2137.4L380.1 2112.1L385.1 2137.4L390.2 2102.1L394.0 2152.5L400.3 2026.4L405.3 2086.9L409.1 1976.0L412.9 1986.1L416.6 2086.9L420.4 2112.1L424.2 2051.6L429.3 2066.8L433.0 2112.1L436.1 2011.3L438.6 1960.9L441.9 2001.2L444.4 2021.4L448.2 1991.1L450.7 2018.9L453.2 1991.1L457.0 2051.6L459.5 2092.0L462.0 2041.5L465.8 2086.9L469.6 2112.1L473.4 2056.7L477.2 2056.7L480.9 2001.2L486.0 1968.4L488.5 2008.8L492.3 1955.8L494.8 2006.2L499.9 1930.6L503.6 2001.2L509.9 1925.6L513.7 1978.5L517.5 1986.1L521.3 2021.4L523.8 2112.1L527.6 2094.5L531.4 2086.9L535.2 1963.4L537.7 2001.2L541.5 1970.9L543.5 2069.3L544.0 2132.3M564.2 2021.4L564.7 1978.5L569.2 2026.4L571.7 1991.1L575.5 2021.4L579.3 1965.9L582.3 1918.0L584.3 2036.5L586.8 2112.1L593.1 2142.4L595.7 2041.5L598.2 2137.4L602.0 2086.9L607.0 2051.6L613.3 2026.4L615.8 2112.1L618.9 2172.7M709.1 1914.2L711.7 1938.2M708.8 1912.4L711.8 1938.8M729.4 1882.9L732.4 1956.5L736.8 2044.7L739.7 1962.4L738.2 2044.7M754.4 1912.4L757.4 1980.0M825.0 2062.4L827.9 1959.4L830.9 2044.7L836.8 1927.1L841.2 2044.7L848.5 2015.3L852.9 2221.2L858.8 1932.9L863.2 1985.9L867.1 1880.0L869.1 2338.8L873.5 2338.8L875.0 1947.6L878.5 1994.7L880.9 2338.8M976.5 2338.8L978.8 1997.6L983.8 2003.5L989.7 1971.2L994.1 2074.1L997.1 2003.5M1000.6 2009.4L1003.5 2038.8M1053.5 2085.9L1055.0 1985.9L1062.4 1927.1L1071.2 1880.0L1075.6 1838.8L1080.6 1824.1L1085.9 1841.8L1090.3 1921.2L1094.1 1882.9L1096.2 2074.1M1149.1 2035.9L1152.1 2044.7M1171.2 2109.4L1175.6 1968.2L1180.0 1985.9L1182.9 1971.2L1185.9 2074.1L1190.3 1985.9L1196.2 1935.9L1200.6 1997.6L1207.4 1924.1L1212.4 2003.5L1218.2 2047.6M1182.9 2338.8L1185.9 2074.1M1246.2 2028.5L1249.1 2035.9M1271.2 1991.8L1275.6 2012.4M1287.4 2021.2L1293.2 1956.5L1297.1 1912.4L1300.6 1985.9L1306.5 2062.4L1310.9 1965.3L1316.8 2012.4L1321.2 1956.5L1322.6 1871.2L1325.6 1968.2L1330.0 1906.5L1332.9 1956.5L1337.4 1927.1L1341.8 1956.5L1346.2 1980.0M1349.1 2085.9L1352.1 2006.5L1353.5 2085.9L1357.4 1974.1L1360.9 2035.9L1368.2 1891.8L1371.2 1897.6L1380.0 1953.5" stroke="#A52A2A" stroke-width="4.5" fill="none" stroke-linejoin="round"/>
<path d="M636.8 2179.0l15 15M636.8 2194.0l15 -15M623.7 2237.3l15 15M623.7 2252.3l15 -15M882.2 1993.7l15 15M882.2 2008.7l15 -15M904.3 2202.5l15 15M904.3 2217.5l15 -15" stroke="#0000FF" stroke-width="4" fill="none"/>
<path d="M546.1 2310.9l15 15M546.1 2325.9l15 -15M696.6 2046.7l15 15M696.6 2061.7l15 -15M699.0 2047.5l15 15M699.0 2062.5l15 -15M774.3 1904.3l15 15M774.3 1919.3l15 -15M768.4 1970.1l15 15M768.4 1985.1l15 -15M798.4 2227.8l15 15M798.4 2242.8l15 -15M1157.2 2181.3l15 15M1157.2 2196.3l15 -15" stroke="#FF8C00" stroke-width="4" fill="none"/>
<path d="M546.1 2127.8l15 15M546.1 2142.8l15 -15M696.6 1954.6l15 15M696.6 1969.6l15 -15M622.2 2235.8l15 15M622.2 2250.8l15 -15M699.0 1954.9l15 15M699.0 1969.9l15 -15M773.4 1874.0l15 15M773.4 1889.0l15 -15M767.5 1957.2l15 15M767.5 1972.2l15 -15M756.6 2019.0l15 15M756.6 2034.0l15 -15M802.8 2299.0l15 15M802.8 2314.0l15 -15M879.3 2241.6l15 15M879.3 2256.6l15 -15M1016.0 2078.4l15 15M1016.0 2093.4l15 -15M1035.1 2069.6l15 15M1035.1 2084.6l15 -15M1034.3 2069.6l15 15M1034.3 2084.6l15 -15M1022.5 2078.4l15 15M1022.5 2093.4l15 -15M1129.0 2099.0l15 15M1129.0 2114.0l15 -15M1154.9 2031.3l15 15M1154.9 2046.3l15 -15" stroke="#A52A2A" stroke-width="4" fill="none"/>
<path d="M1340.0 1910.1L1342.3 1905.7L1344.5 1900.8L1346.8 1894.0L1349.0 1889.5L1351.3 1889.9L1353.6 1892.8L1355.8 1895.5L1358.1 1898.3L1360.3 1887.8L1362.6 1883.2L1364.8 1874.2L1367.1 1866.5L1369.4 1858.8L1371.6 1863.4L1373.9 1869.2L1376.1 1878.1L1378.4 1861.8L1380.7 1845.2L1382.9 1829.1L1385.2 1814.7L1387.4 1823.3L1389.7 1829.0L1391.9 1839.1L1394.2 1842.1L1396.5 1843.4L1398.7 1847.7L1401.0 1838.6L1403.2 1831.9L1405.5 1829.3L1407.8 1842.4L1410.0 1856.5L1412.3 1842.0L1414.5 1827.9L1416.8 1813.2L1419.0 1795.8L1421.3 1759.0L1423.6 1751.3L1425.8 1745.0L1428.1 1740.2L1430.3 1739.0L1432.6 1736.1L1434.9 1696.9L1437.1 1659.3L1439.4 1660.4L1441.6 1659.7L1443.9 1659.9L1446.1 1655.3L1448.4 1647.5L1450.7 1641.7L1452.9 1647.6L1455.2 1647.3L1457.4 1646.6L1459.7 1652.2L1462.0 1652.3L1464.2 1655.8L1466.5 1653.6L1468.7 1654.6L1471.0 1657.7L1473.2 1660.4L1475.5 1663.8L1477.8 1667.1L1480.0 1669.4L1482.3 1668.2L1484.5 1673.3L1486.8 1675.3L1489.1 1675.1L1491.3 1675.6L1493.6 1671.9L1495.8 1674.4L1498.1 1677.3L1500.3 1672.9L1502.6 1670.4L1504.9 1666.3L1507.1 1672.2L1509.4 1678.2L1511.6 1678.8L1513.9 1676.4L1516.2 1674.0L1518.4 1676.6L1520.7 1676.4L1522.9 1677.6L1525.2 1679.0L1527.4 1678.9L1529.7 1679.1L1532.0 1681.2L1534.2 1680.1L1536.5 1681.4L1538.7 1682.1L1541.0 1685.8L1543.3 1685.2L1545.5 1679.4L1547.8 1680.9L1550.0 1680.8L1552.3 1681.0L1554.5 1678.7L1556.8 1678.7L1559.1 1678.1L1561.3 1677.5L1563.6 1681.1L1565.8 1680.1L1568.1 1682.7L1570.4 1687.0L1572.6 1687.4L1574.9 1686.1L1577.1 1685.0L1579.4 1682.7L1581.6 1684.2L1583.9 1685.1L1586.2 1685.1L1588.4 1687.4L1590.7 1685.6L1592.9 1679.6L1595.2 1671.9L1597.5 1663.6L1599.7 1663.1L1602.0 1661.9L1604.2 1662.1L1606.5 1663.3L1608.7 1657.9L1611.0 1656.9L1613.3 1649.9L1615.5 1647.6L1617.8 1645.8L1620.0 1642.8L1622.3 1640.4L1624.6 1638.1L1626.8 1630.6L1629.1 1626.0L1631.3 1624.8L1633.6 1617.5L1635.8 1620.6L1638.1 1623.1L1640.4 1625.5L1642.6 1630.7L1644.9 1633.4L1647.1 1631.2L1649.4 1627.7L1651.7 1624.8L1653.9 1621.3L1656.2 1618.3L1658.4 1615.7L1660.7 1610.7L1662.9 1608.9L1665.2 1611.3L1667.5 1611.6L1669.7 1617.1L1672.0 1619.0L1674.2 1624.3L1676.5 1630.5L1678.8 1631.7L1681.0 1633.5L1683.3 1636.1L1685.5 1639.7L1687.8 1643.3L1690.0 1636.7L1692.3 1638.4L1694.6 1636.1L1696.8 1636.7L1699.1 1628.7L1701.3 1624.2L1703.6 1618.9L1705.9 1596.8L1708.1 1576.0L1710.4 1554.2L1712.6 1546.9L1714.9 1540.9L1717.1 1536.0L1719.4 1555.6L1721.7 1575.0L1723.9 1591.8L1726.2 1594.8L1728.4 1600.9L1730.7 1606.3L1733.0 1610.2L1735.2 1616.5L1737.5 1623.6L1739.7 1628.2L1742.0 1635.7L1744.2 1638.4L1746.5 1639.4L1748.8 1642.7L1751.0 1645.9L1753.3 1646.8L1755.5 1649.3L1757.8 1651.8L1760.1 1653.4L1762.3 1653.3L1764.6 1653.3L1766.8 1653.3L1769.1 1647.1L1771.3 1644.5L1773.6 1641.8L1775.9 1648.6L1778.1 1650.6L1780.4 1655.9L1782.6 1658.9L1784.9 1659.8L1787.2 1662.4L1789.4 1662.6L1791.7 1665.2L1793.9 1667.9L1796.2 1669.7L1798.4 1663.8L1800.7 1660.1L1803.0 1654.5L1805.2 1655.5L1807.5 1656.9L1809.7 1660.9L1812.0 1666.5L1814.3 1671.4L1816.5 1680.9L1818.8 1688.3L1821.0 1693.6L1823.3 1695.7L1825.5 1701.9L1827.8 1705.4L1830.1 1709.8L1832.3 1711.7L1834.6 1713.0L1836.8 1720.0L1839.1 1723.8L1841.4 1727.3L1843.6 1729.5L1845.9 1730.9L1848.1 1736.6L1850.4 1739.9L1852.6 1736.9L1854.9 1737.1L1857.2 1736.2L1859.4 1734.6L1861.7 1732.5L1863.9 1732.3L1866.2 1728.0L1868.5 1723.2L1870.7 1717.9L1873.0 1713.9L1875.2 1708.8L1877.5 1706.0L1879.7 1706.8L1882.0 1703.5L1884.3 1703.2L1886.5 1701.6L1888.8 1705.0L1891.0 1706.4L1893.3 1705.8L1895.6 1705.3L1897.8 1706.8L1900.1 1707.1L1902.3 1709.8L1904.6 1711.6L1906.8 1710.6L1909.1 1715.6L1911.3 1716.7L1913.6 1716.1L1915.8 1717.7L1918.1 1719.8L1920.3 1722.7L1922.6 1723.5L1924.8 1727.1L1927.1 1730.2L1929.4 1730.0L1931.6 1727.2L1933.9 1726.0L1936.1 1723.1L1938.4 1735.6L1940.7 1751.0L1942.9 1767.9L1945.2 1775.1L1947.4 1781.1L1949.7 1788.1L1951.9 1795.2L1954.2 1798.4L1956.5 1803.4L1958.7 1806.2L1961.0 1812.7L1963.2 1819.9L1965.5 1824.7L1967.8 1831.2L1970.0 1823.5L1972.3 1816.6L1974.5 1804.4L1976.8 1799.0L1979.0 1791.1L1981.3 1780.5L1983.6 1771.1L1985.8 1759.3L1988.1 1770.2L1990.3 1780.0L1992.6 1788.5L1994.9 1778.9L1997.1 1771.5L1999.4 1807.1L2001.6 1845.2L2003.9 1880.8L2006.1 1912.7L2008.4 1894.0L2010.7 1873.0L2012.9 1852.6L2015.2 1829.0L2017.4 1804.7L2019.7 1784.4L2022.0 1776.3L2024.2 1767.0L2026.5 1760.9L2028.7 1754.5L2031.0 1743.4L2033.2 1735.8L2035.5 1724.7L2037.8 1714.0L2040.0 1729.2L2042.3 1747.7L2044.5 1765.2L2046.8 1754.0L2049.1 1743.2L2051.3 1734.5L2053.6 1728.2L2055.8 1723.9L2058.1 1715.4L2060.3 1704.1L2062.6 1702.8L2064.9 1704.2L2067.1 1708.2L2069.4 1687.6L2071.6 1662.8L2073.9 1634.1L2076.2 1632.2L2078.4 1629.0L2080.7 1625.8L2082.9 1631.3L2085.2 1630.8L2087.4 1635.1L2089.7 1631.9L2092.0 1630.5L2094.2 1630.2L2096.5 1631.3L2098.7 1632.7L2101.0 1637.5L2103.3 1641.5L2105.5 1646.5L2107.8 1651.2L2110.0 1655.4L2112.3 1660.8L2114.5 1662.6L2116.8 1665.3L2119.1 1668.2L2121.3 1668.2L2123.6 1669.9L2125.8 1672.8L2128.1 1674.9L2130.4 1680.2L2132.6 1680.9L2134.9 1685.6L2137.1 1683.3L2139.4 1678.1L2141.6 1677.5L2143.9 1675.9L2146.2 1679.7L2148.4 1682.5L2150.7 1691.1L2152.9 1706.0L2155.2 1721.4L2157.5 1736.1L2159.7 1743.9L2162.0 1749.4L2164.2 1749.1L2166.5 1748.0L2168.7 1745.6L2171.0 1755.9L2173.3 1764.6L2175.5 1773.1L2177.8 1778.3L2180.0 1783.8L2182.3 1788.9L2184.6 1775.4L2186.8 1761.9L2189.1 1746.1L2191.3 1724.7L2193.6 1699.1L2195.8 1679.0L2198.1 1658.9L2200.4 1641.9L2202.6 1624.2L2204.9 1625.1L2207.1 1623.8L2209.4 1626.3L2211.7 1623.7L2213.9 1622.0L2216.2 1619.3L2218.4 1615.0L2220.7 1601.4L2222.9 1585.6L2225.2 1574.8L2227.5 1589.0L2229.7 1598.8L2232.0 1611.6L2234.9 1602.1L2237.9 1590.7L2240.6 1607.4L2243.3 1624.7L2245.5 1635.6L2247.8 1646.9L2250.0 1659.0L2252.3 1656.0L2254.6 1653.1L2256.8 1650.8L2259.1 1648.5L2261.3 1634.4L2263.6 1619.4L2265.9 1604.3L2268.1 1598.5L2270.4 1591.7L2272.6 1587.5L2274.9 1589.9L2277.1 1587.5L2279.4 1603.7L2281.7 1613.1L2283.9 1627.7L2286.2 1650.0L2288.4 1676.7L2290.7 1670.6L2293.0 1662.5L2295.2 1655.3L2297.5 1652.4L2299.7 1648.5L2302.0 1644.1L2304.2 1640.2L2306.5 1638.0L2309.2 1638.2L2311.9 1634.2L2314.9 1648.1L2317.8 1662.6L2320.1 1657.5L2322.3 1656.8L2324.6 1653.0L2326.8 1648.1L2329.1 1644.6L2331.3 1647.6L2333.6 1650.0L2335.9 1657.6L2338.1 1664.3L2340.4 1669.7L2342.6 1677.1L2344.9 1683.8L2347.2 1673.5L2349.4 1661.8L2351.7 1652.3L2353.9 1659.0L2356.2 1667.1L2358.4 1672.2L2360.7 1667.6L2363.0 1658.8L2365.2 1653.9L2367.5 1649.6L2369.7 1638.4L2372.0 1627.5L2374.3 1626.5L2376.5 1622.8L2378.8 1629.1L2381.0 1639.0L2383.3 1650.5L2385.5 1657.8L2387.8 1667.7L2390.1 1676.3L2392.3 1685.3L2394.6 1694.0L2396.8 1692.3L2399.1 1690.8L2401.4 1690.6L2403.6 1691.9L2405.9 1698.7L2408.1 1709.9L2410.4 1710.3L2412.6 1711.8L2414.9 1716.4L2417.2 1719.0L2419.4 1706.9L2421.7 1698.6L2423.9 1690.6L2426.2 1682.5L2428.5 1676.3L2430.7 1667.3L2433.0 1681.6L2435.2 1699.7L2437.5 1684.3L2439.7 1671.5L2442.0 1716.1L2444.4 1716.5L2446.9 1718.6L2449.3 1719.3L2451.7 1718.1L2454.2 1716.4L2456.6 1716.9L2459.0 1717.6L2461.3 1718.7L2463.6 1715.7L2465.8 1709.5L2468.1 1707.3L2470.3 1705.2L2472.6 1707.4L2474.8 1711.5L2477.1 1711.4L2479.4 1713.6L2481.6 1709.9L2483.9 1706.8L2486.1 1709.2L2488.4 1711.8L2490.7 1714.2L2492.9 1728.6L2495.2 1747.9L2497.4 1749.4L2499.7 1750.5L2501.9 1752.7L2504.2 1739.0L2506.5 1726.5L2508.7 1734.2L2511.0 1740.2L2513.2 1731.8L2515.5 1728.0L2517.8 1723.9L2520.0 1715.7L2522.3 1708.3L2524.5 1703.0L2526.8 1695.0L2529.0 1688.5L2531.3 1673.6L2533.6 1657.2L2535.8 1643.7L2538.1 1639.3L2540.3 1635.7L2542.6 1636.4L2544.9 1633.5L2547.1 1625.6L2549.4 1621.0L2551.6 1624.2L2553.9 1626.7L2556.1 1628.2L2558.4 1622.5L2560.7 1619.9L2562.9 1628.1L2565.2 1637.3L2567.4 1649.0L2569.7 1654.3L2572.0 1658.9L2574.2 1656.3L2576.5 1658.4L2578.7 1660.4L2581.0 1656.8L2583.2 1649.8L2585.5 1658.3L2587.8 1659.4L2590.0 1662.3L2592.3 1655.5L2594.5 1647.4L2596.8 1642.0L2599.1 1636.4L2601.3 1636.1L2603.6 1636.0L2605.8 1637.3L2608.1 1640.3L2610.3 1645.1L2612.6 1652.3L2614.9 1653.8L2617.1 1656.7L2619.4 1657.5L2621.6 1655.5L2623.9 1650.7L2626.2 1648.7L2628.4 1650.6L2630.7 1652.4L2632.9 1655.7L2635.2 1656.0L2637.4 1660.6L2639.7 1653.7L2642.0 1650.4L2644.2 1647.0L2646.5 1646.8L2648.7 1649.4L2651.0 1652.4L2653.3 1654.1L2655.5 1654.6L2657.8 1656.2L2660.0 1653.0L2662.3 1653.9L2664.5 1654.5L2666.8 1657.2L2669.1 1665.0L2671.3 1667.8L2673.6 1667.8L2675.8 1666.7L2678.1 1670.3L2680.4 1670.3L2682.6 1666.2L2684.9 1664.6L2687.1 1660.1L2689.4 1656.5L2691.6 1652.9L2693.9 1645.4L2696.2 1641.2L2698.4 1647.1L2700.7 1651.6L2702.9 1653.2L2705.2 1658.3L2707.5 1657.9L2709.7 1661.4L2712.0 1662.5L2714.2 1661.2L2716.5 1653.5L2718.7 1651.8L2721.0 1651.9L2723.3 1651.1L2725.5 1650.1L2727.8 1651.2L2730.0 1652.3L2732.3 1646.5L2734.6 1647.7L2736.8 1646.1L2739.1 1644.5L2741.3 1642.6L2743.6 1644.6L2745.8 1648.7L2748.1 1653.7L2750.4 1645.8L2752.6 1638.9L2754.9 1633.0L2757.1 1636.4L2759.4 1636.2L2761.7 1641.6L2763.9 1642.2L2766.2 1633.0L2768.4 1631.5L2770.7 1630.3L2772.9 1626.0L2775.2 1626.1L2777.5 1632.3L2779.7 1633.5L2782.0 1637.4L2784.2 1634.3L2786.5 1632.2L2788.8 1629.7L2791.0 1629.1L2793.3 1631.4L2795.5 1631.8L2797.8 1629.0L2800.0 1626.5L2802.3 1633.3L2804.6 1640.0L2806.8 1644.4L2809.1 1642.3L2811.3 1644.0L2813.6 1642.5L2815.9 1639.0L2818.1 1646.0L2820.4 1650.8L2822.6 1652.7L2824.9 1649.2L2827.1 1642.8L2829.4 1636.9L2831.7 1628.8L2833.9 1633.2L2836.2 1638.7L2838.4 1645.4L2840.7 1645.1L2843.0 1646.4L2845.2 1646.5L2847.5 1644.3L2849.7 1648.1L2852.0 1648.5L2854.7 1650.3L2857.4 1654.3L2860.3 1644.2L2863.3 1634.2L2865.5 1626.7L2867.8 1622.0L2870.1 1618.2L2872.3 1616.7L2874.6 1617.0L2876.8 1614.8L2879.1 1612.7L2881.3 1614.8L2883.6 1619.2L2885.9 1620.8L2888.1 1623.0L2890.4 1628.3L2892.6 1628.8L2894.9 1633.6L2897.2 1639.0L2899.4 1646.5L2901.7 1654.0L2903.9 1660.6L2906.5 1662.6L2909.0 1665.5L2911.6 1670.7L2914.5 1677.9L2917.5 1686.4L2919.7 1677.3L2922.0 1669.7L2924.3 1658.7L2926.5 1653.5L2928.8 1649.7L2931.0 1645.9L2933.3 1645.0L2935.5 1642.3L2937.8 1645.3L2940.1 1643.6L2942.8 1651.2L2945.5 1661.0L2949.5 1660.3L2952.4 1664.9L2955.3 1672.8L2958.1 1675.8L2960.4 1659.3L2962.6 1644.9L2964.9 1629.7L2967.6 1618.0L2970.3 1602.9L2973.3 1608.6L2976.2 1608.4L2979.4 1604.3L2983.0 1660.6L2985.2 1674.3L2987.5 1691.8L2989.7 1696.0L2992.0 1698.8L2994.3 1703.3L2997.4 1672.2" stroke="#0000FF" stroke-width="4.5" fill="none" stroke-linejoin="round"/>
<path d="M1340.0 1929.5L1342.3 1947.0L1344.5 1965.9L1346.8 1986.3L1349.0 1991.3L1351.3 1971.5L1353.6 1952.2L1355.8 1936.4L1358.1 1946.5L1360.3 1951.6L1362.6 1964.7L1364.8 1939.8L1367.1 1924.9L1369.4 1901.8L1371.6 1884.8L1373.9 1885.1L1376.1 1882.1L1378.4 1877.4L1380.7 1872.9L1382.9 1864.1L1385.2 1867.6L1387.4 1863.2L1389.7 1883.1L1391.9 1894.3L1394.2 1906.2L1396.5 1902.5L1398.7 1902.2L1401.0 1896.9L1403.2 1904.9L1405.5 1913.5L1407.8 1922.5L1410.0 1902.6L1412.3 1871.2L1414.5 1837.1L1416.8 1821.3L1419.0 1818.7L1421.3 1810.2L1423.6 1803.6L1425.8 1805.0L1428.1 1814.2L1430.3 1814.6L1432.6 1810.8L1434.9 1757.5L1437.1 1704.1L1439.4 1708.7L1441.6 1724.6L1443.9 1731.8L1446.1 1745.3L1448.4 1738.9L1450.7 1729.6L1452.9 1742.4L1455.2 1765.9L1457.4 1780.2L1459.7 1801.0L1462.0 1808.6L1464.2 1825.1L1466.5 1842.9L1468.7 1859.5L1471.0 1880.0L1473.2 1899.3L1475.5 1906.2L1477.8 1904.1L1480.0 1905.2L1482.3 1895.9L1484.5 1908.6L1486.8 1918.7L1489.1 1930.2L1491.3 1940.6L1493.6 1940.4L1495.8 1941.8L1497.2 1872.2L1499.4 1835.5L1501.7 1807.6L1504.4 1796.1L1507.1 1796.8L1509.4 1826.7L1511.6 1849.4L1513.9 1867.3L1516.2 1870.4L1518.4 1880.1L1520.7 1888.5L1522.8 1880.3L1524.9 1874.7L1527.0 1873.2L1529.1 1862.2L1531.2 1862.7L1533.3 1847.7L1536.0 1875.4L1538.7 1886.0L1541.0 1884.4L1543.3 1874.7L1545.5 1859.4L1547.8 1873.8L1550.0 1889.0L1552.3 1903.1L1554.5 1891.9L1556.8 1879.7L1559.1 1867.6L1561.3 1892.4L1563.6 1921.7L1565.8 1945.8L1568.1 1949.7L1570.4 1951.1L1572.6 1958.3L1574.9 1940.2L1577.1 1918.7L1579.4 1919.6L1581.6 1927.1L1583.9 1936.2L1587.5 1891.3L1591.1 1946.5L1594.3 1820.7L1597.5 1763.9L1599.7 1779.3L1602.0 1788.1L1604.2 1779.5L1606.5 1773.6L1608.7 1757.7L1611.0 1744.1L1613.3 1747.8L1615.5 1752.3L1617.8 1750.3L1620.0 1743.4L1622.3 1731.1L1624.6 1712.5L1626.8 1704.6L1629.1 1695.4L1631.3 1682.8L1633.6 1683.6L1635.8 1678.8L1638.1 1680.6L1640.4 1681.7L1642.6 1667.6L1644.9 1657.8L1647.1 1656.8L1649.4 1649.5L1651.7 1642.4L1653.9 1658.3L1656.2 1677.8L1658.4 1659.9L1660.7 1650.4L1662.9 1644.0L1665.2 1628.2L1667.5 1634.8L1669.7 1645.4L1672.0 1657.2L1674.2 1667.6L1676.5 1681.9L1678.8 1701.4L1681.0 1709.5L1683.3 1730.9L1685.5 1745.5L1687.8 1722.9L1690.0 1697.3L1692.3 1687.5L1694.6 1697.5L1696.8 1709.0L1699.1 1724.4L1701.3 1691.8L1703.6 1666.5L1705.9 1652.9L1708.1 1642.0L1710.4 1623.8L1712.6 1613.4L1714.9 1590.9L1717.1 1573.5L1719.4 1595.0L1721.7 1616.9L1723.9 1651.7L1726.2 1639.8L1728.4 1626.8L1730.7 1615.5L1733.0 1604.0L1735.2 1609.2L1737.5 1621.7L1739.7 1637.9L1742.0 1645.6L1744.2 1651.6L1746.5 1656.2L1748.8 1658.2L1751.0 1659.7L1753.3 1663.3L1755.5 1670.0L1757.8 1676.3L1760.1 1671.9L1762.3 1677.6L1764.6 1683.8L1766.8 1679.2L1769.1 1679.1L1771.3 1688.6L1773.6 1696.2L1775.9 1701.3L1778.1 1710.1L1780.4 1714.2L1782.6 1721.3L1784.9 1721.4L1787.2 1723.4L1789.4 1722.4L1791.7 1728.0L1793.9 1731.1L1796.2 1733.8L1798.4 1742.5L1800.7 1748.4L1803.0 1718.7L1805.2 1692.8L1807.5 1723.4L1809.7 1754.0L1812.0 1767.9L1814.3 1789.3L1816.5 1804.5L1818.8 1824.2L1821.0 1839.7L1823.3 1867.2L1825.5 1876.0L1827.8 1896.1L1830.1 1905.4L1832.3 1928.4L1834.6 1931.3L1836.8 1945.7L1839.1 1954.7L1841.4 1945.1L1843.6 1924.1L1845.9 1910.4L1848.1 1920.5L1850.4 1930.9L1852.6 1933.5L1854.9 1932.2L1857.2 1910.3L1859.4 1886.3L1861.7 1865.7L1863.9 1841.6L1866.2 1847.8L1868.5 1858.8L1870.7 1876.0L1873.0 1893.8L1875.2 1906.9L1877.5 1925.7L1879.7 1921.3L1882.0 1923.5L1884.3 1928.2L1886.5 1934.7L1888.8 1940.2L1891.0 1948.9L1893.3 1964.8L1895.5 1956.7L1897.8 1951.7L1900.0 1952.1L1902.3 1932.1L1904.5 1927.3L1906.8 1914.8L1909.0 1889.8L1911.3 1872.2L1913.6 1898.1L1915.8 1915.6L1918.1 1933.8L1920.3 1924.0L1922.6 1893.5L1924.8 1881.2L1927.1 1853.1L1929.4 1835.1L1931.6 1816.7L1933.9 1849.5L1936.1 1880.7L1938.4 1917.4L1940.7 1908.8L1942.9 1901.8L1945.2 1894.6L1947.4 1961.9L1949.7 2034.2L1951.9 2004.9L1954.2 1972.0L1956.5 1943.5L1958.7 1932.0L1961.0 1914.2L1963.2 1901.5L1965.5 1924.6L1967.8 1952.4L1970.0 1965.0L1972.3 1936.6L1974.5 1899.1L1976.8 1873.5L1979.0 1850.4L1981.3 1847.2L1983.6 1831.9L1985.8 1832.7L1988.1 1820.9L1990.3 1805.2L1992.6 1792.1L1994.9 1778.6L1997.6 1847.1L2000.3 1918.4L2002.5 1960.6L2004.8 2000.6L2006.8 1973.0L2008.9 1954.9L2010.9 1921.9L2012.9 1899.1L2015.2 1866.5L2017.4 1836.4L2019.7 1813.7L2022.0 1813.5L2024.2 1830.2L2026.5 1822.8L2028.7 1801.3L2031.0 1782.4L2033.2 1778.8L2035.5 1774.2L2038.2 1799.4L2040.9 1833.1L2043.2 1864.5L2045.4 1880.9L2048.4 1830.6L2051.3 1775.2L2053.6 1769.8L2055.8 1762.3L2058.1 1758.0L2060.3 1768.3L2062.6 1775.8L2064.9 1790.9L2067.1 1801.4L2069.4 1754.6L2071.6 1697.9L2073.9 1692.6L2076.2 1682.1L2078.4 1674.5L2080.7 1682.8L2082.9 1691.4L2085.2 1700.8L2087.4 1696.7L2089.7 1695.1L2092.0 1684.4L2094.2 1682.7L2096.5 1697.8L2098.7 1704.3L2101.0 1728.0L2103.3 1738.4L2105.5 1734.2L2107.8 1747.9L2110.0 1750.2L2112.3 1753.5L2114.5 1760.2L2116.8 1752.5L2119.1 1751.2L2121.3 1752.1L2123.6 1757.1L2125.8 1766.4L2128.1 1777.4L2130.4 1788.0L2132.6 1792.2L2134.9 1797.7L2137.1 1800.4L2139.4 1805.6L2141.6 1802.8L2143.9 1790.9L2146.2 1774.3L2148.4 1797.0L2150.7 1826.7L2152.9 1853.6L2155.2 1835.8L2157.5 1824.6L2159.7 1813.6L2162.0 1843.1L2164.2 1888.1L2166.5 1845.8L2168.7 1815.8L2171.0 1787.7L2173.3 1822.8L2175.5 1856.7L2177.8 1887.9L2180.0 1895.6L2182.3 1894.7L2184.6 1871.5L2186.8 1827.8L2189.1 1796.3L2191.3 1762.6L2193.6 1736.3L2195.8 1707.6L2198.4 1690.4L2201.0 1683.5L2203.5 1666.1L2206.5 1668.8L2209.4 1675.1L2211.7 1673.6L2213.9 1669.3L2216.2 1660.1L2218.4 1644.6L2220.7 1628.2L2222.9 1610.8L2225.2 1611.1L2227.5 1616.5L2229.7 1613.7L2232.0 1623.8L2234.2 1621.7L2236.5 1613.1L2238.8 1604.5L2241.0 1613.3L2243.3 1632.4L2245.5 1655.3L2247.8 1660.8L2250.0 1679.0L2252.3 1677.4L2254.6 1687.6L2256.8 1688.3L2259.1 1691.5L2261.3 1687.1L2263.6 1669.4L2265.9 1649.9L2268.1 1642.5L2270.4 1628.7L2272.6 1618.2L2274.9 1601.9L2277.1 1625.4L2279.4 1642.9L2281.7 1666.7L2283.9 1686.6L2286.2 1696.2L2288.4 1689.0L2290.7 1689.0L2293.0 1686.7L2295.2 1685.4L2297.5 1681.3L2299.7 1687.0L2302.0 1685.4L2304.2 1681.6L2306.5 1681.7L2309.2 1684.5L2311.9 1687.5L2314.2 1697.9L2316.4 1716.2L2319.4 1709.7L2322.3 1700.8L2324.6 1703.5L2326.8 1699.4L2329.1 1700.1L2331.3 1695.1L2333.6 1704.3L2335.9 1715.1L2338.1 1721.8L2340.4 1730.6L2342.6 1735.7L2344.9 1735.2L2347.2 1748.1L2349.4 1730.8L2351.7 1711.4L2353.9 1704.3L2356.2 1721.0L2358.4 1737.2L2360.7 1719.2L2363.0 1713.9L2365.2 1701.0L2367.5 1681.8L2369.7 1671.2L2372.0 1660.2L2374.3 1673.7L2376.5 1687.2L2378.8 1700.5L2381.0 1703.5L2383.3 1710.5L2385.5 1725.7L2387.8 1742.6L2390.1 1770.7L2392.3 1780.3L2394.6 1798.3L2396.8 1787.2L2399.1 1780.3L2401.4 1770.3L2403.9 1797.8L2406.5 1823.5L2409.0 1853.3L2411.1 1845.4L2413.1 1846.2L2415.1 1840.0L2417.2 1831.7L2419.4 1804.1L2421.7 1782.3L2423.9 1755.0L2426.2 1744.4L2428.5 1730.8L2430.7 1746.6L2433.0 1755.0L2435.2 1761.3L2437.5 1771.4L2439.7 1776.6L2442.0 1789.7L2444.3 1798.1L2446.5 1815.2L2448.8 1835.4L2450.8 1826.6L2452.9 1817.1L2454.9 1812.8L2457.0 1813.6L2459.0 1803.6L2461.3 1794.2L2463.6 1784.4L2465.8 1779.6L2468.1 1768.2L2470.3 1762.5L2472.6 1759.9L2474.8 1767.3L2477.1 1758.1L2479.4 1758.7L2481.6 1755.6L2483.9 1762.5L2486.1 1778.1L2488.4 1794.4L2490.7 1802.4L2492.9 1811.4L2495.2 1822.6L2497.4 1832.6L2499.7 1839.6L2501.9 1844.0L2504.2 1848.1L2506.5 1817.6L2508.7 1780.7L2511.0 1777.6L2513.2 1779.8L2515.5 1775.1L2517.8 1769.1L2520.0 1759.9L2522.3 1752.5L2524.5 1754.5L2526.8 1749.6L2529.0 1736.4L2531.3 1724.1L2533.6 1716.3L2535.8 1716.9L2538.1 1709.3L2540.3 1692.2L2542.6 1687.4L2544.9 1684.5L2547.1 1670.8L2549.4 1664.3L2551.6 1663.2L2553.9 1660.5L2556.1 1655.6L2558.4 1658.6L2560.7 1666.6L2562.9 1664.5L2565.2 1673.3L2567.4 1681.9L2569.7 1688.6L2572.0 1695.6L2574.2 1692.7L2576.5 1709.3L2578.7 1710.8L2581.0 1719.6L2583.2 1719.9L2585.5 1718.4L2587.8 1708.4L2590.0 1702.5L2592.3 1701.9L2594.5 1697.1L2596.8 1702.2L2599.1 1697.6L2601.3 1696.2L2603.6 1701.6L2605.8 1698.7L2608.1 1700.5L2610.3 1718.3L2612.6 1724.2L2614.9 1733.5L2617.1 1733.9L2619.4 1727.7L2621.6 1713.0L2623.9 1711.2L2626.2 1716.2L2628.4 1705.8L2630.7 1703.9L2632.9 1700.5L2635.2 1705.2L2637.4 1706.7L2639.7 1708.9L2642.0 1702.3L2644.2 1705.7L2646.5 1705.0L2648.7 1714.6L2651.0 1710.0L2653.3 1700.4L2655.5 1700.9L2657.8 1708.1L2660.0 1712.6L2662.3 1716.7L2664.5 1729.2L2666.8 1733.5L2669.1 1735.9L2671.3 1736.3L2673.6 1739.0L2675.8 1749.5L2678.1 1759.1L2680.4 1754.9L2682.6 1748.2L2684.9 1740.6L2687.1 1741.3L2689.4 1735.3L2691.6 1735.5L2693.9 1727.8L2696.2 1728.8L2698.4 1725.8L2700.7 1726.3L2702.9 1726.5L2705.2 1736.1L2707.5 1742.4L2709.7 1746.9L2712.0 1743.4L2714.2 1739.6L2716.5 1736.4L2718.7 1734.4L2721.0 1725.2L2723.3 1720.3L2725.5 1717.9L2727.8 1717.3L2730.0 1716.5L2732.3 1712.0L2734.6 1705.0L2736.8 1706.9L2739.1 1702.9L2741.3 1705.9L2743.6 1711.7L2745.8 1705.0L2748.1 1714.0L2750.4 1704.9L2752.6 1692.3L2754.9 1684.1L2757.1 1674.1L2759.4 1674.5L2761.7 1675.2L2763.9 1675.6L2766.2 1674.3L2768.4 1674.1L2770.7 1669.0L2772.9 1664.9L2775.2 1669.1L2777.5 1671.2L2779.7 1675.4L2782.0 1677.0L2784.2 1674.6L2786.5 1675.9L2788.8 1670.3L2791.0 1669.0L2793.3 1665.7L2795.5 1664.5L2797.8 1660.5L2800.0 1664.9L2802.3 1673.7L2804.6 1672.9L2806.8 1682.7L2809.1 1690.0L2811.3 1693.4L2813.6 1689.3L2815.9 1695.5L2818.1 1691.3L2820.4 1691.6L2822.6 1695.6L2824.9 1690.7L2827.1 1692.1L2829.4 1686.5L2831.7 1689.8L2833.9 1684.2L2836.2 1680.2L2838.4 1680.2L2840.7 1684.1L2843.0 1684.9L2845.2 1692.4L2847.5 1688.6L2849.7 1698.8L2852.0 1706.8L2854.2 1705.6L2856.5 1704.3L2858.8 1706.4L2861.0 1688.3L2863.3 1681.4L2865.5 1680.8L2867.8 1670.4L2870.1 1665.0L2872.3 1666.7L2874.6 1669.0L2876.8 1666.8L2879.1 1662.4L2881.3 1664.6L2883.6 1661.0L2885.9 1662.0L2888.1 1673.0L2890.4 1672.8L2892.6 1675.2L2894.9 1675.9L2897.2 1683.1L2899.4 1684.8L2901.7 1694.2L2903.9 1698.8L2906.2 1716.7L2908.4 1723.1L2910.7 1726.9L2913.0 1732.7L2915.2 1735.3L2917.5 1728.9L2919.7 1725.0L2922.0 1710.8L2924.3 1698.9L2926.5 1698.7L2928.8 1694.0L2931.0 1694.5L2933.3 1690.1L2935.5 1689.8L2937.8 1686.1L2940.1 1696.0L2942.3 1703.4L2944.6 1708.1L2946.8 1716.1L2949.1 1718.2L2951.4 1712.2L2953.6 1716.9L2955.9 1720.0L2958.1 1721.7L2960.4 1735.0L2962.6 1717.1L2964.9 1694.3L2967.2 1682.6L2969.4 1670.7L2971.7 1661.8L2973.9 1661.1L2976.2 1664.9L2979.1 1714.1L2982.1 1747.7L2984.6 1752.9L2987.0 1766.6L2989.5 1772.3L2992.0 1780.0L2994.7 1759.2L2997.4 1722.0" stroke="#ADD8E6" stroke-width="4.5" fill="none" stroke-linejoin="round"/>
<path d="M1340.0 1917.9L1342.3 1907.9L1344.5 1897.9L1346.8 1889.0L1349.0 1878.6L1351.3 1866.7L1353.6 1878.3L1355.8 1888.8L1358.1 1899.3L1360.3 1890.7L1362.6 1882.1L1364.8 1874.5L1367.1 1865.7L1369.4 1869.6L1371.6 1872.7L1373.9 1876.0L1376.1 1867.0L1378.4 1858.9L1380.7 1848.5L1382.9 1838.1L1385.2 1828.7L1387.4 1831.0L1389.7 1835.6L1391.9 1841.3L1394.2 1846.9L1396.5 1850.7L1398.7 1855.6L1401.0 1854.5L1403.2 1854.1L1405.5 1850.9L1407.8 1850.8L1410.0 1836.9L1412.3 1822.5L1414.5 1811.7L1416.8 1800.2L1419.0 1790.8L1421.3 1781.9L1423.6 1770.0L1425.8 1761.4L1428.1 1749.9L1430.3 1720.1L1432.6 1689.9L1434.9 1660.3L1437.1 1661.5L1439.4 1662.0L1441.6 1661.9L1443.9 1657.2L1446.1 1652.1L1448.4 1645.6L1450.7 1639.5L1452.9 1641.8L1455.2 1645.5L1457.4 1647.8L1459.7 1653.5L1462.0 1653.9L1464.2 1654.8L1466.5 1658.8L1468.7 1664.4L1471.0 1668.2L1473.2 1672.5L1475.5 1677.4L1477.8 1677.5L1480.0 1676.5L1482.3 1677.6L1484.5 1680.8L1486.8 1680.2L1489.1 1682.4L1491.3 1681.2L1493.6 1679.0L1495.8 1678.2L1498.1 1676.8L1500.3 1677.5L1502.6 1674.9L1504.9 1674.7L1507.1 1675.2L1509.4 1675.9L1511.6 1679.3L1513.9 1677.2L1516.2 1676.1L1518.4 1676.1L1520.7 1673.7L1522.9 1596.8L1526.1 1594.7L1527.4 1675.7L1529.7 1678.4L1532.0 1682.3L1534.2 1686.4L1536.5 1684.2L1538.7 1682.4L1541.0 1680.5L1543.3 1679.7L1545.5 1678.3L1547.8 1675.9L1550.0 1672.1L1552.3 1671.6L1554.5 1669.9L1556.8 1669.2L1559.1 1666.5L1561.3 1673.0L1563.6 1675.7L1565.8 1681.7L1568.1 1680.9L1570.4 1679.8L1572.6 1678.4L1574.9 1679.0L1577.1 1681.4L1579.4 1682.2L1581.6 1682.7L1583.9 1679.1L1586.2 1681.4L1588.4 1682.7L1590.7 1682.3L1592.9 1682.2M1611.0 1649.0L1613.3 1646.9L1615.5 1645.2L1617.8 1643.7L1620.0 1639.9L1622.3 1635.9L1624.6 1633.3L1626.8 1630.2L1629.1 1627.5L1631.3 1622.9L1633.6 1616.4L1635.8 1619.9L1638.1 1618.5L1640.4 1619.6L1642.6 1620.6L1644.9 1622.7L1647.1 1625.5L1649.4 1619.8L1651.7 1616.6L1653.9 1614.1L1656.2 1609.3L1658.4 1605.3L1660.7 1601.5L1662.9 1595.5L1665.2 1590.1L1667.5 1599.0L1669.7 1607.4L1672.0 1616.1L1674.2 1627.0L1676.5 1629.4L1678.8 1631.2L1681.0 1631.7L1683.3 1635.0L1685.5 1635.7L1687.8 1640.0M1703.6 1609.6L1705.9 1595.2L1708.1 1579.9L1710.4 1563.3L1712.6 1547.6L1714.9 1533.3L1717.1 1518.7L1719.4 1544.6L1721.7 1571.3M1809.7 1658.2L1812.0 1654.1L1814.3 1648.9L1816.5 1653.3L1818.8 1657.3L1821.0 1661.5L1823.3 1665.5M1839.1 1729.4L1841.4 1730.4L1843.6 1730.6L1845.9 1732.5L1848.1 1736.0L1850.4 1740.4L1852.6 1735.7L1854.9 1733.4L1857.2 1733.3L1859.4 1732.3M1895.6 1714.1L1897.8 1716.9L1900.1 1716.9L1902.3 1719.0L1904.6 1719.2L1906.8 1721.0L1909.1 1724.1L1911.4 1725.5L1913.6 1727.2L1915.9 1726.7L1918.1 1725.9L1920.4 1728.9L1922.7 1725.7L1924.9 1725.5L1927.2 1727.5L1929.4 1724.8L1931.7 1723.6L1933.9 1723.3L1936.2 1722.2M1900.0 1714.2L1902.3 1716.2L1904.5 1718.0L1906.8 1719.1L1909.0 1722.3L1911.3 1723.9L1913.6 1726.0M1933.9 1711.6L1936.1 1731.9M1951.9 1790.6L1954.2 1798.6L1956.5 1805.7L1958.7 1812.9L1961.0 1816.9L1963.2 1825.9L1965.5 1834.4L1967.8 1841.8L1970.0 1830.1L1972.3 1818.3L1974.5 1808.5L1976.8 1798.8L1979.0 1787.6L1981.3 1775.1L1983.6 1782.1L1985.8 1790.7L1988.1 1794.4L1990.3 1801.5L1992.6 1805.4M2001.6 1842.9L2003.9 1880.5L2006.1 1917.3L2008.4 1897.4L2010.7 1875.1L2012.9 1854.8L2015.2 1833.7L2017.4 1810.9L2019.7 1791.4L2022.0 1780.8L2024.2 1769.6L2026.5 1760.4L2028.7 1750.8L2031.0 1741.8L2033.2 1734.7L2035.5 1725.6L2037.8 1719.0L2040.0 1735.7L2042.3 1754.3L2044.5 1771.8L2046.8 1756.9L2049.1 1745.9L2051.3 1734.8L2053.6 1729.5L2055.8 1720.5L2058.1 1715.5L2060.3 1710.1L2062.6 1709.5L2064.9 1711.5L2067.1 1714.6L2069.4 1685.6L2071.6 1661.2L2073.9 1632.7L2076.2 1631.1L2078.4 1630.9L2080.7 1626.9L2082.9 1631.4L2085.2 1632.4L2087.4 1636.0L2089.7 1634.4L2092.0 1634.6L2094.2 1632.5L2096.5 1632.1L2098.7 1636.1L2101.0 1639.5L2103.3 1644.5L2105.5 1649.4L2107.8 1652.6L2110.0 1657.4L2112.3 1659.5L2114.5 1663.6L2116.8 1668.1L2119.1 1668.0L2121.3 1669.3L2123.6 1670.4L2125.8 1669.6L2128.1 1676.0L2130.4 1678.6L2132.6 1682.7L2134.9 1681.3L2137.1 1682.1L2139.4 1679.2L2141.6 1675.9L2143.9 1674.1L2146.2 1681.9L2148.4 1685.2L2150.7 1693.4L2152.9 1707.2L2155.2 1725.3L2157.5 1734.6L2159.7 1745.0L2162.0 1754.3L2164.2 1750.6L2166.5 1748.5L2168.7 1748.0L2171.0 1755.2L2173.3 1763.1L2175.5 1769.6L2177.8 1779.2L2180.0 1787.3L2182.3 1791.9L2184.6 1777.5L2186.8 1761.3L2189.1 1747.5L2191.3 1726.7L2193.6 1703.4L2195.8 1681.4L2198.1 1662.2L2200.4 1643.4L2202.6 1625.7L2204.9 1625.0L2207.1 1624.4L2209.4 1625.2L2211.7 1624.9L2213.9 1619.2L2216.2 1618.4L2218.4 1617.9L2220.7 1604.9L2222.9 1590.9L2225.2 1576.5L2227.5 1587.2L2229.7 1599.0L2232.0 1612.2L2234.9 1603.0L2237.9 1593.6L2240.6 1607.9L2243.3 1624.5L2245.5 1635.7L2247.8 1650.9L2250.0 1662.9L2252.3 1659.9L2254.6 1659.9L2256.8 1658.9L2259.1 1655.1L2261.3 1637.2L2263.6 1623.9L2265.9 1607.7L2268.1 1602.5L2270.4 1594.6L2272.6 1588.3L2274.9 1588.3L2277.1 1587.4L2279.4 1600.2L2281.7 1616.2L2283.9 1629.3L2286.2 1653.9L2288.4 1676.9L2290.7 1670.8L2293.0 1665.5L2295.2 1658.7L2297.5 1652.7L2299.7 1649.7L2302.0 1646.5L2304.2 1641.9L2306.5 1639.9L2309.2 1639.0L2311.9 1639.6L2314.9 1652.4L2317.8 1670.1L2320.1 1664.3L2322.3 1660.2L2324.6 1655.3L2326.8 1647.8L2329.1 1647.6L2331.3 1649.5L2333.6 1651.0L2335.9 1656.1L2338.1 1664.0L2340.4 1670.8L2342.6 1675.1L2344.9 1682.8L2347.2 1671.3L2349.4 1658.2L2351.7 1648.9L2353.9 1655.7L2356.2 1661.7L2358.4 1667.0L2360.7 1663.1L2363.0 1661.5L2365.2 1656.6L2367.5 1651.2L2369.7 1639.2L2372.0 1630.3L2374.3 1630.3L2376.5 1625.7L2378.8 1634.0L2381.0 1644.3L2383.3 1654.5L2385.5 1662.3L2387.8 1670.6L2390.1 1680.6L2392.3 1686.6L2394.6 1693.7L2396.8 1692.4L2399.1 1691.5L2401.4 1689.6L2403.6 1695.4L2405.9 1703.4L2408.1 1712.4L2410.4 1712.4L2412.6 1713.3L2414.9 1714.9L2417.2 1719.7L2419.4 1710.7L2421.7 1700.9L2423.9 1694.9L2426.2 1688.3L2428.5 1679.5L2430.7 1672.1L2433.0 1687.8L2435.2 1704.1L2437.5 1687.6L2439.7 1671.8L2442.0 1716.0L2444.4 1716.9L2446.9 1718.3L2449.3 1718.9L2451.7 1718.8L2454.2 1717.2L2456.6 1719.2L2459.0 1720.1L2461.3 1717.2L2463.6 1716.7L2465.8 1712.9L2468.1 1709.0L2470.3 1706.0L2472.6 1705.7L2474.8 1708.3L2477.1 1710.8L2479.4 1709.6L2481.6 1707.9L2483.9 1706.8L2486.1 1710.0L2488.4 1712.7L2490.7 1716.6L2492.9 1732.6L2495.2 1750.2L2497.4 1752.2L2499.7 1755.9L2501.9 1757.6L2504.2 1741.0L2506.5 1727.9L2508.7 1736.4L2511.0 1744.3L2513.2 1738.6L2515.5 1731.3L2517.8 1725.4L2520.0 1718.3L2522.3 1709.7L2524.5 1703.3L2526.8 1697.4L2529.0 1692.8L2531.3 1675.7L2533.6 1660.1L2535.8 1642.8L2538.1 1640.8L2540.3 1637.3L2542.6 1637.5L2544.9 1633.3L2547.1 1625.8L2549.4 1621.7L2551.6 1623.4L2553.9 1624.0L2556.1 1625.6L2558.4 1621.6L2560.7 1620.2L2562.9 1631.3L2565.2 1640.0L2567.4 1651.6L2570.1 1651.1L2572.0 1623.7L2573.8 1664.3L2576.5 1665.3L2578.7 1661.4L2581.0 1659.2L2583.2 1657.2L2585.5 1660.1L2587.8 1662.6L2590.0 1666.7L2592.3 1657.7L2594.5 1651.0L2596.8 1643.9L2599.1 1639.0L2601.3 1640.3L2603.6 1641.4L2605.8 1639.1L2608.1 1645.4L2610.3 1651.4L2612.6 1655.0L2614.9 1663.4L2616.2 1663.5L2618.0 1636.5L2619.8 1655.9L2621.6 1652.4L2623.4 1654.6L2625.2 1613.3L2627.1 1649.5L2628.4 1650.5L2630.7 1651.6L2632.9 1656.3L2635.2 1658.1L2637.4 1663.4L2639.7 1659.8L2642.0 1655.4L2644.2 1651.1L2646.5 1647.6L2648.7 1649.9L2651.0 1649.8L2653.3 1654.7L2655.5 1658.4L2657.3 1659.1L2659.1 1629.2L2660.9 1659.4L2662.3 1660.3L2664.5 1662.7L2666.8 1661.8L2669.1 1664.0L2671.3 1667.7L2673.6 1669.2L2675.8 1672.5L2678.1 1673.5L2680.4 1676.7L2682.6 1669.8L2684.9 1666.1L2687.1 1663.9L2689.4 1656.9L2691.6 1652.5L2693.9 1650.3L2696.2 1645.1L2698.4 1648.6L2700.7 1652.6L2702.9 1655.3L2705.2 1658.7L2707.5 1664.6L2709.7 1668.5L2712.0 1663.3L2714.2 1659.7L2716.5 1655.1L2718.7 1653.9L2721.0 1653.3L2723.3 1653.0L2725.5 1653.0L2727.8 1650.5L2730.0 1651.4L2732.3 1649.7L2734.6 1648.7L2736.8 1645.6L2739.1 1643.5L2741.3 1644.2L2743.6 1646.6L2745.8 1648.7L2748.1 1654.4L2750.4 1647.5L2752.6 1640.2L2754.9 1633.7L2757.1 1635.3L2759.4 1635.6L2761.7 1637.6L2763.9 1639.0L2766.2 1632.1L2768.4 1629.4L2770.7 1627.7L2772.9 1625.5L2775.2 1631.3L2777.5 1634.2L2779.7 1633.6L2782.0 1638.2L2784.2 1636.1L2786.5 1634.2L2788.8 1631.3L2791.0 1631.2L2793.3 1632.5L2795.5 1630.6L2797.8 1631.7L2800.0 1630.4L2802.3 1636.1L2804.6 1644.4L2806.8 1650.0L2809.1 1648.5L2811.3 1644.8L2813.6 1643.7L2815.9 1644.2L2818.1 1647.1L2820.4 1650.3L2822.6 1654.5L2824.9 1647.1L2827.1 1639.3L2829.4 1634.1L2831.7 1629.6L2833.9 1636.6L2836.2 1640.1L2838.4 1646.8L2840.7 1648.7L2843.0 1645.8L2845.2 1645.2L2847.5 1645.2L2849.7 1647.0L2852.0 1649.9L2852.4 1649.7L2854.2 1575.4L2856.1 1659.1L2857.4 1657.1L2860.3 1648.9L2863.3 1637.9L2865.5 1632.5L2867.8 1624.1L2870.1 1619.0L2872.3 1619.2L2874.6 1618.2L2876.8 1619.3L2879.1 1619.8L2881.3 1623.8L2883.6 1626.1L2885.9 1627.3L2888.1 1630.9L2890.4 1633.1L2892.6 1634.7L2894.9 1637.7L2897.2 1636.5L2899.4 1646.0L2901.7 1654.1L2903.9 1663.0L2907.5 1662.1L2909.3 1593.9L2911.2 1673.4L2911.6 1669.9L2914.5 1678.5L2917.5 1685.1L2919.7 1676.0L2922.0 1666.6L2924.3 1655.4L2926.5 1652.1L2928.8 1650.4L2931.0 1647.0L2933.3 1645.3L2935.5 1644.1L2937.8 1644.0L2940.1 1643.1L2942.8 1653.9L2945.5 1663.1L2945.5 1663.7L2947.3 1579.4L2949.1 1666.3L2949.5 1664.2L2952.4 1666.5L2955.3 1671.4L2958.1 1676.1L2960.4 1660.8L2962.6 1645.0L2964.9 1629.8L2967.6 1617.6L2970.3 1603.9L2973.3 1607.1L2976.2 1610.4L2979.4 1608.4L2983.0 1660.7L2985.2 1678.7L2987.5 1694.5L2989.7 1697.9L2992.0 1703.3L2994.3 1706.9L2997.4 1672.4" stroke="#FF8C00" stroke-width="4" fill="none" stroke-linejoin="round"/>
<path d="M1340.0 1921.9L1342.3 1943.7L1344.5 1962.4L1346.8 1984.6L1349.0 2085.8L1351.3 2049.7L1353.6 2015.6L1355.8 1976.7L1358.1 2007.6L1360.3 2034.6L1362.6 1987.4L1364.8 1940.7L1367.1 1892.1L1369.4 1899.0L1371.6 1905.0L1373.9 1905.4L1376.1 1907.1L1378.4 1932.1L1380.7 1954.2L1382.9 1916.4L1385.2 1878.9L1387.4 1882.2L1389.7 1883.5L1391.9 1915.1L1394.2 1949.0L1396.5 1960.3L1398.7 1972.4L1401.0 1954.4L1403.2 1936.1L1405.5 1919.7L1408.7 1954.6L1411.6 1919.8L1414.5 1882.2L1416.8 1857.2L1419.0 1830.4L1421.3 1802.5L1423.6 1800.8L1425.8 1797.7L1428.1 1795.7L1430.3 1777.2L1432.6 1758.7L1434.9 1727.1L1437.1 1690.7L1439.4 1708.5L1441.6 1722.8L1443.9 1737.4L1446.1 1738.3L1448.4 1739.8L1450.7 1742.3L1452.9 1758.6L1455.2 1772.2L1457.4 1789.1M1466.5 1850.6L1468.7 1861.1L1471.0 1871.6L1473.2 1880.0L1475.5 1889.1L1477.8 1899.6L1480.0 1905.2L1482.3 1913.2L1484.5 1939.3L1486.8 1967.8L1489.1 2002.8L1491.3 2038.2L1494.2 1996.1L1497.2 1950.3M1501.7 1817.4L1504.4 1816.6L1507.1 1817.7L1509.4 1840.3L1511.6 1860.1L1513.9 1885.4L1516.2 1873.4L1518.4 1864.3L1521.6 1902.5L1521.6 2340.0L1524.0 2340.0L1526.4 2340.0L1528.8 2340.0L1529.7 1880.3L1533.3 1862.9L1537.4 1885.6L1538.7 2336.4L1541.9 2338.9L1543.3 1919.2L1545.5 1915.2L1547.8 1911.8L1551.4 1965.9L1554.1 1942.5L1556.8 1921.5L1559.5 1920.9L1560.0 2338.0M1595.2 2336.9L1595.2 1823.0M1612.4 1762.3L1615.1 1752.3L1617.8 1738.4L1620.0 1744.9L1622.3 1752.6L1624.6 1754.3L1626.8 1739.7L1629.1 1724.1L1631.3 1712.8L1633.6 1699.8L1635.8 1697.6L1638.1 1691.7L1640.4 1690.7L1642.6 1701.2L1644.9 1706.0L1647.1 1715.4M1665.2 1648.2L1667.5 1651.6L1669.7 1654.9L1672.0 1655.3L1674.2 1655.9L1676.5 1658.8L1678.8 1670.8L1681.0 1686.0L1683.3 1698.8L1685.5 1710.5L1687.8 1696.8L1690.0 1684.4M1703.6 1662.2L1705.9 1628.5L1708.1 1594.0L1710.4 1576.1L1712.6 1555.8L1714.9 1548.3L1717.1 1534.1L1719.4 1573.8L1721.7 1616.6L1723.9 1604.8L1726.2 1593.5L1728.4 1583.5L1730.7 1591.7L1733.0 1599.0L1735.2 1606.6L1737.5 1615.6M1812.0 1742.1L1814.3 1748.1L1816.5 1754.3L1818.8 1769.0L1821.0 1786.3L1823.3 1801.1L1825.5 1814.5M1832.3 1924.7L1834.6 1941.3M1839.1 2014.9L1841.4 2002.0L1843.6 1991.0L1845.9 1980.2L1848.1 1965.2L1851.3 2011.4L1853.6 1986.7L1855.8 1958.3L1858.1 1932.1L1860.3 1910.8M1875.2 1932.8L1877.5 1942.9L1879.7 1953.4M1894.7 2005.2L1896.9 2021.9L1899.2 2040.2L1901.4 2052.6L1903.7 2023.7L1905.9 1986.3L1908.2 1957.2L1910.0 2004.0M1933.9 1820.7L1937.1 1838.9M1900.0 2048.8L1902.3 2023.7L1904.5 1994.3L1906.8 1966.7L1909.9 2001.7M1933.9 1822.2L1937.0 1838.3M1951.9 2002.3L1954.2 1980.9L1956.5 1961.1L1958.7 1938.3L1961.0 1924.3L1963.2 1910.1L1965.5 1896.5L1967.8 1929.9L1970.0 1964.1L1972.3 1929.0L1974.5 1894.4L1976.8 1865.2L1979.0 1850.8L1981.3 1837.7L1983.6 1823.8L1985.8 1816.4L1988.1 1807.5L1990.3 1796.4L1992.6 1838.5M1994.9 1770.9L1997.6 1842.6L2000.3 1910.2L2002.5 1960.7L2004.8 2008.6L2007.5 1968.5L2010.2 1926.6L2012.9 1889.1L2015.2 1860.3L2017.4 1832.9L2019.7 1806.2L2022.0 1811.6L2024.2 1818.7L2026.5 1804.6L2028.7 1790.1L2031.0 1775.4L2033.2 1768.4L2035.5 1763.2L2038.2 1792.6L2040.9 1819.7L2043.2 1842.0L2045.4 1864.7L2048.4 1813.4L2051.3 1762.2L2053.6 1760.4L2055.8 1757.1L2058.1 1752.0L2060.3 1760.0L2062.6 1768.5L2064.9 1779.9L2067.1 1796.6L2069.4 1748.3L2071.6 1698.2L2073.9 1687.3L2076.2 1677.4L2078.4 1663.0L2080.7 1668.7L2082.9 1680.0L2085.2 1687.6L2087.4 1685.3L2089.7 1683.3L2092.0 1683.4L2094.2 1683.9L2096.5 1693.2L2098.7 1700.7L2101.0 1713.2L2103.3 1719.9L2105.5 1723.5L2107.8 1728.4L2110.0 1736.2L2112.3 1738.2L2114.5 1741.1L2116.8 1738.2L2119.1 1736.5L2121.3 1736.5L2123.6 1748.1L2125.8 1756.9L2128.1 1766.7L2130.4 1778.3L2132.6 1788.3M2141.6 1796.6L2143.9 1779.3L2146.2 1764.1L2148.4 1792.8L2150.7 1818.7L2152.9 1844.3L2155.2 1826.0L2157.5 1810.3L2159.7 1797.0L2162.0 1839.1L2164.2 1875.7L2166.5 1843.3L2168.7 1814.5L2171.0 1780.8L2173.3 1814.2L2175.5 1848.7L2177.8 1877.1L2180.0 1882.7L2182.3 1889.1L2184.6 1857.9L2186.8 1827.3L2189.1 1795.1L2191.3 1764.0L2193.6 1734.8L2195.8 1706.3L2198.4 1691.7L2201.0 1676.9L2203.5 1663.3L2206.5 1664.5L2209.4 1670.2L2211.7 1666.7L2213.9 1660.9L2216.2 1656.2L2218.4 1637.5L2220.7 1619.8L2222.9 1599.6L2225.2 1605.4L2227.5 1609.8L2229.7 1615.2L2232.0 1618.7L2234.2 1610.7L2236.5 1604.0L2238.8 1595.1L2241.0 1613.6L2243.3 1629.5L2245.5 1646.2L2247.8 1659.5L2250.0 1671.7L2252.3 1675.0L2254.6 1671.2L2256.8 1672.9L2259.1 1669.6L2261.3 1670.3L2263.6 1656.6L2265.9 1640.0L2268.1 1627.0L2270.4 1617.5L2272.6 1605.8L2274.9 1596.5L2277.1 1617.8L2279.4 1638.7L2281.7 1660.2L2283.9 1670.9L2286.2 1689.5L2288.4 1689.2L2290.7 1687.6L2293.0 1684.3L2295.2 1682.2L2297.5 1684.6L2299.7 1685.6L2302.0 1679.1L2304.2 1672.7L2306.5 1667.2L2309.2 1671.4L2311.9 1676.5L2314.2 1690.7L2316.4 1711.8M2322.3 1697.1L2324.6 1694.1L2326.8 1694.3L2329.1 1690.0L2331.3 1687.7L2333.6 1696.2L2335.9 1703.2L2338.1 1709.4L2340.4 1714.1L2342.6 1719.7L2344.9 1729.2L2347.2 1739.3L2349.4 1722.1L2351.7 1708.5L2353.9 1693.6L2356.2 1710.1L2358.4 1729.0L2360.7 1718.2L2363.0 1707.1L2365.2 1693.7L2367.5 1678.6L2369.7 1662.2L2372.0 1647.2L2374.3 1656.0L2376.5 1668.6L2378.8 1682.5L2381.0 1694.8L2383.3 1706.5L2385.5 1717.0L2387.8 1730.4L2390.1 1750.1L2392.3 1767.9L2394.6 1788.2L2396.8 1779.9L2399.1 1769.6L2401.4 1763.1L2403.9 1792.1L2406.5 1814.9L2409.0 1841.5L2411.7 1832.2L2414.5 1823.3L2417.2 1814.2L2419.4 1790.1L2421.7 1768.6L2423.9 1745.6L2426.2 1734.9L2428.5 1721.7L2430.7 1735.2L2433.0 1746.4L2435.2 1752.3L2437.5 1758.8L2439.7 1763.4L2442.0 1777.2L2444.3 1792.4L2446.5 1806.8L2448.8 1820.5L2451.4 1819.0L2454.1 1816.1L2456.8 1809.8L2459.0 1821.2L2461.3 1828.6L2463.6 1835.2L2465.8 1820.6L2468.1 1802.8L2470.3 1792.0L2472.6 1800.1L2474.8 1806.4L2477.1 1811.8L2479.4 1801.5L2481.6 1789.4L2483.9 1778.4L2486.1 1775.7L2488.4 1770.8L2490.7 1800.2L2492.9 1828.0L2495.2 1856.9L2497.4 1850.5L2499.7 1845.1L2501.9 1840.6L2504.2 1819.2L2506.5 1795.9L2508.7 1810.8L2511.0 1826.2L2513.2 1812.6L2515.5 1801.2L2517.8 1787.0L2520.0 1781.4L2522.3 1774.4L2524.5 1765.6L2526.8 1756.1L2529.0 1753.6L2531.3 1749.9L2533.6 1728.0L2535.8 1704.4L2538.1 1714.7L2540.3 1723.8L2542.6 1733.6L2545.8 1695.3L2548.7 1684.8L2551.6 1669.3L2553.9 1662.7L2556.1 1658.3L2558.4 1652.8L2560.7 1656.3L2562.9 1660.0L2565.2 1660.9L2567.4 1668.2L2569.7 1678.1L2572.0 1684.4L2574.2 1686.4L2576.5 1687.9L2578.7 1689.1L2581.0 1692.2L2583.2 1694.0L2585.5 1697.2L2587.8 1694.6L2590.0 1693.4L2592.3 1692.0L2594.5 1681.8L2596.8 1671.2L2599.1 1664.0L2601.8 1652.1L2604.5 1641.3L2606.7 1664.5L2609.0 1685.6L2611.7 1693.0L2614.4 1701.3L2617.1 1711.8L2619.4 1705.0L2621.6 1695.6L2623.9 1686.4L2626.2 1684.7L2628.4 1683.9L2630.7 1683.7L2632.9 1694.5L2635.2 1698.8L2637.4 1705.8L2639.7 1699.0L2642.0 1698.3L2644.2 1696.1L2646.5 1694.2L2648.7 1692.4L2651.0 1687.4L2653.3 1688.5L2655.5 1691.6L2657.8 1693.9L2660.0 1700.0L2662.3 1707.2L2664.5 1709.6L2666.8 1698.1L2669.1 1685.7L2671.3 1673.9L2673.6 1703.8L2675.8 1730.1L2678.5 1735.6L2681.3 1738.3L2684.2 1730.7L2687.1 1723.8L2690.7 1681.8L2693.9 1712.9L2696.2 1704.2L2698.4 1695.5L2701.6 1631.5L2703.8 1708.4L2707.5 1685.5L2709.7 1699.9L2712.0 1719.1L2714.2 1717.0L2716.5 1713.5L2718.7 1710.9L2721.0 1710.9L2723.3 1708.3L2725.5 1704.4L2727.8 1697.8L2730.0 1690.9L2732.3 1692.8L2734.6 1694.4L2736.8 1693.5L2739.1 1695.5L2741.3 1693.7L2743.6 1690.4L2745.8 1687.5L2748.8 1677.1L2751.7 1672.1L2754.3 1670.6L2756.8 1670.3L2759.4 1667.7L2761.7 1667.8L2763.9 1666.5L2766.2 1662.7L2768.4 1654.4L2770.7 1651.1L2772.9 1646.5L2775.2 1651.1L2777.5 1654.2L2779.7 1658.2L2782.0 1655.5L2784.2 1656.6L2786.5 1652.9L2788.8 1650.4L2791.0 1651.9L2793.3 1650.3L2795.5 1647.3L2797.8 1652.5L2800.0 1659.7L2802.3 1664.2L2804.6 1664.2L2806.8 1663.7L2809.1 1662.8L2811.3 1662.8L2813.6 1665.8L2815.9 1670.2L2818.1 1676.4L2820.4 1670.7L2822.6 1665.1L2824.9 1659.5L2827.1 1650.0L2829.4 1635.5L2831.7 1626.2L2833.9 1645.3L2836.2 1667.3L2838.4 1651.9L2840.7 1637.0L2843.0 1654.2L2845.2 1672.7L2847.5 1676.1L2849.7 1676.6L2852.0 1678.2L2854.2 1680.4L2856.5 1676.9L2858.8 1670.7L2861.0 1663.9L2863.3 1655.0L2865.5 1647.8L2867.8 1641.9L2870.1 1641.7L2872.3 1640.8L2874.6 1641.7L2876.8 1637.2L2879.1 1636.4L2881.3 1634.9L2883.6 1636.0L2885.9 1635.3L2888.1 1642.2L2890.4 1644.6L2892.6 1647.9L2894.9 1652.1L2897.2 1654.2L2899.4 1655.8L2901.7 1662.3L2903.9 1669.4L2906.2 1679.4L2908.4 1686.2L2910.7 1693.2L2913.0 1696.0L2915.2 1699.7L2917.5 1685.3L2919.7 1676.3L2922.0 1664.9L2924.3 1668.1L2926.5 1669.9L2928.8 1673.4L2931.0 1673.8L2933.3 1674.5L2935.5 1666.3L2937.8 1667.5L2940.1 1671.5L2942.3 1676.4L2944.6 1681.8L2946.8 1691.1L2949.1 1698.7L2951.4 1680.1L2953.6 1662.5L2955.9 1678.6L2958.1 1692.5L2960.4 1706.2L2962.6 1685.8L2964.9 1671.9L2967.2 1651.3L2970.1 1639.8L2973.0 1631.3L2977.1 1625.6L2979.6 1671.2L2982.1 1719.5L2984.8 1722.9L2987.5 1724.2L2990.2 1730.3L2992.9 1736.3L2995.2 1721.7L2997.4 1705.7" stroke="#A52A2A" stroke-width="4" fill="none" stroke-linejoin="round"/>
<path d="M1644.2 1608.0l15 15M1644.2 1623.0l15 -15M1643.2 1623.8l15 15M1643.2 1638.8l15 -15M1658.6 1601.2l15 15M1658.6 1616.2l15 -15M1669.0 1619.3l15 15M1669.0 1634.3l15 -15M1720.9 1562.8l15 15M1720.9 1577.8l15 -15M1858.7 1720.9l15 15M1858.7 1735.9l15 -15M1905.2 1720.0l15 15M1905.2 1735.0l15 -15M2129.6 1683.4l15 15M2129.6 1698.4l15 -15M1905.1 1720.0l15 15M1905.1 1735.0l15 -15" stroke="#FF8C00" stroke-width="4" fill="none"/>
<path d="M1645.5 1669.0l15 15M1645.5 1684.0l15 -15M1662.2 1658.6l15 15M1662.2 1673.6l15 -15M1669.0 1688.4l15 15M1669.0 1703.4l15 -15M1643.2 1706.5l15 15M1643.2 1721.5l15 -15M1719.6 1587.7l15 15M1719.6 1602.7l15 -15M1745.8 1623.8l15 15M1745.8 1638.8l15 -15M1857.8 1868.6l15 15M1857.8 1883.6l15 -15M1861.0 1881.3l15 15M1861.0 1896.3l15 -15M1907.5 1944.5l15 15M1907.5 1959.5l15 -15M2129.6 1807.6l15 15M2129.6 1822.6l15 -15M1906.1 1945.4l15 15M1906.1 1960.4l15 -15" stroke="#A52A2A" stroke-width="4" fill="none"/></g>
<path d="M376.2 1424.0V2325.7" stroke="#0072BD" stroke-width="2.2" fill="none"/>
<path d="M375.2 2324.7H3000.3" stroke="#262626" stroke-width="2.2" fill="none"/>
<path d="M376.2 2304.1h27M376.2 2206.0h27M376.2 2107.8h27M376.2 2009.7h27M376.2 1911.6h27M376.2 1813.4h27M376.2 1715.3h27M376.2 1617.2h27M376.2 1519.0h27" stroke="#0072BD" stroke-width="2" fill="none"/>
<path d="M376.2 2324.7v-27M922.7 2324.7v-27M1469.2 2324.7v-27M2015.6 2324.7v-27M2562.1 2324.7v-27" stroke="#262626" stroke-width="2" fill="none"/>
<path d="M375.4 1424.5H405.0V2324.5H375.4ZM415.8 1424.5H434.0V2324.5H415.8ZM436.0 1424.5H445.0V2324.5H436.0ZM447.0 1424.5H452.0V2324.5H447.0ZM454.0 1424.5H458.0V2324.5H454.0ZM460.0 1424.5H483.0V2324.5H460.0ZM487.0 1424.5H531.0V2324.5H487.0ZM532.7 1424.5H533.6V2324.5H532.7ZM536.0 1424.5H540.0V2324.5H536.0ZM564.0 1424.5H567.0V2324.5H564.0ZM569.0 1424.5H580.0V2324.5H569.0ZM584.0 1424.5H620.0V2324.5H584.0ZM660.0 1424.5H662.0V2324.5H660.0ZM664.0 1424.5H666.0V2324.5H664.0ZM667.0 1424.5H669.0V2324.5H667.0ZM704.0 1424.5H706.0V2324.5H704.0ZM708.8 1424.5H713.0V2324.5H708.8ZM724.0 1424.5H738.0V2324.5H724.0ZM751.0 1424.5H757.0V2324.5H751.0ZM762.0 1424.5H764.0V2324.5H762.0ZM777.0 1424.5H780.0V2324.5H777.0ZM782.0 1424.5H784.0V2324.5H782.0ZM786.0 1424.5H797.0V2324.5H786.0ZM819.0 1424.5H835.0V2324.5H819.0ZM837.0 1424.5H846.0V2324.5H837.0ZM850.0 1424.5H851.0V2324.5H850.0ZM853.0 1424.5H857.0V2324.5H853.0ZM859.0 1424.5H862.0V2324.5H859.0ZM864.0 1424.5H866.0V2324.5H864.0ZM875.0 1424.5H879.0V2324.5H875.0ZM881.8 1424.5H888.0V2324.5H881.8ZM964.0 1424.5H966.0V2324.5H964.0ZM972.0 1424.5H994.8V2324.5H972.0ZM997.0 1424.5H1004.0V2324.5H997.0ZM1026.0 1424.5H1028.0V2324.5H1026.0ZM1048.0 1424.5H1074.0V2324.5H1048.0ZM1090.0 1424.5H1094.0V2324.5H1090.0ZM1095.0 1424.5H1105.0V2324.5H1095.0ZM1112.0 1424.5H1116.0V2324.5H1112.0ZM1136.0 1424.5H1137.0V2324.5H1136.0ZM1170.0 1424.5H1172.0V2324.5H1170.0ZM1174.0 1424.5H1192.0V2324.5H1174.0ZM1199.0 1424.5H1201.0V2324.5H1199.0ZM1207.0 1424.5H1214.0V2324.5H1207.0ZM1272.0 1424.5H1278.0V2324.5H1272.0ZM1285.0 1424.5H1289.0V2324.5H1285.0ZM1307.0 1424.5H1309.0V2324.5H1307.0ZM1316.0 1424.5H1320.0V2324.5H1316.0Z" fill="#808080" fill-opacity="0.5"/>
<path d="M376.0 1424.5H379.7V2324.5H376.0ZM381.2 1424.5H404.8V2324.5H381.2ZM414.2 1424.5H415.8V2324.5H414.2ZM417.9 1424.5H433.8V2324.5H417.9ZM456.1 1424.5H457.8V2324.5H456.1ZM461.9 1424.5H475.8V2324.5H461.9ZM522.1 1424.5H530.8V2324.5H522.1ZM536.0 1424.5H538.0V2324.5H536.0ZM540.0 1424.5H542.6V2324.5H540.0ZM553.1 1424.5H553.9V2324.5H553.1ZM573.1 1424.5H573.9V2324.5H573.1ZM585.0 1424.5H592.7V2324.5H585.0ZM595.1 1424.5H597.4V2324.5H595.1ZM600.0 1424.5H617.8V2324.5H600.0ZM629.1 1424.5H630.8V2324.5H629.1ZM724.0 1424.5H726.8V2324.5H724.0ZM757.1 1424.5H758.0V2324.5H757.1ZM787.9 1424.5H797.0V2324.5H787.9ZM804.0 1424.5H806.0V2324.5H804.0ZM808.0 1424.5H809.0V2324.5H808.0ZM811.0 1424.5H813.0V2324.5H811.0ZM819.0 1424.5H824.0V2324.5H819.0ZM835.0 1424.5H855.0V2324.5H835.0ZM870.0 1424.5H871.0V2324.5H870.0ZM873.0 1424.5H877.0V2324.5H873.0ZM879.0 1424.5H881.8V2324.5H879.0ZM883.8 1424.5H885.8V2324.5H883.8ZM919.0 1424.5H920.6V2324.5H919.0ZM921.6 1424.5H923.8V2324.5H921.6ZM973.0 1424.5H975.0V2324.5H973.0ZM1023.0 1424.5H1023.9V2324.5H1023.0ZM1044.0 1424.5H1045.8V2324.5H1044.0ZM1048.0 1424.5H1052.0V2324.5H1048.0ZM1077.0 1424.5H1078.8V2324.5H1077.0ZM1097.0 1424.5H1105.0V2324.5H1097.0ZM1112.0 1424.5H1116.0V2324.5H1112.0ZM1136.0 1424.5H1136.9V2324.5H1136.0ZM1152.0 1424.5H1154.0V2324.5H1152.0ZM1156.0 1424.5H1157.0V2324.5H1156.0ZM1168.0 1424.5H1169.8V2324.5H1168.0ZM1188.0 1424.5H1190.0V2324.5H1188.0ZM1214.0 1424.5H1216.0V2324.5H1214.0ZM1267.0 1424.5H1269.0V2324.5H1267.0ZM1305.0 1424.5H1309.0V2324.5H1305.0ZM1833.0 1424.5H1834.9V2324.5H1833.0ZM1837.0 1424.5H1861.0V2324.5H1837.0ZM1884.0 1424.5H1917.0V2324.5H1884.0ZM1918.8 1424.5H1928.0V2324.5H1918.8ZM1932.9 1424.5H1939.0V2324.5H1932.9ZM1940.8 1424.5H1994.9V2324.5H1940.8ZM1997.0 1424.5H2019.1V2324.5H1997.0Z" fill="#00FFFF" fill-opacity="0.5"/>
<path d="M538.0 1424.5H540.0V2324.5H538.0ZM920.6 1424.5H921.6V2324.5H920.6ZM1185.0 1424.5H1187.0V2324.5H1185.0ZM1296.0 1424.5H1298.0V2324.5H1296.0ZM1320.0 1424.5H1321.0V2324.5H1320.0Z" fill="#E2ACE2" fill-opacity="0.66"/>
<path d="M380.0 1424.5H381.2V2324.5H380.0Z" fill="#FFFF80"/>
<path d="M913.0 1424.5H914.8V2324.5H913.0ZM975.0 1424.5H977.0V2324.5H975.0ZM1301.0 1424.5H1302.8V2324.5H1301.0ZM1340.0 1424.5H1345.0V2324.5H1340.0ZM1372.0 1424.5H1833.0V2324.5H1372.0ZM1834.9 1424.5H1837.0V2324.5H1834.9ZM1861.0 1424.5H1884.0V2324.5H1861.0ZM1917.0 1424.5H1918.8V2324.5H1917.0ZM1928.0 1424.5H1932.9V2324.5H1928.0ZM1939.0 1424.5H1940.8V2324.5H1939.0ZM1994.9 1424.5H1997.0V2324.5H1994.9ZM2019.1 1424.5H2997.2V2324.5H2019.1Z" fill="#8BB9E5" fill-opacity="0.7"/>
<path d="M1834.9 1424.5H1837.0V2324.5H1834.9ZM1917.0 1424.5H1918.8V2324.5H1917.0ZM1939.0 1424.5H1940.8V2324.5H1939.0ZM1994.9 1424.5H1997.0V2324.5H1994.9Z" fill="#E2ACE2" fill-opacity="0.18"/>

<path d="M2999.3 1424.0V2325.7" stroke="#0072BD" stroke-width="2.2" fill="none"/>
<g font-size="44.1" fill="#0072BD" text-anchor="end">
<text x="355.5" y="2320.3">0</text>
<text x="355.5" y="2222.2">0.5</text>
<text x="355.5" y="2124.0">1</text>
<text x="355.5" y="2025.9">1.5</text>
<text x="355.5" y="1927.8">2</text>
<text x="355.5" y="1829.6">2.5</text>
<text x="355.5" y="1731.5">3</text>
<text x="355.5" y="1633.4">3.5</text>
<text x="355.5" y="1535.2">4</text>
</g>
<g font-size="44.1" fill="#262626" text-anchor="middle">
<text x="375.7" y="2386.5">0</text>
<text x="922.2" y="2386.5">5</text>
<text x="1468.7" y="2386.5">10</text>
<text x="2015.1" y="2386.5">15</text>
<text x="2561.6" y="2386.5">20</text>
<text x="1686.2" y="2450.5">UTC hours on 20240905</text>
</g>
<text transform="translate(254.0 1877.6) rotate(-90)" font-size="44.1" fill="#0072BD" text-anchor="middle">log10 Liquid Water Path, log10(g/m<tspan font-size="39.6" dy="-19.9" dx="4">2</tspan><tspan dy="19.9" dx="-8.8"> )</tspan></text>
<path d="M488.7 1498.2H635.4" stroke="#0000FF" stroke-width="4.2" fill="none"/>
<path d="M488.7 1549.4H635.4" stroke="#ADD8E6" stroke-width="4.2" fill="none"/>
<path d="M488.7 1600.4H635.4" stroke="#FF8C00" stroke-width="4.2" fill="none"/>
<path d="M488.7 1650.9H635.4" stroke="#A52A2A" stroke-width="4.2" fill="none"/>
<g font-size="39.2" fill="#000">
<text x="649.0" y="1513.0">MWR 2C LWP</text>
<text x="649.0" y="1564.2">MWR 3C LWP</text>
<text x="649.0" y="1615.2">PHY-ITER-2C</text>
<text x="649.0" y="1665.7">PHY-ITER-3C</text>
</g>
</g>
<g id="ax3">
<clipPath id="cl2"><rect x="373.2" y="2548.3" width="2631.1" height="908.4"/></clipPath>
<g clip-path="url(#cl2)"></g>
<path d="M376.2 2547.8V3452.7" stroke="#0072BD" stroke-width="2.2" fill="none"/>
<path d="M375.2 3451.7H3000.3" stroke="#262626" stroke-width="2.2" fill="none"/>
<path d="M376.2 3413.9h27M376.2 3263.4h27M376.2 3112.8h27M376.2 2962.3h27M376.2 2811.7h27M376.2 2661.2h27" stroke="#0072BD" stroke-width="2" fill="none"/>
<path d="M376.2 3451.7v-27M922.7 3451.7v-27M1469.2 3451.7v-27M2015.6 3451.7v-27M2562.1 3451.7v-27" stroke="#262626" stroke-width="2" fill="none"/>

<path d="M406.0 3413.9h7.4M435.1 3413.9h0.0M446.2 3413.9h12.8M484.4 3413.9h1.9M531.9 3413.9h3.3M545.0 3413.9h23.2M581.1 3413.9h2.2M620.9 3413.9h102.1M739.4 3413.9h45.3M797.9 3413.9h19.9M857.9 3413.9h14.7M888.5 3413.9h82.4M996.1 3413.9h0.3M1005.9 3413.9h41.5M1074.4 3413.9h20.5M1105.8 3413.9h67.2M1192.9 3413.9h12.8M1217.0 3413.9h154.8M619.0 3188.1h0.0M664.9 3188.1h3.8M779.6 3188.1h0.0M883.6 3188.1h3.5M998.0 3188.1h2.2M1027.2 3188.1h0.5M1276.7 3188.1h0.5M380.1 3112.8h24.6M417.2 3112.8h125.6M553.8 3112.8h0.0M564.4 3112.8h53.0M660.8 3112.8h0.5M704.8 3112.8h7.4M724.7 3112.8h13.1M752.0 3112.8h11.2M777.7 3112.8h18.0M805.0 3112.8h77.0M882.9 3112.8h0.0M914.1 3112.8h9.5M965.2 3112.8h38.5M1045.7 3112.8h27.0M1091.1 3112.8h12.8M1112.9 3112.8h2.2M1136.4 3112.8h0.5M1171.1 3112.8h20.2M1200.0 3112.8h13.4M1272.9 3112.8h2.2M1285.8 3112.8h2.2M1307.6 3112.8h0.5M1316.9 3112.8h2.2M380.4 3037.6h0.0M1421.1 2962.3h555.5M2011.0 2962.3h0.0M2021.9 2962.3h976.9M380.1 2962.3h24.0M415.1 2962.3h18.6M456.8 2962.3h18.8M522.4 2962.3h20.5M553.8 2962.3h0.0M573.7 2962.3h0.3M586.3 2962.3h31.1M630.2 2962.3h0.0M724.7 2962.3h2.2M757.7 2962.3h0.3M788.6 2962.3h7.4M805.0 2962.3h18.3M835.8 2962.3h18.3M870.5 2962.3h14.7M884.1 2962.3h1.4M914.1 2962.3h9.5M974.2 2962.3h2.7M1023.6 2962.3h0.5M1045.7 2962.3h5.5M1078.0 2962.3h0.5M1098.4 2962.3h5.5M1112.9 2962.3h2.2M1136.1 2962.3h0.5M1153.1 2962.3h3.5M1169.2 2962.3h0.5M1189.1 2962.3h0.8M1214.8 2962.3h0.5M1267.7 2962.3h0.5M1302.4 2962.3h5.7M1430.1 2887.0h536.9M1976.6 2887.0h0.0M2029.2 2887.0h969.6M1340.9 2736.5h1.8M1373.5 2736.5h1.8M1420.6 2736.5h7.7M1437.4 2736.5h10.8M1508.1 2736.5h4.0M1602.8 2736.5h22.2M1639.5 2736.5h34.4M1692.1 2736.5h4.0M1705.2 2736.5h27.1M1746.9 2736.5h29.4M1807.2 2736.5h7.2M1863.3 2736.5h7.7M2020.1 2736.5h18.5M2050.9 2736.5h87.9M2185.9 2736.5h60.2M2257.1 2736.5h25.3M2291.9 2736.5h50.3M2353.6 2736.5h33.0M2427.9 2736.5h0.4M2440.6 2736.5h4.5M2520.8 2736.5h4.5M2535.7 2736.5h48.9M2597.8 2736.5h62.0M2670.8 2736.5h3.6M2690.3 2736.5h308.5M1340.9 2661.2h3.6M1375.3 2661.2h9.5M1426.5 2661.2h45.7M1511.7 2661.2h2.2M1599.2 2661.2h198.0M1805.8 2661.2h12.2M1861.5 2661.2h22.2M2021.9 2661.2h122.3M2181.9 2661.2h215.6M2413.8 2661.2h6.8M2429.3 2661.2h43.0M2506.7 2661.2h492.1M1378.9 2585.9h76.5M1472.3 2585.9h123.7M1612.3 2585.9h34.8M1663.1 2585.9h3.6M1675.7 2585.9h0.4M1685.3 2585.9h5.4M1707.0 2585.9h7.2M1723.3 2585.9h0.0M1739.6 2585.9h2.2M1816.2 2585.9h9.0M1834.3 2585.9h0.0M1843.4 2585.9h18.1M1878.3 2585.9h1.8M1896.4 2585.9h14.5M1934.5 2585.9h4.0M1954.9 2585.9h180.3M2144.3 2585.9h854.5" stroke="#FF8C00" stroke-width="8.2" stroke-linecap="round" fill="none"/>
<path d="M406.0 3395.1h9.3M435.1 3395.1h0.0M446.2 3395.1h12.8M484.4 3395.1h1.9M531.9 3395.1h36.3M581.1 3395.1h2.2M620.9 3395.1h102.1M739.4 3395.1h45.3M797.9 3395.1h19.9M836.1 3395.1h0.0M846.8 3395.1h32.5M888.5 3395.1h82.4M996.1 3395.1h0.3M1005.9 3395.1h41.5M1074.4 3395.1h20.5M1105.8 3395.1h67.2M1189.1 3395.1h16.6M1214.8 3395.1h157.0M1834.4 3395.1h25.5M1885.9 3395.1h132.0M460.9 3319.8h0.0M570.2 3319.8h0.0M679.5 3319.8h0.0M788.8 3319.8h0.0M898.1 3319.8h0.0M1007.4 3319.8h0.0M1116.7 3319.8h0.0M1226.0 3319.8h0.0M1335.3 3319.8h0.0M1499.2 3319.8h0.0M1608.5 3319.8h0.0M1772.5 3319.8h0.0M1881.8 3319.8h0.0M1991.0 3319.8h0.0M2100.3 3319.8h0.0M2209.6 3319.8h0.0M2318.9 3319.8h0.0M2428.2 3319.8h0.0M2537.5 3319.8h0.0M2646.8 3319.8h0.0M2756.1 3319.8h0.0M2865.4 3319.8h0.0M2974.7 3319.8h0.0M619.0 3169.3h0.0M664.9 3169.3h3.8M779.6 3169.3h0.0M883.6 3169.3h3.5M998.0 3169.3h2.2M1027.2 3169.3h0.5M1276.7 3169.3h0.5M380.1 3094.0h24.6M417.2 3094.0h125.6M553.8 3094.0h0.0M564.4 3094.0h53.0M660.8 3094.0h0.5M704.8 3094.0h7.4M724.7 3094.0h13.1M752.0 3094.0h11.2M777.7 3094.0h18.0M805.0 3094.0h77.0M882.9 3094.0h0.0M914.1 3094.0h9.5M965.2 3094.0h38.5M1045.7 3094.0h27.0M1091.1 3094.0h12.8M1112.9 3094.0h2.2M1136.4 3094.0h0.5M1171.1 3094.0h20.2M1200.0 3094.0h13.4M1272.9 3094.0h2.2M1285.8 3094.0h2.2M1307.6 3094.0h0.5M1316.9 3094.0h2.2M380.4 3018.7h0.0M1322.3 2943.5h0.0M1344.0 2943.5h0.4M1379.4 2943.5h3.6M1402.5 2943.5h9.0M1437.4 2943.5h34.4M1515.8 2943.5h314.9M1863.3 2943.5h11.3M1931.3 2943.5h8.6M1996.1 2943.5h0.4M2032.8 2943.5h23.5M2069.5 2943.5h85.6M2167.9 2943.5h5.4M2189.6 2943.5h216.5M2424.3 2943.5h2.2M2438.8 2943.5h0.4M2487.7 2943.5h0.9M2513.5 2943.5h0.9M2533.9 2943.5h464.9M539.0 2943.5h0.0M914.1 2943.5h7.9M976.4 2943.5h0.3M1185.8 2943.5h0.3M1297.0 2943.5h5.5M1320.4 2943.5h0.5M1344.2 2943.5h0.3M1378.9 2943.5h4.1M1435.6 2868.2h1.8M1452.3 2868.2h21.3M1597.8 2868.2h12.6M1623.2 2868.2h212.5M1863.3 2868.2h7.2M1918.2 2868.2h0.0M1929.5 2868.2h10.4M2040.1 2868.2h10.8M2062.3 2868.2h98.3M2189.6 2868.2h220.6M2506.3 2868.2h9.5M2526.7 2868.2h472.1M1340.9 2717.7h1.8M1373.5 2717.7h1.8M1420.6 2717.7h7.7M1437.4 2717.7h10.8M1508.1 2717.7h4.0M1602.8 2717.7h22.2M1639.5 2717.7h34.4M1692.1 2717.7h4.0M1705.2 2717.7h27.1M1746.9 2717.7h29.4M1807.2 2717.7h7.2M1863.3 2717.7h7.7M2020.1 2717.7h18.5M2050.9 2717.7h87.9M2185.9 2717.7h60.2M2257.1 2717.7h25.3M2291.9 2717.7h50.3M2353.6 2717.7h33.0M2427.9 2717.7h0.4M2440.6 2717.7h4.5M2520.8 2717.7h4.5M2535.7 2717.7h48.9M2597.8 2717.7h62.0M2670.8 2717.7h3.6M2690.3 2717.7h308.5M1340.9 2642.4h3.6M1375.3 2642.4h9.5M1426.5 2642.4h45.7M1511.7 2642.4h2.2M1599.2 2642.4h198.0M1805.8 2642.4h12.2M1861.5 2642.4h22.2M2021.9 2642.4h122.3M2181.9 2642.4h215.6M2413.8 2642.4h6.8M2429.3 2642.4h43.0M2506.7 2642.4h492.1M1378.9 2567.1h76.5M1472.3 2567.1h48.4M1530.3 2567.1h6.8M1546.6 2567.1h12.6M1612.3 2567.1h34.8M1663.1 2567.1h3.6M1675.7 2567.1h0.4M1685.3 2567.1h5.4M1707.0 2567.1h7.2M1723.3 2567.1h0.0M1739.6 2567.1h2.2M1772.2 2567.1h0.0M1810.8 2567.1h14.5M1874.2 2567.1h7.7M2025.6 2567.1h109.6M2144.3 2567.1h854.5" stroke="#A52A2A" stroke-width="8.2" stroke-linecap="round" fill="none"/>
<path d="M2999.3 2547.8V3452.7" stroke="#0072BD" stroke-width="2.2" fill="none"/>
<g font-size="44.1" fill="#0072BD" text-anchor="end">
<text x="355.5" y="3430.1">0</text>
<text x="355.5" y="3279.6">2</text>
<text x="355.5" y="3129.0">4</text>
<text x="355.5" y="2978.5">6</text>
<text x="355.5" y="2827.9">8</text>
<text x="355.5" y="2677.4">10</text>
</g>
<g font-size="44.1" fill="#262626" text-anchor="middle">
<text x="375.7" y="3513.5">0</text>
<text x="922.2" y="3513.5">5</text>
<text x="1468.7" y="3513.5">10</text>
<text x="2015.1" y="3513.5">15</text>
<text x="2561.6" y="3513.5">20</text>
<text x="1686.2" y="3577.5">UTC hours on 20240905</text>
</g>
<text transform="translate(269.0 3001.3) rotate(-90)" font-size="44.0" fill="#0072BD" text-anchor="middle">DQ Flag</text>
<circle cx="507.7" cy="2598.2" r="4" fill="#FF8C00"/><circle cx="507.7" cy="2650.2" r="4" fill="#A52A2A"/>
<g font-size="39.2" fill="#000"><text x="593.6" y="2612.8">MWR2C</text><text x="593.6" y="2664.8">MWR3C</text></g>
</g>
</svg>
</body></html>
